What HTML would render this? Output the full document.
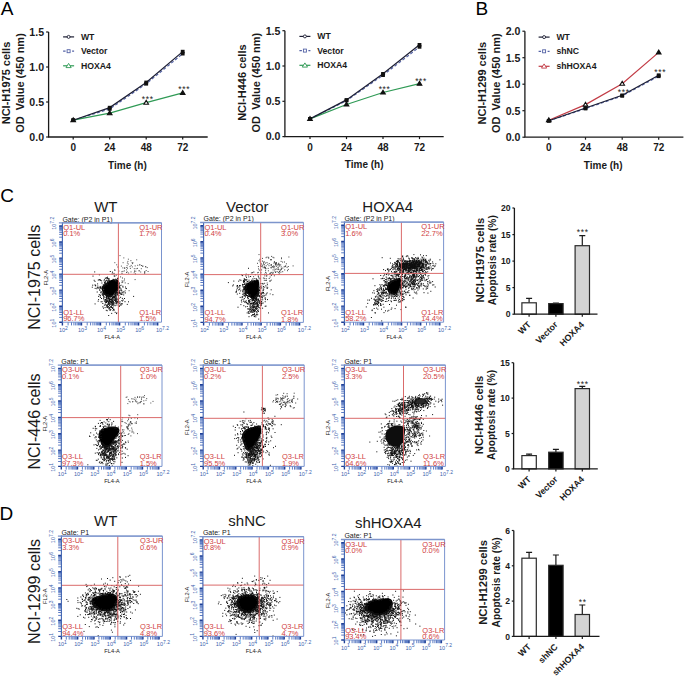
<!DOCTYPE html>
<html><head><meta charset="utf-8"><style>html,body{margin:0;padding:0;background:#fff;width:685px;height:676px;overflow:hidden;font-family:"Liberation Sans",sans-serif}</style></head>
<body>
<svg width="685" height="676" viewBox="0 0 685 676" style="position:absolute;left:0;top:0" font-family='Liberation Sans, sans-serif'>
<rect width="685" height="676" fill="#fff"/>
<defs><filter id="bl" x="-5%" y="-5%" width="110%" height="110%"><feGaussianBlur stdDeviation="0.35"/></filter></defs>
<text x="0.7" y="14.7" font-size="19" fill="#000">A</text>
<text x="475.6" y="15.1" font-size="19" fill="#000">B</text>
<text x="0.2" y="201.6" font-size="19" fill="#000">C</text>
<text x="-0.4" y="519.8" font-size="19" fill="#000">D</text>
<path d="M48.6 32V137H207.7" fill="none" stroke="#1a1a1a" stroke-width="1.3"/>
<path d="M46.1 137H48.6" stroke="#1a1a1a" stroke-width="1.2"/>
<text x="44.1" y="140.8" font-size="10.6" font-weight="bold" text-anchor="end" fill="#1a1a1a">0.0</text>
<path d="M46.1 102H48.6" stroke="#1a1a1a" stroke-width="1.2"/>
<text x="44.1" y="105.8" font-size="10.6" font-weight="bold" text-anchor="end" fill="#1a1a1a">0.5</text>
<path d="M46.1 67H48.6" stroke="#1a1a1a" stroke-width="1.2"/>
<text x="44.1" y="70.8" font-size="10.6" font-weight="bold" text-anchor="end" fill="#1a1a1a">1.0</text>
<path d="M46.1 32H48.6" stroke="#1a1a1a" stroke-width="1.2"/>
<text x="44.1" y="35.8" font-size="10.6" font-weight="bold" text-anchor="end" fill="#1a1a1a">1.5</text>
<path d="M73.2 137V139.5" stroke="#1a1a1a" stroke-width="1.2"/>
<text x="73.2" y="151" font-size="10" font-weight="bold" text-anchor="middle" fill="#1a1a1a">0</text>
<path d="M109.7 137V139.5" stroke="#1a1a1a" stroke-width="1.2"/>
<text x="109.7" y="151" font-size="10" font-weight="bold" text-anchor="middle" fill="#1a1a1a">24</text>
<path d="M146.2 137V139.5" stroke="#1a1a1a" stroke-width="1.2"/>
<text x="146.2" y="151" font-size="10" font-weight="bold" text-anchor="middle" fill="#1a1a1a">48</text>
<path d="M182.7 137V139.5" stroke="#1a1a1a" stroke-width="1.2"/>
<text x="182.7" y="151" font-size="10" font-weight="bold" text-anchor="middle" fill="#1a1a1a">72</text>
<text x="127.4" y="168.5" font-size="10" font-weight="bold" text-anchor="middle" fill="#1a1a1a">Time (h)</text>
<text x="9.8" y="83" font-size="11" font-weight="bold" text-anchor="middle" fill="#1a1a1a" transform="rotate(-90 9.8 83)">NCI-H1975 cells</text>
<text x="24" y="83" font-size="11" font-weight="bold" text-anchor="middle" fill="#1a1a1a" transform="rotate(-90 24 83)" xml:space="preserve">OD  Value (450 nm)</text>
<polyline points="73.2,120.2 109.7,109 146.2,83.8 182.7,53.7" fill="none" stroke="#5563a6" stroke-width="1.2" stroke-dasharray="3,2"/>
<polyline points="73.2,120.2 109.7,113.2 146.2,102.7 182.7,92.9" fill="none" stroke="#2f9a55" stroke-width="1.2"/>
<polyline points="73.2,120.2 109.7,107.6 146.2,82.4 182.7,51.6" fill="none" stroke="#1c1e33" stroke-width="1.2"/>
<rect x="71.3" y="118.4" width="3.8" height="3.6" fill="#111"/>
<rect x="107.8" y="107.2" width="3.8" height="3.6" fill="#111"/>
<rect x="144.3" y="82" width="3.8" height="3.6" fill="#111"/>
<rect x="180.8" y="51.9" width="3.8" height="3.6" fill="#111"/>
<path d="M73.2 117.9l2.3 3.8h-4.6z" fill="#111" stroke="#111" stroke-width="1.1"/>
<path d="M109.7 110.9l2.3 3.8h-4.6z" fill="#111" stroke="#111" stroke-width="1.1"/>
<path d="M146.2 100.4l2.3 3.8h-4.6z" fill="#fff" stroke="#111" stroke-width="1.1"/>
<path d="M182.7 90.6l2.3 3.8h-4.6z" fill="#111" stroke="#111" stroke-width="1.1"/>
<rect x="71.3" y="118.4" width="3.8" height="3.6" fill="#111"/>
<rect x="107.8" y="105.8" width="3.8" height="3.6" fill="#111"/>
<rect x="144.3" y="80.6" width="3.8" height="3.6" fill="#111"/>
<rect x="180.8" y="49.8" width="3.8" height="3.6" fill="#111"/>
<text x="147.7" y="101.7" font-size="8.5" text-anchor="middle" fill="#222" letter-spacing="0.6">***</text>
<text x="184.2" y="91.7" font-size="8.5" text-anchor="middle" fill="#222" letter-spacing="0.6">***</text>
<path d="M63.1 36.9h11" stroke="#1c1e33" stroke-width="1.2"/>
<circle cx="68.6" cy="36.9" r="1.5" fill="#fff" stroke="#1c1e33" stroke-width="0.9"/>
<text x="80.9" y="39.8" font-size="8.7" font-weight="bold" fill="#1a1a1a">WT</text>
<path d="M63.1 51.2h11" stroke="#5563a6" stroke-width="1.2" stroke-dasharray="2.5,2"/>
<rect x="67.1" y="49.7" width="3" height="3" fill="#fff" stroke="#5563a6" stroke-width="0.9"/>
<text x="80.9" y="54.1" font-size="8.7" font-weight="bold" fill="#1a1a1a">Vector</text>
<path d="M63.1 65.8h11" stroke="#2f9a55" stroke-width="1.2"/>
<path d="M68.6 63.4l2.6 4.2h-5.2z" fill="#fff" stroke="#2f9a55" stroke-width="0.9"/>
<text x="80.9" y="68.7" font-size="8.7" font-weight="bold" fill="#1a1a1a">HOXA4</text>
<path d="M284.9 30.7V136.6H443.7" fill="none" stroke="#1a1a1a" stroke-width="1.3"/>
<path d="M282.4 136.6H284.9" stroke="#1a1a1a" stroke-width="1.2"/>
<text x="280.4" y="140.4" font-size="10.6" font-weight="bold" text-anchor="end" fill="#1a1a1a">0.0</text>
<path d="M282.4 101.3H284.9" stroke="#1a1a1a" stroke-width="1.2"/>
<text x="280.4" y="105.1" font-size="10.6" font-weight="bold" text-anchor="end" fill="#1a1a1a">0.5</text>
<path d="M282.4 66H284.9" stroke="#1a1a1a" stroke-width="1.2"/>
<text x="280.4" y="69.8" font-size="10.6" font-weight="bold" text-anchor="end" fill="#1a1a1a">1.0</text>
<path d="M282.4 30.7H284.9" stroke="#1a1a1a" stroke-width="1.2"/>
<text x="280.4" y="34.5" font-size="10.6" font-weight="bold" text-anchor="end" fill="#1a1a1a">1.5</text>
<path d="M310 136.6V139.1" stroke="#1a1a1a" stroke-width="1.2"/>
<text x="310" y="150.6" font-size="10" font-weight="bold" text-anchor="middle" fill="#1a1a1a">0</text>
<path d="M346.5 136.6V139.1" stroke="#1a1a1a" stroke-width="1.2"/>
<text x="346.5" y="150.6" font-size="10" font-weight="bold" text-anchor="middle" fill="#1a1a1a">24</text>
<path d="M383 136.6V139.1" stroke="#1a1a1a" stroke-width="1.2"/>
<text x="383" y="150.6" font-size="10" font-weight="bold" text-anchor="middle" fill="#1a1a1a">48</text>
<path d="M419.5 136.6V139.1" stroke="#1a1a1a" stroke-width="1.2"/>
<text x="419.5" y="150.6" font-size="10" font-weight="bold" text-anchor="middle" fill="#1a1a1a">72</text>
<text x="364.2" y="168.1" font-size="10" font-weight="bold" text-anchor="middle" fill="#1a1a1a">Time (h)</text>
<text x="246.1" y="82.6" font-size="11" font-weight="bold" text-anchor="middle" fill="#1a1a1a" transform="rotate(-90 246.1 82.6)">NCI-H446 cells</text>
<text x="260.3" y="82.6" font-size="11" font-weight="bold" text-anchor="middle" fill="#1a1a1a" transform="rotate(-90 260.3 82.6)" xml:space="preserve">OD  Value (450 nm)</text>
<polyline points="310,118.9 346.5,100.6 383,75.2 419.5,46.9" fill="none" stroke="#5563a6" stroke-width="1.2" stroke-dasharray="3,2"/>
<polyline points="310,118.9 346.5,104.5 383,92.5 419.5,83.7" fill="none" stroke="#2f9a55" stroke-width="1.2"/>
<polyline points="310,118.9 346.5,99.9 383,73.8 419.5,44.8" fill="none" stroke="#1c1e33" stroke-width="1.2"/>
<rect x="308.1" y="117.1" width="3.8" height="3.6" fill="#111"/>
<rect x="344.6" y="98.8" width="3.8" height="3.6" fill="#111"/>
<rect x="381.1" y="73.4" width="3.8" height="3.6" fill="#111"/>
<rect x="417.6" y="45.1" width="3.8" height="3.6" fill="#111"/>
<path d="M310 116.6l2.3 3.8h-4.6z" fill="#111" stroke="#111" stroke-width="1.1"/>
<path d="M346.5 102.2l2.3 3.8h-4.6z" fill="#111" stroke="#111" stroke-width="1.1"/>
<path d="M383 90.2l2.3 3.8h-4.6z" fill="#111" stroke="#111" stroke-width="1.1"/>
<path d="M419.5 81.4l2.3 3.8h-4.6z" fill="#111" stroke="#111" stroke-width="1.1"/>
<rect x="308.1" y="117.1" width="3.8" height="3.6" fill="#111"/>
<rect x="344.6" y="98.1" width="3.8" height="3.6" fill="#111"/>
<rect x="381.1" y="72" width="3.8" height="3.6" fill="#111"/>
<rect x="417.6" y="43" width="3.8" height="3.6" fill="#111"/>
<text x="384.5" y="91.8" font-size="8.5" text-anchor="middle" fill="#222" letter-spacing="0.6">***</text>
<text x="421" y="84.1" font-size="8.5" text-anchor="middle" fill="#222" letter-spacing="0.6">***</text>
<path d="M299.4 36.4h11" stroke="#1c1e33" stroke-width="1.2"/>
<circle cx="304.9" cy="36.4" r="1.5" fill="#fff" stroke="#1c1e33" stroke-width="0.9"/>
<text x="317.2" y="39.3" font-size="8.7" font-weight="bold" fill="#1a1a1a">WT</text>
<path d="M299.4 50.6h11" stroke="#5563a6" stroke-width="1.2" stroke-dasharray="2.5,2"/>
<rect x="303.4" y="49.1" width="3" height="3" fill="#fff" stroke="#5563a6" stroke-width="0.9"/>
<text x="317.2" y="53.5" font-size="8.7" font-weight="bold" fill="#1a1a1a">Vector</text>
<path d="M299.4 65.3h11" stroke="#2f9a55" stroke-width="1.2"/>
<path d="M304.9 62.9l2.6 4.2h-5.2z" fill="#fff" stroke="#2f9a55" stroke-width="0.9"/>
<text x="317.2" y="68.2" font-size="8.7" font-weight="bold" fill="#1a1a1a">HOXA4</text>
<path d="M524.9 31.2V137.2H683.4" fill="none" stroke="#1a1a1a" stroke-width="1.3"/>
<path d="M522.4 137.2H524.9" stroke="#1a1a1a" stroke-width="1.2"/>
<text x="520.4" y="141" font-size="10.6" font-weight="bold" text-anchor="end" fill="#1a1a1a">0.0</text>
<path d="M522.4 110.7H524.9" stroke="#1a1a1a" stroke-width="1.2"/>
<text x="520.4" y="114.5" font-size="10.6" font-weight="bold" text-anchor="end" fill="#1a1a1a">0.5</text>
<path d="M522.4 84.2H524.9" stroke="#1a1a1a" stroke-width="1.2"/>
<text x="520.4" y="88" font-size="10.6" font-weight="bold" text-anchor="end" fill="#1a1a1a">1.0</text>
<path d="M522.4 57.7H524.9" stroke="#1a1a1a" stroke-width="1.2"/>
<text x="520.4" y="61.5" font-size="10.6" font-weight="bold" text-anchor="end" fill="#1a1a1a">1.5</text>
<path d="M522.4 31.2H524.9" stroke="#1a1a1a" stroke-width="1.2"/>
<text x="520.4" y="35" font-size="10.6" font-weight="bold" text-anchor="end" fill="#1a1a1a">2.0</text>
<path d="M548.8 137.2V139.7" stroke="#1a1a1a" stroke-width="1.2"/>
<text x="548.8" y="151.2" font-size="10" font-weight="bold" text-anchor="middle" fill="#1a1a1a">0</text>
<path d="M585.5 137.2V139.7" stroke="#1a1a1a" stroke-width="1.2"/>
<text x="585.5" y="151.2" font-size="10" font-weight="bold" text-anchor="middle" fill="#1a1a1a">24</text>
<path d="M622.2 137.2V139.7" stroke="#1a1a1a" stroke-width="1.2"/>
<text x="622.2" y="151.2" font-size="10" font-weight="bold" text-anchor="middle" fill="#1a1a1a">48</text>
<path d="M658.7 137.2V139.7" stroke="#1a1a1a" stroke-width="1.2"/>
<text x="658.7" y="151.2" font-size="10" font-weight="bold" text-anchor="middle" fill="#1a1a1a">72</text>
<text x="603.2" y="168.7" font-size="10" font-weight="bold" text-anchor="middle" fill="#1a1a1a">Time (h)</text>
<text x="486.1" y="83.2" font-size="11" font-weight="bold" text-anchor="middle" fill="#1a1a1a" transform="rotate(-90 486.1 83.2)">NCI-H1299 cells</text>
<text x="500.3" y="83.2" font-size="11" font-weight="bold" text-anchor="middle" fill="#1a1a1a" transform="rotate(-90 500.3 83.2)" xml:space="preserve">OD  Value (450 nm)</text>
<polyline points="548.8,120.2 585.5,104.6 622.2,83.7 658.7,52.4" fill="none" stroke="#c23b45" stroke-width="1.2"/>
<polyline points="548.8,120.8 585.5,108.6 622.2,95.9 658.7,76.2" fill="none" stroke="#5563a6" stroke-width="1.2" stroke-dasharray="3,2"/>
<polyline points="548.8,120.8 585.5,108 622.2,95.3 658.7,75.2" fill="none" stroke="#1c1e33" stroke-width="1.2"/>
<path d="M548.8 117.9l2.3 3.8h-4.6z" fill="#111" stroke="#111" stroke-width="1.1"/>
<path d="M585.5 102.3l2.3 3.8h-4.6z" fill="#fff" stroke="#111" stroke-width="1.1"/>
<path d="M622.2 81.4l2.3 3.8h-4.6z" fill="#fff" stroke="#111" stroke-width="1.1"/>
<path d="M658.7 50.1l2.3 3.8h-4.6z" fill="#111" stroke="#111" stroke-width="1.1"/>
<rect x="546.9" y="119" width="3.8" height="3.6" fill="#111"/>
<rect x="583.6" y="106.8" width="3.8" height="3.6" fill="#111"/>
<rect x="620.3" y="94.1" width="3.8" height="3.6" fill="#111"/>
<rect x="656.8" y="74.5" width="3.8" height="3.6" fill="#111"/>
<rect x="546.9" y="119" width="3.8" height="3.6" fill="#111"/>
<rect x="583.6" y="106.2" width="3.8" height="3.6" fill="#111"/>
<rect x="620.3" y="93.5" width="3.8" height="3.6" fill="#111"/>
<rect x="656.8" y="73.4" width="3.8" height="3.6" fill="#111"/>
<text x="623.7" y="94.7" font-size="8.5" text-anchor="middle" fill="#222" letter-spacing="0.6">***</text>
<text x="660.2" y="74.7" font-size="8.5" text-anchor="middle" fill="#222" letter-spacing="0.6">***</text>
<path d="M538.6 37.1h11" stroke="#1c1e33" stroke-width="1.2"/>
<circle cx="544.1" cy="37.1" r="1.5" fill="#fff" stroke="#1c1e33" stroke-width="0.9"/>
<text x="556.4" y="40" font-size="8.7" font-weight="bold" fill="#1a1a1a">WT</text>
<path d="M538.6 51.3h11" stroke="#5563a6" stroke-width="1.2" stroke-dasharray="2.5,2"/>
<rect x="542.6" y="49.8" width="3" height="3" fill="#fff" stroke="#5563a6" stroke-width="0.9"/>
<text x="556.4" y="54.2" font-size="8.7" font-weight="bold" fill="#1a1a1a">shNC</text>
<path d="M538.6 66.3h11" stroke="#c23b45" stroke-width="1.2"/>
<path d="M544.1 63.9l2.6 4.2h-5.2z" fill="#fff" stroke="#c23b45" stroke-width="0.9"/>
<text x="556.4" y="69.2" font-size="8.7" font-weight="bold" fill="#1a1a1a">shHOXA4</text>
<text x="40" y="277.3" font-size="16" text-anchor="middle" fill="#1a1a1a" transform="rotate(-90 40 277.3)">NCI-1975 cells</text>
<text x="40" y="421.5" font-size="16" text-anchor="middle" fill="#1a1a1a" transform="rotate(-90 40 421.5)">NCI-446 cells</text>
<text x="40" y="591.5" font-size="16" text-anchor="middle" fill="#1a1a1a" transform="rotate(-90 40 591.5)">NCI-1299 cells</text>
<path d="M62.4 317.4h-3.2M62.4 314.6h-3.2M62.4 312.5h-3.2M62.4 311h-3.2M62.4 309.7h-3.2M62.4 308.7h-3.2M62.4 307.7h-3.2M62.4 306.9h-3.2M62.4 301.3h-3.2M62.4 298.5h-3.2M62.4 296.5h-3.2M62.4 295h-3.2M62.4 293.7h-3.2M62.4 292.6h-3.2M62.4 291.7h-3.2M62.4 290.9h-3.2M62.4 285.3h-3.2M62.4 282.5h-3.2M62.4 280.5h-3.2M62.4 278.9h-3.2M62.4 277.7h-3.2M62.4 276.6h-3.2M62.4 275.7h-3.2M62.4 274.8h-3.2M62.4 269.3h-3.2M62.4 266.5h-3.2M62.4 264.5h-3.2M62.4 262.9h-3.2M62.4 261.6h-3.2M62.4 260.6h-3.2M62.4 259.6h-3.2M62.4 258.8h-3.2M62.4 253.2h-3.2M62.4 250.4h-3.2M62.4 248.4h-3.2M62.4 246.9h-3.2M62.4 245.6h-3.2M62.4 244.5h-3.2M62.4 243.6h-3.2M62.4 242.8h-3.2M62.4 237.2h-3.2M62.4 234.4h-3.2M62.4 232.4h-3.2M62.4 230.8h-3.2M62.4 229.6h-3.2M62.4 228.5h-3.2M62.4 227.6h-3.2M62.4 226.7h-3.2M68.1 322.2v3.2M71.5 322.2v3.2M73.9 322.2v3.2M75.7 322.2v3.2M77.2 322.2v3.2M78.5 322.2v3.2M79.6 322.2v3.2M80.6 322.2v3.2M87.2 322.2v3.2M90.6 322.2v3.2M92.9 322.2v3.2M94.8 322.2v3.2M96.3 322.2v3.2M97.6 322.2v3.2M98.7 322.2v3.2M99.6 322.2v3.2M106.3 322.2v3.2M109.6 322.2v3.2M112 322.2v3.2M113.8 322.2v3.2M115.3 322.2v3.2M116.6 322.2v3.2M117.7 322.2v3.2M118.7 322.2v3.2M125.3 322.2v3.2M128.7 322.2v3.2M131 322.2v3.2M132.9 322.2v3.2M134.4 322.2v3.2M135.7 322.2v3.2M136.8 322.2v3.2M137.8 322.2v3.2M144.4 322.2v3.2M147.7 322.2v3.2M150.1 322.2v3.2M152 322.2v3.2M153.5 322.2v3.2M154.7 322.2v3.2M155.8 322.2v3.2M156.8 322.2v3.2" stroke="#5d7cc4" stroke-width="1"/>
<path d="M62.4 322.2h-3.2M62.4 306.2h-3.2M62.4 290.1h-3.2M62.4 274.1h-3.2M62.4 258.1h-3.2M62.4 242h-3.2M62.4 226h-3.2M62.4 322.2v3.2M81.5 322.2v3.2M100.5 322.2v3.2M119.6 322.2v3.2M138.6 322.2v3.2M157.7 322.2v3.2" stroke="#1f3f95" stroke-width="1.4"/>
<text x="56.2" y="323.2" font-size="5.5" fill="#3c5fae" transform="rotate(-90 56.2 323.2)" text-anchor="middle">10<tspan font-size="5" dy="-2.2">1</tspan></text>
<text x="56.2" y="307.2" font-size="5.5" fill="#3c5fae" transform="rotate(-90 56.2 307.2)" text-anchor="middle">10<tspan font-size="5" dy="-2.2">2</tspan></text>
<text x="56.2" y="291.1" font-size="5.5" fill="#3c5fae" transform="rotate(-90 56.2 291.1)" text-anchor="middle">10<tspan font-size="5" dy="-2.2">3</tspan></text>
<text x="56.2" y="275.1" font-size="5.5" fill="#3c5fae" transform="rotate(-90 56.2 275.1)" text-anchor="middle">10<tspan font-size="5" dy="-2.2">4</tspan></text>
<text x="56.2" y="259.1" font-size="5.5" fill="#3c5fae" transform="rotate(-90 56.2 259.1)" text-anchor="middle">10<tspan font-size="5" dy="-2.2">5</tspan></text>
<text x="56.2" y="243" font-size="5.5" fill="#3c5fae" transform="rotate(-90 56.2 243)" text-anchor="middle">10<tspan font-size="5" dy="-2.2">6</tspan></text>
<text x="56.2" y="223.3" font-size="5.5" fill="#3c5fae" transform="rotate(-90 56.2 223.3)" text-anchor="middle">10<tspan font-size="5" dy="-2.2">7.2</tspan></text>
<text x="63.4" y="331.7" font-size="5.5" fill="#3c5fae" text-anchor="middle">10<tspan font-size="5" dy="-2.2">2</tspan></text>
<text x="82.5" y="331.7" font-size="5.5" fill="#3c5fae" text-anchor="middle">10<tspan font-size="5" dy="-2.2">3</tspan></text>
<text x="101.5" y="331.7" font-size="5.5" fill="#3c5fae" text-anchor="middle">10<tspan font-size="5" dy="-2.2">4</tspan></text>
<text x="120.6" y="331.7" font-size="5.5" fill="#3c5fae" text-anchor="middle">10<tspan font-size="5" dy="-2.2">5</tspan></text>
<text x="139.6" y="331.7" font-size="5.5" fill="#3c5fae" text-anchor="middle">10<tspan font-size="5" dy="-2.2">6</tspan></text>
<text x="162.5" y="331.7" font-size="5.5" fill="#3c5fae" text-anchor="middle">10<tspan font-size="5" dy="-2.2">7.2</tspan></text>
<text x="48.1" y="277.8" font-size="5.7" text-anchor="middle" fill="#222" transform="rotate(-90 48.1 277.8)">FL2-A</text>
<text x="112.2" y="339" font-size="5.7" text-anchor="middle" fill="#222">FL4-A</text>
<text x="62.4" y="221.5" font-size="7" fill="#222">Gate: (P2 in P1)</text>
<text x="105.8" y="212.3" font-size="15" text-anchor="middle" fill="#1a1a1a">WT</text>
<g clip-path="url(#c1)" filter="url(#bl)">
<path d="M103.9 285C105.2 283.9 108 281.5 110 280.6C112 279.6 114.5 279.5 115.9 279.6C117.3 279.6 117.9 279.3 118.3 281C118.7 282.8 119 287.8 118.3 290C117.6 292.1 115.4 292.8 114 294C112.6 295.1 111.3 296.6 110 297C108.6 297.3 107.2 296.8 106 296C104.8 295.1 103.2 293.5 102.5 292C101.9 290.5 101.8 288.2 102 287C102.3 285.9 102.6 286.1 103.9 285Z" fill="#050505"/>
<path d="M118.8 303.7h1M103.4 289.3h1M103.9 279.7h1M100.8 291.8h1M112.5 307.9h1M118.4 295.3h1M116.3 290.9h1M111.9 298.6h1M114.9 293.7h1M103.5 292.1h1M111 296.3h1M111.9 299.1h1M123.2 294.9h1M114.7 296.9h1M108.7 280.5h1M116.7 290.7h1M107.6 298.8h1M119.7 285.7h1M101.9 288.3h1M115.2 294h1M114.2 300h1M107.7 281h1M105.6 294.9h1M99.3 287.2h1M120.1 297.3h1M119.1 293.2h1M92.2 285.2h1M94.6 284.8h1M104.2 285.9h1M109.5 299.4h1M113 280.2h1M118.5 286.8h1M122.7 300h1M103 288.8h1M106.8 295h1M101.7 286.3h1M105 284.9h1M115 293.7h1M114.2 300.5h1M117.9 284.7h1M113.9 280.8h1M110.1 304h1M117.4 299.5h1M114.7 299.6h1M113 296.8h1M107.3 297.1h1M116.8 294.4h1M121.2 303.8h1M101.1 280.8h1M116.7 301.8h1M115.8 301.9h1M106.9 282.8h1M113.7 310.2h1M112 301.4h1M103.8 294.6h1M106.5 298.6h1M115.5 295h1M123.3 292.8h1M106 302.3h1M104.8 304.2h1M117.4 278.2h1M122.2 282h1M113.1 301.8h1M118 299.8h1M108.3 298.2h1M104.5 301.4h1M112.2 297.6h1M121.7 294.1h1M104.8 278.3h1M117.7 286.9h1M91.8 287.2h1M111.5 302.3h1M113.8 294.5h1M107.6 295.1h1M123.4 291.6h1M115.8 299.4h1M122 301h1M113.3 280.2h1M105.7 297.5h1M114.9 295.4h1M116.8 290.1h1M108.5 302.3h1M120.5 303.8h1M115.1 294.1h1M117.2 293h1M113.4 295h1M111 302.5h1M121.8 303.8h1M98.1 299.6h1M110.3 298.9h1M118 299.5h1M115.8 292.5h1M104.7 285.4h1M125 287h1M112.4 301h1M118.5 292.9h1M106.9 281.2h1M110 299.5h1M108.8 295.5h1M115 295.5h1M117.4 292.9h1M105.1 281.9h1M116.4 290.9h1M108.5 296.3h1M105.4 301.5h1M106.4 297.2h1M102.8 284.7h1M118.6 298.3h1M107.6 301.8h1M97.6 287.8h1M114.8 299.2h1M113.5 273.4h1M116.5 298.3h1M104.9 302.7h1M115.1 279.2h1M108.4 281.1h1M121.9 292.3h1M102.8 286.4h1M114 296.2h1M103.3 294.4h1M103 287.6h1M106.4 284.3h1M106.4 280.2h1M111 299.3h1M103.4 293.6h1M122.5 287.1h1M109 300.4h1M97.3 286.1h1M116.4 302.8h1M106 277.9h1M103.5 296.6h1M119 283h1M118.6 291.9h1M112.6 296.6h1M112.2 300.4h1M106.2 280.4h1M106 296.5h1M115.8 302.3h1M128 301.8h1M108.9 305.5h1M112.5 279.4h1M105.1 281h1M96.7 292h1M116.7 292.2h1M113.4 297.4h1M120.3 304.9h1M114.4 296.4h1M110.6 302.5h1M114.6 292.8h1M104.3 282.9h1M108.7 298.9h1M109.2 299.7h1M110.4 301.4h1M113.5 280.7h1M118.4 292.6h1M97.8 288h1M119.6 301.9h1M118.3 301.4h1M94.5 281.4h1M111.7 273.9h1M115.4 298.9h1M103.9 291.8h1M108.3 297h1M101.2 288.8h1M115.7 293.2h1M99.6 279.9h1M117.6 293.1h1M109.8 271.5h1M104.7 283.9h1M105.3 294.2h1M99.9 295.3h1M101.4 283h1M119 287.6h1M99.8 288.4h1M104.5 282.1h1M104.2 282.5h1M120.8 290.3h1M107 277.2h1M99.8 287.2h1M94.9 285.6h1M107.2 281.9h1M111.6 296.1h1M121.3 300.6h1M100 287.2h1M115.1 301.3h1M107.8 278.6h1M109.4 300.1h1M111.4 300.2h1M115.8 303.5h1M113.3 309.2h1M107.1 278h1M124 298.5h1M100.5 292.8h1M117.3 292.4h1M119.4 288.7h1M117.1 301.6h1M103.6 297.6h1M111.1 302.1h1M115.5 297.2h1M99.4 279.8h1M107.1 278.6h1M119.1 292.1h1M103.7 299.8h1M117.8 300.6h1M115.8 296.9h1M112.8 296.3h1M98.7 279.5h1M114.2 280.1h1M107.8 296.4h1M97.8 280.1h1M99.7 295.9h1M116.3 301h1M116.4 295.6h1M115.4 298.4h1M118 281.6h1M103.6 280.8h1M105.6 278h1M98.9 274.8h1M124.5 301.7h1M104 284h1M106.4 295.5h1M114.6 305.7h1M102 293.1h1M108.1 279.9h1M108.5 279.9h1M110.3 309.5h1M118.9 306.2h1M118.2 283.6h1M97.7 301.2h1M118.1 295.9h1M102.5 295.2h1M116.7 294.8h1M118.3 302.5h1M114.9 280.6h1M108.2 297.2h1M110.7 299.9h1M107.6 295.8h1M113.8 276.2h1M106.4 284.1h1M120.7 293.9h1M97.1 283.9h1M113.9 297.8h1M105.7 297h1M121.9 298.4h1M108.7 296.7h1M105.6 299.6h1M102.6 288.8h1M118.9 306h1M107.8 295.8h1M126.8 304.4h1M96.3 288.7h1M125.8 288.6h1M116.3 279.4h1M120.7 289.1h1M115.7 299.1h1M92.5 276.1h1M119.1 290.8h1M104.6 293.7h1M118.3 292.9h1M112.3 295.2h1M107.3 282.5h1M101.6 294.2h1M114.4 295.9h1M105.2 283.7h1M116.4 305h1M116.6 294.2h1M107.6 304.1h1M99.9 280.3h1M106.8 282.8h1M121.3 290.9h1M108.7 278.8h1M115.4 292.9h1M113.7 302.9h1M119 286.2h1M112.5 297.2h1M114.4 296.5h1M118.6 286.9h1M118.4 292.4h1M103.1 285.3h1M102.5 287.5h1M117.1 278.6h1M102.8 294h1M108.5 296h1M101.9 288.3h1M93.7 280.3h1M115.2 301h1M121 294.4h1M98.1 296.4h1M118.1 287.8h1M122.3 286.2h1M99.3 290.4h1M103 296.9h1M106.4 295.5h1M114.4 293.1h1M109.6 304.2h1M115.4 292.9h1M99.9 287h1M120.5 292.8h1M113.3 294.2h1M115 291.9h1M115.3 293.8h1M94.7 288.4h1M102.1 295h1M94.2 271.9h1M102.9 286.4h1M101.6 301.7h1M110 296.6h1M99.1 289.2h1M117.6 284.6h1M103.1 295.3h1M108.4 298.3h1M99.9 297.4h1M112.8 299.8h1M98.8 294.6h1M115.8 292.8h1M96.8 287.6h1M119.9 293.8h1M125.6 288.4h1M109.6 299.3h1M100.3 292.2h1M108.9 301.1h1M107.9 302.7h1M111 307.3h1M102.3 294h1M104.8 299.9h1M111.6 305.5h1M108.5 308.9h1M109.2 304.8h1M106.8 305.5h1M107 307.1h1M112.5 310.6h1M108 295.6h1M112.4 302.9h1M107.9 306.6h1M108.6 303.6h1M111.2 304.3h1M113.1 304.6h1M108.2 295.2h1M108.5 298.1h1M110.9 307.4h1M112.2 297.9h1M110.2 301.4h1M107.8 307.8h1M111.6 303.1h1M106.9 307h1M108.7 301.2h1M108.6 303.7h1M109.4 309.8h1M109.1 300h1M114.4 305.1h1M111.9 303.9h1M109.3 302.9h1M111.3 301.9h1M103 308.2h1M107.8 298.5h1M108.3 297.7h1M106.4 300.9h1M112.5 299.9h1M112.1 295.7h1M111.9 297.6h1M107.4 295.1h1M105.1 300.2h1M106.1 300.2h1M113.4 297.1h1M108.4 300.8h1M107.3 301.2h1M110.3 306.5h1M106.9 300.3h1M108.9 307.4h1M106 302.2h1M112.1 304.2h1M107 296.2h1M103.1 298.7h1M112.4 302.1h1M108.6 298.7h1M111.1 299.9h1M111.2 298.9h1M105.8 310.3h1M113.1 309.5h1M106.7 304.9h1M112.9 305.9h1M108.8 308.6h1M118 302h1M113.8 297.9h1M106.2 305.7h1M112.3 297.6h1M102.3 306.8h1M105.5 305h1M113.2 303.2h1M114.7 303.1h1M110.5 301.3h1M110.9 303.1h1M106.2 301.1h1M108.2 315.5h1M113.7 297.4h1M109.7 310.4h1M109.8 307.7h1M108.2 303.6h1M106.7 310.7h1M106.6 307.3h1M115.4 301.1h1M113 303.1h1M107.4 304.2h1M111 296.4h1M108.3 301.1h1M111.8 307.6h1M106.3 301.7h1M116.8 302.8h1M104.6 307.6h1M112 308.4h1M112 304h1M114.5 300h1M110.3 295.9h1M105.5 302.4h1M110.8 306.4h1M105.1 299.6h1M115.4 297.1h1M111.5 305.2h1M110.1 302.1h1M111.4 302.8h1M110.3 297.4h1M114.7 312.3h1M112.9 301.9h1M105.7 295.3h1M113.1 298.1h1M109.2 301.7h1M113.7 297.3h1M108.1 304.4h1M111.6 300.6h1M105.9 298.3h1M103.9 305.2h1M114.6 298.2h1M104.7 283.2h1M111.2 313.4h1M120.4 305.1h1M102.3 303.5h1M104.5 284.7h1M117.5 293.3h1M133.1 296.4h1M108.2 302.5h1M100.6 301.8h1M124.9 292.9h1M106.4 306.7h1M101 298.5h1M106.3 297.6h1M103.9 301h1M116 313.6h1M107.7 299.2h1M95.2 285.8h1M113.3 279.4h1M115.2 300.9h1M106.7 301.5h1M106 295.6h1M115.6 300.5h1M116.3 312.9h1M94.6 303.9h1M100.9 287.9h1M106.4 298.9h1" stroke="#111" stroke-width="1"/>
<path d="M112 272.3h1M119.8 290.2h1M124.2 268.4h1M103.1 289.6h1M123.8 270.9h1M127.7 283.6h1M134.6 279.6h1M118.9 283.4h1M113.8 275.8h1M115.9 275.1h1M114.2 269.8h1M115.3 280.8h1M122 278h1M124.7 282.9h1M124.7 290.8h1M123.6 280.8h1M119 284.9h1M130.4 260.7h1M126.7 271.9h1M124 279h1M114.4 270.4h1M120.3 294.1h1M114.5 276h1M120.1 276.9h1M128.6 290.7h1M121.6 280.9h1M119.9 287.9h1M121.5 282.6h1M120.7 285.2h1M121.5 273.4h1" stroke="#444" stroke-width="1"/>
<path d="M131.6 262.7h1M127.4 261.4h1M138.6 270.7h1M137 268.4h1M127 268.2h1M119.5 255.6h1M122.4 271.4h1M133.7 272.8h1M126.1 269.9h1M144.4 271.7h1M134 271h1M128.1 273h1M122.6 262.7h1M132 263.6h1M145.7 270.5h1M126 272.5h1M142.5 266.1h1M144.2 272.4h1M127.8 264h1M134.2 271.3h1M144.2 273.6h1M127.9 259.2h1M118.4 271.1h1M140.2 272h1M131.8 266.9h1M135.6 268.7h1M132.4 262.8h1M120.9 266.1h1M130.5 271.9h1M123.3 257.9h1M116.2 264.8h1M145.1 266.5h1M126.2 267.5h1M144 272h1M138.7 270.9h1M129.5 266.6h1M135 273.9h1M114.3 262.7h1M134.7 265.9h1M130.7 265.4h1M124.2 267.7h1M142 266.2h1M135.3 271.2h1M126.6 265.7h1M121.4 271.7h1M145.4 267.1h1M147.6 271.5h1M117.3 267h1M133.8 268.7h1M137.2 265.3h1M140.8 268.7h1M146.8 267.6h1M111.9 272h1M136.2 259.8h1M126.9 263h1M139.2 264.8h1M141 265.5h1M139.4 264.9h1M122.3 267.9h1M129.9 268.4h1" stroke="#555" stroke-width="1"/>
</g>
<defs><clipPath id="c1"><rect x="62.4" y="222.8" width="99.1" height="99.4"/></clipPath></defs>
<path d="M118.4 222.8V322.2M62.4 274.3H161.5" stroke="#d65a5a" stroke-width="0.9"/>
<path d="M62.4 222.8H161.5V322.2H62.4" fill="none" stroke="#6b88c8" stroke-width="0.9"/>
<path d="M62.4 222.3V322.7" fill="none" stroke="#3f62b0" stroke-width="1.1"/>
<path d="M58.9 222.8H161.5" fill="none" stroke="#7d95cc" stroke-width="1.3"/>
<text x="63.2" y="229.8" font-size="7.5" fill="#d0413f">Q1-UL</text>
<text x="63.2" y="236.4" font-size="7.5" fill="#d0413f">0.1%</text>
<text x="139.2" y="229.8" font-size="7.5" fill="#d0413f">Q1-UR</text>
<text x="139.2" y="236.4" font-size="7.5" fill="#d0413f">1.7%</text>
<text x="63.2" y="315" font-size="7.5" fill="#d0413f">Q1-LL</text>
<text x="63.2" y="321.4" font-size="7.5" fill="#d0413f">96.7%</text>
<text x="139.2" y="315" font-size="7.5" fill="#d0413f">Q1-LR</text>
<text x="139.2" y="321.4" font-size="7.5" fill="#d0413f">1.5%</text>
<path d="M203.6 317.5h-3.2M203.6 314.7h-3.2M203.6 312.7h-3.2M203.6 311.1h-3.2M203.6 309.9h-3.2M203.6 308.8h-3.2M203.6 307.8h-3.2M203.6 307h-3.2M203.6 301.4h-3.2M203.6 298.6h-3.2M203.6 296.6h-3.2M203.6 295h-3.2M203.6 293.7h-3.2M203.6 292.7h-3.2M203.6 291.7h-3.2M203.6 290.9h-3.2M203.6 285.3h-3.2M203.6 282.5h-3.2M203.6 280.5h-3.2M203.6 278.9h-3.2M203.6 277.6h-3.2M203.6 276.6h-3.2M203.6 275.6h-3.2M203.6 274.8h-3.2M203.6 269.2h-3.2M203.6 266.4h-3.2M203.6 264.4h-3.2M203.6 262.8h-3.2M203.6 261.5h-3.2M203.6 260.4h-3.2M203.6 259.5h-3.2M203.6 258.7h-3.2M203.6 253.1h-3.2M203.6 250.3h-3.2M203.6 248.2h-3.2M203.6 246.7h-3.2M203.6 245.4h-3.2M203.6 244.3h-3.2M203.6 243.4h-3.2M203.6 242.6h-3.2M203.6 237h-3.2M203.6 234.1h-3.2M203.6 232.1h-3.2M203.6 230.6h-3.2M203.6 229.3h-3.2M203.6 228.2h-3.2M203.6 227.3h-3.2M203.6 226.5h-3.2M209.4 322.4v3.2M212.8 322.4v3.2M215.2 322.4v3.2M217 322.4v3.2M218.5 322.4v3.2M219.8 322.4v3.2M220.9 322.4v3.2M221.9 322.4v3.2M228.6 322.4v3.2M231.9 322.4v3.2M234.3 322.4v3.2M236.2 322.4v3.2M237.7 322.4v3.2M239 322.4v3.2M240.1 322.4v3.2M241.1 322.4v3.2M247.8 322.4v3.2M251.1 322.4v3.2M253.5 322.4v3.2M255.4 322.4v3.2M256.9 322.4v3.2M258.2 322.4v3.2M259.3 322.4v3.2M260.3 322.4v3.2M267 322.4v3.2M270.3 322.4v3.2M272.7 322.4v3.2M274.6 322.4v3.2M276.1 322.4v3.2M277.4 322.4v3.2M278.5 322.4v3.2M279.5 322.4v3.2M286.1 322.4v3.2M289.5 322.4v3.2M291.9 322.4v3.2M293.8 322.4v3.2M295.3 322.4v3.2M296.6 322.4v3.2M297.7 322.4v3.2M298.7 322.4v3.2" stroke="#5d7cc4" stroke-width="1"/>
<path d="M203.6 322.4h-3.2M203.6 306.3h-3.2M203.6 290.2h-3.2M203.6 274.1h-3.2M203.6 257.9h-3.2M203.6 241.8h-3.2M203.6 225.7h-3.2M203.6 322.4v3.2M222.8 322.4v3.2M242 322.4v3.2M261.2 322.4v3.2M280.4 322.4v3.2M299.6 322.4v3.2" stroke="#1f3f95" stroke-width="1.4"/>
<text x="197.4" y="323.4" font-size="5.5" fill="#3c5fae" transform="rotate(-90 197.4 323.4)" text-anchor="middle">10<tspan font-size="5" dy="-2.2">1</tspan></text>
<text x="197.4" y="307.3" font-size="5.5" fill="#3c5fae" transform="rotate(-90 197.4 307.3)" text-anchor="middle">10<tspan font-size="5" dy="-2.2">2</tspan></text>
<text x="197.4" y="291.2" font-size="5.5" fill="#3c5fae" transform="rotate(-90 197.4 291.2)" text-anchor="middle">10<tspan font-size="5" dy="-2.2">3</tspan></text>
<text x="197.4" y="275.1" font-size="5.5" fill="#3c5fae" transform="rotate(-90 197.4 275.1)" text-anchor="middle">10<tspan font-size="5" dy="-2.2">4</tspan></text>
<text x="197.4" y="258.9" font-size="5.5" fill="#3c5fae" transform="rotate(-90 197.4 258.9)" text-anchor="middle">10<tspan font-size="5" dy="-2.2">5</tspan></text>
<text x="197.4" y="242.8" font-size="5.5" fill="#3c5fae" transform="rotate(-90 197.4 242.8)" text-anchor="middle">10<tspan font-size="5" dy="-2.2">6</tspan></text>
<text x="197.4" y="223" font-size="5.5" fill="#3c5fae" transform="rotate(-90 197.4 223)" text-anchor="middle">10<tspan font-size="5" dy="-2.2">7.2</tspan></text>
<text x="204.6" y="331.9" font-size="5.5" fill="#3c5fae" text-anchor="middle">10<tspan font-size="5" dy="-2.2">2</tspan></text>
<text x="223.8" y="331.9" font-size="5.5" fill="#3c5fae" text-anchor="middle">10<tspan font-size="5" dy="-2.2">3</tspan></text>
<text x="243" y="331.9" font-size="5.5" fill="#3c5fae" text-anchor="middle">10<tspan font-size="5" dy="-2.2">4</tspan></text>
<text x="262.2" y="331.9" font-size="5.5" fill="#3c5fae" text-anchor="middle">10<tspan font-size="5" dy="-2.2">5</tspan></text>
<text x="281.4" y="331.9" font-size="5.5" fill="#3c5fae" text-anchor="middle">10<tspan font-size="5" dy="-2.2">6</tspan></text>
<text x="304.4" y="331.9" font-size="5.5" fill="#3c5fae" text-anchor="middle">10<tspan font-size="5" dy="-2.2">7.2</tspan></text>
<text x="189.3" y="279.4" font-size="5.7" text-anchor="middle" fill="#222" transform="rotate(-90 189.3 279.4)">FL2-A</text>
<text x="253.7" y="339.2" font-size="5.7" text-anchor="middle" fill="#222">FL4-A</text>
<text x="203.6" y="221.2" font-size="7" fill="#222">Gate: (P2 in P1)</text>
<text x="247.3" y="212" font-size="15" text-anchor="middle" fill="#1a1a1a">Vector</text>
<g clip-path="url(#c2)" filter="url(#bl)">
<path d="M258.5 280C259.8 281.8 259.4 289.2 259 292C258.6 294.9 257 295.7 256 297C255 298.4 254.5 300.7 253 300C251.5 299.4 248.5 294.9 247 293C245.5 291.2 244.3 290.5 244.1 289C244 287.5 245 285.3 246.1 284C247.3 282.8 249 282.2 251.1 281.5C253.2 280.9 257.2 278.3 258.5 280Z" fill="#050505"/>
<path d="M266.7 292.9h1M244.5 284h1M245.6 293.4h1M248 268.3h1M259.2 292.3h1M246.7 292.7h1M246 291.9h1M241.5 299.3h1M243.3 288.1h1M249.9 295.3h1M227.9 282.6h1M260.6 287.7h1M250.1 276.5h1M252.4 280.2h1M240.4 304.6h1M251.8 281.2h1M243.8 291.9h1M236.8 288.3h1M239.3 288.1h1M243.3 301.4h1M238.2 281.2h1M252.5 299h1M261.3 292.9h1M243.7 289.5h1M246.5 282.9h1M249.8 296.4h1M236.4 286h1M253.4 307.5h1M257.7 300h1M254.8 307.9h1M242.4 294.6h1M257.5 295.9h1M256.1 303.4h1M265.5 306.1h1M261.9 297.9h1M256.4 294.9h1M255.5 303.8h1M257.3 295.9h1M243.5 281.9h1M256 298.2h1M258.5 296.3h1M252.6 281.1h1M260.4 288.6h1M258.1 286.2h1M246.9 291.7h1M257.2 299.1h1M245.9 286.9h1M246.2 286h1M259.7 296.3h1M259.1 300.8h1M232.9 284.9h1M270.7 289.8h1M252.3 300.4h1M251.5 302h1M243.2 280.5h1M244.5 294.1h1M252 297.6h1M244.3 288.9h1M248.1 300.8h1M254.8 308.7h1M261.7 293.3h1M244.4 293.4h1M244.6 294.3h1M237 285.5h1M257.7 293.9h1M261.3 297.1h1M256 297.6h1M258.6 295.7h1M245.2 294.6h1M253.7 302.4h1M256.3 296.7h1M240.9 300.7h1M261.1 301.3h1M254.5 302.2h1M245.9 295.5h1M262.6 303h1M241.1 274.8h1M245.4 279.9h1M247 297h1M244.2 288.6h1M262.8 292.7h1M262.7 290.7h1M250.1 296.9h1M246.5 291.1h1M242.7 294.1h1M259 290.4h1M237.5 307.2h1M255.6 299.8h1M266.9 284.7h1M250.2 296.9h1M246.8 281.3h1M244.2 293.2h1M257.7 300.3h1M261.9 292.3h1M257.9 299.6h1M262.8 296h1M240.4 280.3h1M254.8 301.3h1M244.9 291h1M247.8 274.9h1M251.2 281.9h1M252.4 278.8h1M252.9 302.8h1M243.6 295.8h1M260.6 294.1h1M258.7 295.5h1M248.3 276.9h1M244.5 279.4h1M267 299.6h1M250.4 282.4h1M262.7 288h1M261.1 303.5h1M255.7 305.9h1M257.3 301.9h1M247 293h1M244.8 286.9h1M256.2 312h1M239.2 289.4h1M245.6 280.3h1M241.8 290.1h1M248.9 296.4h1M261 301.5h1M256.5 304.7h1M246.3 279.4h1M254.8 299.6h1M246.2 291.9h1M259.8 295.9h1M257.6 293.1h1M245.3 288.6h1M239.2 293.3h1M248.1 300.9h1M243.5 290.6h1M244.5 279.9h1M239.1 285.5h1M249.8 296.7h1M247 292.2h1M248.7 309.2h1M260.6 304.1h1M247 295.6h1M246.5 292.8h1M263.1 286.5h1M242.8 293.1h1M255.4 296.9h1M255.1 303.7h1M247.2 295.7h1M241.7 296.8h1M244.2 302.2h1M258.4 291h1M245.7 274.2h1M251 280.3h1M261.9 283.8h1M251.9 272.7h1M249.2 301.3h1M248.3 294h1M257.4 292.7h1M237.9 289.9h1M257.9 311.4h1M247.9 296.6h1M263.2 289.2h1M249.5 301.7h1M254.8 298.6h1M254.3 297.1h1M251.5 299.9h1M251.5 299h1M251.6 297.8h1M243.8 298.5h1M239.1 286.1h1M245.7 300.8h1M258 294.6h1M242.6 291h1M246.5 303.1h1M244.4 284.5h1M233.3 281.1h1M263.9 295.8h1M245.1 292.3h1M268 312.9h1M262.1 308.2h1M245.3 275.9h1M256.4 297h1M256.2 298.2h1M260.7 293.8h1M264.7 301.7h1M251.9 300.7h1M256 309.2h1M246 277.3h1M256.3 300.5h1M255 296.7h1M255.8 295.5h1M244.9 297h1M260.4 283.5h1M260.9 303.8h1M247.6 295.3h1M245.3 293.5h1M242.2 296.8h1M246.3 291.6h1M253.3 272.1h1M252.8 303.9h1M248.5 281.5h1M259.6 297h1M243.3 284.6h1M244 281.5h1M262.2 299.8h1M246.2 283.8h1M257.8 311.1h1M265.3 295.1h1M246.3 291.9h1M254.6 306.4h1M258.4 289.5h1M245.8 294.3h1M247.5 298.7h1M245.3 295.7h1M252.9 282h1M245.8 292.3h1M246.6 291.6h1M254.2 300.9h1M254.1 300.9h1M255.7 302.4h1M244.4 283h1M258.9 287.8h1M249.9 296.4h1M264.6 298.1h1M253.3 298.9h1M249.4 296.7h1M245.2 293h1M256.7 302.1h1M239.3 279.9h1M246.9 284.2h1M256 278.9h1M254.7 298.4h1M265.9 293.9h1M254.5 304.1h1M249.2 283.3h1M251.9 297.5h1M260.4 299.5h1M257.3 302.1h1M246.1 295.4h1M257.9 293.3h1M245.2 291.4h1M239.8 285.7h1M264.7 306.3h1M243.7 289.2h1M248.5 280.2h1M255.1 298.6h1M242.8 287.1h1M242.1 275.6h1M258.1 300.2h1M259.8 300.8h1M248 301h1M236.1 290h1M247.9 296.3h1M259.3 290.6h1M260.4 303.3h1M241.2 302h1M243.8 280h1M244.8 301.6h1M261.2 296.3h1M261.8 295.9h1M242.9 287h1M245.3 293.2h1M259.9 298h1M263.4 293.7h1M251.7 305.1h1M258.1 295h1M246.2 290.6h1M243.6 288.7h1M239.7 297.4h1M256.3 299.5h1M245.4 292.1h1M259.8 293.8h1M244.6 289.2h1M236.8 294.1h1M256.1 302.2h1M255.7 298.7h1M261.5 297.5h1M260.7 294.2h1M244.7 292.9h1M247 293.5h1M253.6 304.8h1M263 292.5h1M247.5 304h1M259.6 293.7h1M242.5 284.8h1M251.7 303.8h1M243.2 299.9h1M242.2 291.7h1M244 286.8h1M236 291.3h1M237.7 287.1h1M251.3 282h1M244.1 284.1h1M235.5 292.1h1M257.8 293.2h1M243.3 281.5h1M257.3 302.9h1M232.2 285.9h1M258.7 290h1M243.8 295.5h1M254.4 278.6h1M246.9 281.5h1M243.2 282.4h1M256.8 306.5h1M246.2 286.3h1M258.9 296.6h1M247.9 298.3h1M265.3 285.8h1M258.1 287.5h1M247.5 303.8h1M242 284.4h1M246.4 291.9h1M243 289.3h1M252.2 306.4h1M252.1 305.7h1M245.4 294.8h1M248.9 295h1M254.7 304.1h1M262.6 290h1M242.9 281.1h1M254.5 297.1h1M261.2 302.1h1M241.7 297.4h1M264.8 298h1M248.7 300.2h1M256 280.2h1M235.7 292.1h1M264.9 299.6h1M253.2 300.2h1M257.6 301.3h1M247.3 292h1M257.2 296h1M252.7 302.7h1M243.8 280.1h1M243.8 278.7h1M259.7 308.6h1M260.4 303h1M236.9 286.9h1M261 305.1h1M250.1 303.7h1M258 304.8h1M254 314.6h1M253.2 307.6h1M248.9 300.1h1M256.3 299.7h1M256.2 314.9h1M257.7 306.4h1M249.6 308h1M257 310.7h1M254.2 306.7h1M255.7 295.9h1M248.5 316.7h1M254.2 311.6h1M245.9 302.4h1M251 306.8h1M256.6 304.1h1M253 303.2h1M251.7 309.7h1M254 313.3h1M248.2 312.1h1M254.1 302.7h1M257 303.5h1M251.2 310.6h1M257.4 305h1M257.6 309.8h1M249.9 311.8h1M252.7 303.2h1M252 314.8h1M253.7 306h1M255.3 299.1h1M254.8 315.3h1M248.5 300.9h1M249.6 306.2h1M249.9 307.3h1M249.1 309.1h1M254.5 310.1h1M250.5 312.4h1M247.2 303.6h1M252.2 315h1M251.2 311.1h1M258.2 319.1h1M258.5 302.8h1M253.4 310.4h1M254.8 310.5h1M252.1 307.7h1M247.8 311.7h1M253.6 304.1h1M258.7 307.5h1M250.3 311h1M254.1 311.3h1M252.2 312h1M253 314.6h1M253.7 302.7h1M249 310.9h1M255.8 298.9h1M254.6 307.1h1M253.5 302.7h1M248.7 304h1M249.8 305h1M252.9 307.7h1M259 301.9h1M251 308.1h1M254.7 301.4h1M247.6 309h1M253.8 310.9h1M254.8 298.4h1M256.2 306.8h1M259.7 305.2h1M245.1 306.8h1M253.2 309.4h1M253.3 304.4h1M246.8 306.5h1M251.4 303.6h1M252.7 305.7h1M245.6 302.6h1M249.7 306h1M258.1 307.2h1M256.7 304.3h1M254.4 301.1h1M252.4 312.3h1M252.4 308.8h1M249.9 303.3h1M253.5 306.4h1M253 303.6h1M251.2 311.9h1M257.4 305.1h1M250.3 308.2h1M255.7 309.1h1M256.2 306.4h1M249.3 296.4h1M255.4 309h1M250.3 309.5h1M248.6 313.5h1M256.1 314.3h1M251 315.8h1M255.3 316.8h1M246.7 312.9h1M257 305.8h1M255.8 308.2h1M257.5 306.1h1M252.7 300.6h1M259.6 302.6h1M249 302.2h1M252.8 307.9h1M254 316.6h1M255.9 299h1M253.2 306.4h1M255.1 308.2h1M257.1 308.3h1M259.3 301.9h1M256.6 312.9h1M250.1 299.7h1M250.3 309.7h1M258.2 298.9h1M251.6 300.1h1M255.3 308.4h1M252.7 311.9h1M253.6 316.1h1M251.6 304h1M252.6 307.3h1M256.9 305.2h1M250.8 303.6h1M249.9 296h1M253 310.5h1M253.1 303h1M255.7 311.7h1M253.4 311.2h1M252.2 309.9h1M254.4 300.4h1M250.8 303.3h1M253.5 307.4h1M251.9 309.8h1M247.5 308.8h1M250 303.9h1M257.3 305.5h1M256.2 307.3h1M239.9 290.9h1M253.8 309.7h1M259.2 303.5h1M244.5 286.6h1M255.9 300.2h1M243.3 305.7h1M247 297.4h1M248.5 302.5h1M260.3 305.6h1M244.7 296.2h1M272.4 294.7h1M256.8 296h1M248.2 313.1h1M266.5 287.2h1M257.2 314.7h1M256.8 295.5h1M261.3 303.6h1M242 285.9h1M266.7 288.5h1M269.5 281.3h1M250.1 281.5h1M245.6 292.4h1M254.8 274.7h1M256.7 294.6h1" stroke="#111" stroke-width="1"/>
<path d="M258.5 254.6h1M260.5 266.5h1M258.5 260.6h1M287.8 266.5h1M270.9 267.8h1M277.8 264.8h1M273.4 257.8h1M275.2 269.3h1M258 268.9h1M288.4 257h1M270.8 272.4h1M278.2 264h1M267.3 264.3h1M278.2 263.3h1M260.1 265.7h1M265.9 273.1h1M263.8 266.7h1M270.5 259.8h1M268.1 257.3h1M275.6 262.6h1M262 258.4h1M284.2 269.9h1M264 264.8h1M277.6 269.5h1M272.5 257.3h1M286.6 267.3h1M284 262h1M279.1 273h1M282.1 262.1h1M270.3 273h1M265.5 268.7h1M270.9 259.7h1M280.4 272.1h1M277.8 268.1h1M281 258.7h1M272.1 273.9h1M276.6 271.6h1M270.4 267.7h1M262.6 267.7h1M274.8 265.1h1M272.3 266.8h1M274.2 270h1M281 257.9h1M274.6 271.6h1M262.7 264.7h1M292.6 265.9h1M280.9 268.4h1M260.4 264.1h1M257 263.3h1M280.1 270.1h1M275 264.4h1M277.9 272.4h1M279 271.5h1M276.3 268.9h1M265 272.3h1M263.6 261.6h1M266.5 262.6h1M283.7 266.8h1M270.3 265h1M272.5 272.3h1M285.2 265.9h1M287 270.7h1M275.1 272.5h1M273.6 268h1M273.9 261.6h1M262 261.1h1M265.1 263.1h1M267.9 270.8h1M272.6 269.9h1M275.4 263h1M270.1 259.7h1M257.9 266.6h1M272.1 266.7h1M280.6 261.4h1M271.1 256.4h1M265 268.2h1M259.4 259.3h1M269.7 273.4h1M278.7 266.2h1M277.5 267.3h1M268.8 263.6h1M276 266.2h1M278.7 264.6h1M279.2 265.2h1M282.2 271.7h1M266.3 275.8h1M275.3 263.7h1M261.8 265.7h1M273.4 263.1h1M263.1 263.3h1M263.3 262.5h1M264.8 267.4h1M250.9 272.9h1M268.5 265.7h1M261.1 269.9h1M271 264.7h1M264.5 268.1h1M276.2 264h1M285.9 263.8h1M282.3 268.1h1M260.7 263.9h1M276.8 265h1M273 266h1M275.8 263.8h1M287.8 269.4h1M284.7 266.6h1M274 262.3h1M272.6 273h1M274.9 263.5h1M267.7 268.4h1M270.9 275.1h1M274.2 266.7h1M278.5 274.2h1M259.5 261.9h1M266.5 257.1h1M270.9 265.8h1M279.5 269.9h1M277.8 269.6h1M268.7 278.5h1M284.8 266.3h1M264.8 267.8h1M280.9 269.4h1M279 271.4h1M275.9 262.7h1M268.2 258.2h1M280.2 264.9h1M273.9 275.8h1M265.7 265.8h1M265.6 257.7h1M280.7 266.9h1M263.1 284h1M262.2 283.4h1M270.9 275.3h1M266 280.3h1M269.7 293.9h1M264.1 283.3h1M265.7 278.6h1M256.1 279.4h1M258.2 288h1M266.1 276h1M261.3 286h1M255.1 280.5h1M264.3 274.1h1M269.6 277h1M269.6 280.6h1M259.7 278.7h1M269.3 273.9h1M258.6 278.8h1M266.7 283h1M257.8 272.4h1M262.9 278h1M265.1 270.3h1M260.5 272.8h1M272.8 267.2h1M258 276.3h1M253.1 276.7h1M258.9 270.1h1M260.5 287h1M264.2 287.3h1M270.8 280.1h1M261.6 266.4h1M251.4 280.6h1M263.8 280.3h1M258.3 277.6h1M263.9 267.5h1M259.9 286.5h1M257.2 272.8h1M257.7 276.1h1M263.9 278.3h1M264.3 275.9h1M267.2 287.6h1M258.2 281h1M265.2 280.4h1" stroke="#444" stroke-width="1"/>
</g>
<defs><clipPath id="c2"><rect x="203.6" y="222.5" width="99.8" height="99.9"/></clipPath></defs>
<path d="M260.7 222.5V322.4M203.6 274.6H303.4" stroke="#d65a5a" stroke-width="0.9"/>
<path d="M203.6 222.5H303.4V322.4H203.6" fill="none" stroke="#6b88c8" stroke-width="0.9"/>
<path d="M203.6 222V322.9" fill="none" stroke="#3f62b0" stroke-width="1.1"/>
<path d="M200.1 222.5H303.4" fill="none" stroke="#7d95cc" stroke-width="1.3"/>
<text x="204.4" y="229.5" font-size="7.5" fill="#d0413f">Q1-UL</text>
<text x="204.4" y="236.1" font-size="7.5" fill="#d0413f">0.4%</text>
<text x="281.1" y="229.5" font-size="7.5" fill="#d0413f">Q1-UR</text>
<text x="281.1" y="236.1" font-size="7.5" fill="#d0413f">3.0%</text>
<text x="204.4" y="315.2" font-size="7.5" fill="#d0413f">Q1-LL</text>
<text x="204.4" y="321.6" font-size="7.5" fill="#d0413f">94.7%</text>
<text x="281.1" y="315.2" font-size="7.5" fill="#d0413f">Q1-LR</text>
<text x="281.1" y="321.6" font-size="7.5" fill="#d0413f">1.8%</text>
<path d="M344.4 317.3h-3.2M344.4 314.5h-3.2M344.4 312.5h-3.2M344.4 310.9h-3.2M344.4 309.6h-3.2M344.4 308.6h-3.2M344.4 307.6h-3.2M344.4 306.8h-3.2M344.4 301.2h-3.2M344.4 298.4h-3.2M344.4 296.3h-3.2M344.4 294.8h-3.2M344.4 293.5h-3.2M344.4 292.4h-3.2M344.4 291.5h-3.2M344.4 290.6h-3.2M344.4 285h-3.2M344.4 282.2h-3.2M344.4 280.2h-3.2M344.4 278.6h-3.2M344.4 277.3h-3.2M344.4 276.3h-3.2M344.4 275.3h-3.2M344.4 274.5h-3.2M344.4 268.9h-3.2M344.4 266.1h-3.2M344.4 264h-3.2M344.4 262.5h-3.2M344.4 261.2h-3.2M344.4 260.1h-3.2M344.4 259.2h-3.2M344.4 258.4h-3.2M344.4 252.8h-3.2M344.4 249.9h-3.2M344.4 247.9h-3.2M344.4 246.3h-3.2M344.4 245.1h-3.2M344.4 244h-3.2M344.4 243h-3.2M344.4 242.2h-3.2M344.4 236.6h-3.2M344.4 233.8h-3.2M344.4 231.8h-3.2M344.4 230.2h-3.2M344.4 228.9h-3.2M344.4 227.8h-3.2M344.4 226.9h-3.2M344.4 226.1h-3.2M350.1 322.2v3.2M353.5 322.2v3.2M355.9 322.2v3.2M357.7 322.2v3.2M359.2 322.2v3.2M360.5 322.2v3.2M361.6 322.2v3.2M362.6 322.2v3.2M369.2 322.2v3.2M372.6 322.2v3.2M375 322.2v3.2M376.8 322.2v3.2M378.3 322.2v3.2M379.6 322.2v3.2M380.7 322.2v3.2M381.7 322.2v3.2M388.3 322.2v3.2M391.7 322.2v3.2M394 322.2v3.2M395.9 322.2v3.2M397.4 322.2v3.2M398.7 322.2v3.2M399.8 322.2v3.2M400.8 322.2v3.2M407.4 322.2v3.2M410.7 322.2v3.2M413.1 322.2v3.2M415 322.2v3.2M416.5 322.2v3.2M417.8 322.2v3.2M418.9 322.2v3.2M419.8 322.2v3.2M426.5 322.2v3.2M429.8 322.2v3.2M432.2 322.2v3.2M434 322.2v3.2M435.6 322.2v3.2M436.8 322.2v3.2M437.9 322.2v3.2M438.9 322.2v3.2" stroke="#5d7cc4" stroke-width="1"/>
<path d="M344.4 322.2h-3.2M344.4 306.1h-3.2M344.4 289.9h-3.2M344.4 273.8h-3.2M344.4 257.6h-3.2M344.4 241.5h-3.2M344.4 225.3h-3.2M344.4 322.2v3.2M363.5 322.2v3.2M382.6 322.2v3.2M401.6 322.2v3.2M420.7 322.2v3.2M439.8 322.2v3.2" stroke="#1f3f95" stroke-width="1.4"/>
<text x="338.2" y="323.2" font-size="5.5" fill="#3c5fae" transform="rotate(-90 338.2 323.2)" text-anchor="middle">10<tspan font-size="5" dy="-2.2">1</tspan></text>
<text x="338.2" y="307.1" font-size="5.5" fill="#3c5fae" transform="rotate(-90 338.2 307.1)" text-anchor="middle">10<tspan font-size="5" dy="-2.2">2</tspan></text>
<text x="338.2" y="290.9" font-size="5.5" fill="#3c5fae" transform="rotate(-90 338.2 290.9)" text-anchor="middle">10<tspan font-size="5" dy="-2.2">3</tspan></text>
<text x="338.2" y="274.8" font-size="5.5" fill="#3c5fae" transform="rotate(-90 338.2 274.8)" text-anchor="middle">10<tspan font-size="5" dy="-2.2">4</tspan></text>
<text x="338.2" y="258.6" font-size="5.5" fill="#3c5fae" transform="rotate(-90 338.2 258.6)" text-anchor="middle">10<tspan font-size="5" dy="-2.2">5</tspan></text>
<text x="338.2" y="242.5" font-size="5.5" fill="#3c5fae" transform="rotate(-90 338.2 242.5)" text-anchor="middle">10<tspan font-size="5" dy="-2.2">6</tspan></text>
<text x="338.2" y="222.6" font-size="5.5" fill="#3c5fae" transform="rotate(-90 338.2 222.6)" text-anchor="middle">10<tspan font-size="5" dy="-2.2">7.2</tspan></text>
<text x="345.4" y="331.7" font-size="5.5" fill="#3c5fae" text-anchor="middle">10<tspan font-size="5" dy="-2.2">2</tspan></text>
<text x="364.5" y="331.7" font-size="5.5" fill="#3c5fae" text-anchor="middle">10<tspan font-size="5" dy="-2.2">3</tspan></text>
<text x="383.6" y="331.7" font-size="5.5" fill="#3c5fae" text-anchor="middle">10<tspan font-size="5" dy="-2.2">4</tspan></text>
<text x="402.6" y="331.7" font-size="5.5" fill="#3c5fae" text-anchor="middle">10<tspan font-size="5" dy="-2.2">5</tspan></text>
<text x="421.7" y="331.7" font-size="5.5" fill="#3c5fae" text-anchor="middle">10<tspan font-size="5" dy="-2.2">6</tspan></text>
<text x="444.6" y="331.7" font-size="5.5" fill="#3c5fae" text-anchor="middle">10<tspan font-size="5" dy="-2.2">7.2</tspan></text>
<text x="330.1" y="283.6" font-size="5.7" text-anchor="middle" fill="#222" transform="rotate(-90 330.1 283.6)">FL2-A</text>
<text x="394.2" y="339" font-size="5.7" text-anchor="middle" fill="#222">FL4-A</text>
<text x="344.4" y="220.8" font-size="7" fill="#222">Gate: (P2 in P1)</text>
<text x="387.8" y="211.6" font-size="15" text-anchor="middle" fill="#1a1a1a">HOXA4</text>
<g clip-path="url(#c3)" filter="url(#bl)">
<path d="M387.1 285.4C387.6 283.8 389.3 282.2 390.7 281.2C392.2 280.1 394.3 279.7 395.9 279.2C397.4 278.6 399.1 277.8 400 278.1C400.8 278.3 401 279.3 401 280.7C401 282 400.5 284.5 400 286.4C399.4 288.2 398.8 290.3 398 291.7C397.1 293.1 396.1 294.4 394.9 294.8C393.7 295.1 391.9 294.5 390.7 293.8C389.5 293.1 388.2 292.1 387.6 290.7C386.9 289.3 386.5 286.9 387.1 285.4Z" fill="#050505"/>
<path d="M394.6 295.7h1M388.5 291.8h1M405.3 292.2h1M400.7 289.3h1M386.1 274.3h1M384.3 282.1h1M394.4 278.4h1M391.6 272.9h1M391 271.4h1M385.6 291.5h1M380.9 287.9h1M396.7 291.7h1M400.2 287.8h1M390.5 281.9h1M388.1 284.8h1M389.3 292.7h1M382.9 275.9h1M388.3 271.2h1M405.3 275.1h1M403.9 277.4h1M400.4 284.5h1M405 275h1M403.1 296.7h1M391.2 297.2h1M392.9 280.9h1M406.3 278.7h1M372.5 278.8h1M396 294.3h1M405.5 294.8h1M388.1 300.6h1M387 286.7h1M389 278.3h1M386.3 281.1h1M400.6 286.6h1M385.4 288.6h1M401.2 288.6h1M387.2 289.3h1M402.2 291.2h1M389.4 280.2h1M391.6 280.7h1M391.4 275.7h1M387.1 269.4h1M394 294.5h1M389.6 282.4h1M388.5 291.8h1M385.2 279.5h1M396.4 294.6h1M389.5 293.9h1M398 276.6h1M395.9 292.8h1M397 279.3h1M397.4 292.4h1M408.3 292.7h1M406.8 278.2h1M380.6 289h1M393.7 274.3h1M390.3 278.9h1M389.8 282.8h1M401.5 284h1M405.3 284.6h1M400.3 284.2h1M403.8 291.5h1M396.4 293h1M390.2 278.9h1M381.9 291.1h1M389.9 281.7h1M393.8 300.4h1M383.7 285.2h1M383.3 280.7h1M399 299.4h1M403.5 284.8h1M385.8 274.6h1M398.5 290.4h1M393.2 295h1M388 288.6h1M405.5 289.2h1M400 293.4h1M388.9 293.1h1M389.2 282.2h1M395.9 293.4h1M399.4 295h1M392.8 280.3h1M388.3 291.7h1M396.6 279.2h1M384.7 284.1h1M386 289.3h1M385.1 281.7h1M399.6 292.2h1M383.1 289.5h1M399.3 286.5h1M402.4 283.1h1M393.5 294.4h1M401.8 298.5h1M387.5 273h1M396.3 278.4h1M393.2 278.3h1M400.3 294.8h1M405.3 293h1M402.3 299h1M388.8 274h1M401.5 287.2h1M394.8 279.5h1M393.9 271.5h1M398.9 291.1h1M383.7 278.6h1M394 296.4h1M394.1 280.5h1M400.1 293.2h1M400.1 288.1h1M390.4 275.4h1M390.7 278.8h1M385.5 285.1h1M402.1 296.3h1M400.2 285.3h1M385.1 287.8h1M395.8 292.7h1M396.5 296.5h1M388.7 269.8h1M391.4 296.2h1M384 290.4h1M390 283.1h1M388.2 286h1M396.6 293.7h1M389.5 295.9h1M405.4 307.3h1M386 285.5h1M382.9 285.8h1M384.6 285.1h1M392.4 269.7h1M394.9 298.1h1M387.2 269.7h1M397.6 298.1h1M402.1 278.9h1M393.6 300.4h1M391.6 292.8h1M403.4 297.5h1M386.2 279.6h1M399.4 289.3h1M387.7 287.9h1M396 296.4h1M399.7 287.3h1M392.6 296.5h1M403.5 299.6h1M399.4 286.7h1M395.4 276.5h1M391.5 295.9h1M387.9 275h1M393 298h1M402.6 287.8h1M392.2 276.7h1M388.9 277.9h1M399.4 301.7h1M389.3 294.8h1M387.8 280.1h1M390 279.9h1M402.6 294.6h1M394.2 278.9h1M393.6 280.7h1M393.4 293.5h1M384.1 280.7h1M387.1 295h1M397.6 291.9h1M395.7 277.2h1M385.5 289.7h1M398 278.4h1M386.4 283h1M398.1 275.3h1M399.6 287.1h1M386.6 281.7h1M383.1 269.6h1M392.1 281.3h1M386.3 278h1M404.2 290.9h1M390.4 279.3h1M387.5 283.8h1M396.5 295.8h1M400.8 291.4h1M390.1 280h1M380.2 275.5h1M396.2 278.9h1M399.3 291h1M380.7 278.7h1M388.7 297.4h1M402.5 285.5h1M393.6 280.9h1M398.8 274.3h1M394.3 279.6h1M397.7 295.1h1M391.7 278.5h1M386.4 289h1M391.8 293.4h1M394.3 280.5h1M399.4 302.1h1M392.9 280.5h1M389 291.3h1M397.4 295.1h1M388.2 287.3h1M409.2 295.4h1M390.1 281.5h1M397.3 279.7h1M387.5 268.8h1M402.2 293.3h1M400.7 288.3h1M398.4 274.6h1M391.3 294.8h1M390.9 298.6h1M398.4 293.1h1M389.5 294.3h1M393.4 276.1h1M395.3 280.1h1M392.5 277.7h1M392.6 280.2h1M384.2 286h1M394.9 300.3h1M386.4 273.8h1M401.7 283.3h1M399.4 292h1M401.5 294.5h1M398.9 296.8h1M396 305.2h1M395.4 296.1h1M384.9 289.6h1M385.7 277h1M409.3 295.2h1M397.9 302h1M399.7 293h1M395.9 300.2h1M387.6 278.6h1M394.9 274h1M389.4 293h1M387.6 283.1h1M390.1 292.1h1M400.8 293.3h1M393.4 280h1M389.2 278.1h1M395.2 293.7h1M399.4 288.9h1M402.7 285.7h1M406.3 277.6h1M383.5 273.4h1M388 283.5h1M406.2 286.8h1M400.5 287.1h1M407.4 291.6h1M390.4 300.9h1M385.6 283h1M403.5 293.3h1M393 293.8h1M388.5 294.3h1M418.5 266.6h1M410 266h1M421 269.5h1M405.8 256.6h1M429.9 263.6h1M409.4 266.7h1M409.3 268.8h1M402.4 264.9h1M402.4 270.7h1M410.8 268.9h1M424.4 260.7h1M411 267.6h1M413.3 264.7h1M419.9 267.9h1M407.9 264.9h1M418.3 265.6h1M414 261.3h1M427.5 263.8h1M415.1 264.9h1M413.4 265.6h1M405.9 266.7h1M422.9 266.1h1M418.9 266.5h1M413.1 271.2h1M407.1 266.7h1M421.4 265.8h1M404 261.9h1M425.9 261.4h1M412.9 267h1M413.6 259.1h1M397 265.4h1M406.4 264.5h1M413.6 265.7h1M401.7 259.9h1M420.7 262.7h1M403 258.8h1M417.3 260.7h1M404.1 267.6h1M415.4 266.9h1M402.2 255.9h1M404.6 264.5h1M407.3 268.4h1M415.9 261.5h1M417.6 264.5h1M408.8 269.1h1M398.9 269.2h1M422 257.8h1M411.2 264.7h1M403.3 263.6h1M406 265.6h1M408.2 258.1h1M422.9 267.8h1M405.8 268.4h1M429.8 259.2h1M409.4 263.5h1M417.5 263.9h1M401.1 269.9h1M410.1 267.7h1M432.1 261.9h1M409.4 268.4h1M412 266.9h1M412.8 274.6h1M418.2 266.1h1M413.9 266.4h1M399.1 264.8h1M419.1 260.8h1M413.2 264.8h1M408.5 273.8h1M418.9 266h1M406.2 265.7h1M410.3 264.9h1M414.7 273.5h1M424.1 270.5h1M424.4 274.2h1M407.3 261h1M414.6 266h1M413.2 263h1M418.7 270.8h1M414.7 264.3h1M423 263.7h1M409.9 266.3h1M393.6 272.3h1M412 266.9h1M415.5 266.4h1M401.6 271.6h1M417.7 266h1M439.4 259.8h1M419.1 264.6h1M400.2 272.2h1M399.8 266.2h1M412.2 265.8h1M404.9 270.1h1M415 260.8h1M402.6 266.5h1M403.1 267h1M415.7 263.1h1M396.6 261.4h1M415.9 263.3h1M428.6 263h1M416.1 267.3h1M413.7 266.2h1M421.4 264.3h1M415.7 263.8h1M429.8 265.1h1M420 254.8h1M408.8 261.5h1M413.2 263.6h1M404 264.6h1M419.8 268.5h1M408.4 268.9h1M407.7 267.5h1M405.6 269h1M432.5 263.4h1M423.2 259.8h1M407.5 274.4h1M412.3 266.9h1M399.2 265.7h1M406.3 269.5h1M408.4 274h1M403.7 266.6h1M396 264.5h1M423.2 264.4h1M401.9 267.3h1M420.9 266.3h1M421.3 260h1M428.3 266.9h1M395.1 272.2h1M408.9 267.1h1M396.2 263.7h1M397.5 268.6h1M410.9 262.1h1M409.7 269.1h1M406.3 267.3h1M402.9 259.9h1M408.8 264.3h1M414.4 268.3h1M409.4 264.1h1M419.3 266.3h1M412.4 266h1M394.4 264h1M399.4 264.5h1M420.5 259.1h1M420.6 262.9h1M411.1 263.6h1M418.8 262.6h1M395.3 266.9h1M411.6 267.3h1M417.9 260.8h1M414.6 265.5h1M412.2 265.5h1M415.5 263.2h1M411.6 268.5h1M403.9 265.2h1M404.3 261.9h1M409.3 265.9h1M425.7 263.9h1M420.7 266.7h1M413.4 254.6h1M413.9 265.3h1M404.1 265.9h1M425.3 260.7h1M408.5 268.4h1M397.7 262.3h1M415.3 268.3h1M423.1 267.3h1M432.3 265.7h1M402 264.9h1M418.1 266.2h1M396.5 267.1h1M406.2 264.7h1M425.2 264.1h1M407.3 265h1M407.4 272.3h1M419.8 268h1M407.1 263.2h1M415 257.7h1M421.5 260.5h1M413.7 266.2h1M406.2 266.6h1M418.7 271.3h1M416.2 271.2h1M416.8 264.3h1M420.1 263.1h1M414.1 267.2h1M422.5 265.7h1M400.5 270h1M414.3 264.1h1M406 267.4h1M415.7 267.3h1M411.8 270.4h1M410.7 266.6h1M414.5 268.7h1M407 264.4h1M411 263h1M407.3 261.3h1M419.2 269.9h1M404.6 268.1h1M403.2 262.8h1M410.2 265.7h1M416.7 258.5h1M401.8 265.9h1M410.8 272.4h1M410.5 263h1M423 255.7h1M397.1 275h1M407.6 265.6h1M411.3 262.2h1M411.6 260.7h1M420.9 267.4h1M418.5 261.8h1M396.5 264.1h1M403.6 266.8h1M399.2 262.6h1M413.9 266.5h1M413.6 260.8h1M407.1 272.1h1M420.7 262h1M428.8 264h1M412.8 262.3h1M425.5 265h1M412.1 262h1M402 266.2h1M412.9 270.4h1M405.2 264.2h1M421.1 267.5h1M407.1 270.3h1M416.8 268h1M415.7 268.3h1M409.3 264.5h1M422 266.1h1M415.8 268.9h1M414.8 266.4h1M394.3 264.1h1M419.7 261.9h1M410.4 266h1M411.6 268.1h1M416.8 264.4h1M421.9 263.5h1M406.8 266.4h1M418.1 264.4h1M403.8 263.8h1M414.7 267.4h1M427.7 264h1M411 257.9h1M423.6 267.8h1M412.9 262.7h1M390.8 268.5h1M406.2 270.5h1M419.2 269.2h1M411.6 269.2h1M401 270.5h1M412.5 261.1h1M409.4 262h1M415 262.6h1M402.1 264.3h1M410.9 265.9h1M418.7 269.2h1M416.3 270.5h1M392 265.7h1M420.7 260.4h1M411.1 265.9h1M399.8 263.7h1M417.8 263.9h1M425.7 272.6h1M412.2 261.3h1M412.5 263.2h1M400.8 264.3h1M408.9 264.1h1M420.6 268.4h1M416.3 263.8h1M416.4 265.1h1M414.7 261.8h1M386.9 269.2h1M407.8 263.6h1M412.7 264.9h1M410.3 270.4h1M413.9 265.9h1M405.4 265.1h1M416.7 264.7h1M415.5 261.9h1M416 261.6h1M409.1 262.7h1M414.3 268.8h1M415.3 262.1h1M413.9 268.6h1M418.9 266.6h1M403.3 263.6h1M407.1 263.8h1M414.8 265.2h1M409.9 267.2h1M406.8 264.3h1M413.7 260.5h1M405.7 260.7h1M404 265h1M411.8 266.3h1M415.6 261.2h1M428.5 269.1h1M402.6 263.2h1M408.8 266h1M418 264.9h1M391.3 275.7h1M420 267.6h1M406.5 265.7h1M420.6 263.2h1M422.4 265h1M426.1 264.8h1M425.3 259.2h1M424.9 266.2h1M409.6 268.9h1M410.6 268h1M420.8 268.3h1M431.3 269h1M433.8 266.7h1M414.1 266.4h1M412.5 261h1M414 261.1h1M410.5 264.2h1M408.2 261.7h1M413.8 265h1M424.4 266.8h1M420.7 263.2h1M410.2 261h1M405.5 267.8h1M411.2 264.7h1M408.1 270.5h1M412.4 269h1M412.5 268.3h1M404.7 260.9h1M422.1 263.7h1M415.1 268h1M418.7 265.8h1M402.9 263.2h1M413.1 267.3h1M417.2 266.2h1M406.4 265.4h1M420.9 261.9h1M408 268.4h1M426.1 266h1M412.9 261.9h1M411.8 262.5h1M414 267.5h1M416.6 269.4h1M404.3 261.2h1M424.3 268.2h1M404.7 265.9h1M403.9 265.4h1M415.5 268.3h1M404.7 261.2h1M417.6 263.8h1M424.6 260.8h1M407.4 256.2h1M422.3 269.2h1M416.3 264h1M395.9 261.2h1M408.4 271.7h1M420.3 262.8h1M416.4 266.9h1M417.1 261.9h1M409.2 268.6h1M418.7 263.8h1M433.3 265.3h1M409.5 268.3h1M419.6 264.5h1M428 268.2h1M413.1 267.5h1M418.5 264h1M419 263.1h1M410.9 267.5h1M402.4 264.4h1M404.8 267.9h1M408.1 271.5h1M425.8 262.3h1M414.2 263.9h1M412.8 267.4h1M425.3 272h1M428.3 260.3h1M408.9 264.7h1M410.3 265.8h1M418.3 263.4h1M408 273.3h1M418.7 272.2h1M408.2 270h1M427 269.1h1M406.6 267.2h1M406.5 261.7h1M412.8 266.9h1M411.2 264.9h1M418.2 262.7h1M416.5 267.6h1M418.4 266.9h1M404.5 264.5h1M409.3 267.7h1M398.3 266.2h1M399.5 267.9h1M408.6 265.5h1M420.7 270.6h1M404.6 265.9h1M396.6 265.2h1M407.2 267.6h1M412 265.5h1M403.6 264.4h1M403.6 265.6h1M399.7 266.6h1M422.1 273.6h1M425.6 269.1h1M419.7 270.2h1M412.6 266.5h1M397.3 264.1h1M422.6 259h1M415.6 264.9h1M409.9 266.4h1M413.1 261.4h1M412.3 259.1h1M425.5 264.6h1M420.4 261.8h1M428.4 268h1M415.9 265.8h1M416.2 262.6h1M411.8 264.5h1M416.1 270.2h1M422.6 265.7h1M418.3 264h1M408.9 259.9h1M402.4 261.6h1M412.4 264.6h1M416.6 268.9h1M418.6 264.5h1M409.1 264.4h1M418.1 261.9h1M400.4 265h1M421.8 268.9h1M418 258.6h1M411.6 267.6h1M422.1 271h1M405.1 266.7h1M399.9 265h1M409.7 268.1h1M414.3 259.2h1M411.9 266.5h1M425.1 262.3h1M405.7 263.5h1M421.5 263.9h1M413.7 266.6h1M406.1 269.1h1M399.4 271.9h1M407.4 262.3h1M406.7 261.5h1M405.6 262.8h1M403.1 265h1M415.5 263.1h1M414.4 262.3h1M414.8 264h1M403.8 265.9h1M411.5 263h1M412.5 267h1M402.6 263.9h1M418.1 264.9h1M419.4 273h1M402.4 266.8h1M409.8 270.1h1M417.7 260.3h1M421.9 264.8h1M410.3 265.3h1M414.7 262.2h1M409.7 269.8h1M404.3 263.5h1M419.3 261.7h1M411.1 266.2h1M405.3 264.4h1M405.3 264.7h1M415.2 265.1h1M414.9 266.3h1M419.5 261.3h1M413.8 270.4h1M410.8 264.3h1M412.9 262.7h1M417.5 264.9h1M411.4 267.7h1M422.9 260h1M408.6 264.4h1M401 267.9h1M430.6 267.1h1M423.5 258.1h1M409.1 260.8h1M419.4 264.5h1M411.4 266.8h1M419.2 270.4h1M424.4 267.8h1M399.1 269.9h1M413.6 260h1M414.2 264.3h1M412.1 268.4h1M401.5 267.8h1M422.9 260.9h1M424.6 262.4h1M406.6 268.6h1M412.7 258.9h1M407.4 267.7h1M408.3 263.7h1M412.9 265.1h1M407.1 262.2h1M416.6 269.1h1M391.6 267.4h1M421.2 261.8h1M424.9 259.6h1M420.9 270.3h1M425.8 255.6h1M413.4 261.8h1M416.2 269.8h1M416.3 270.5h1M398.8 262.9h1M408.4 267.6h1M423.1 261.9h1M405 268.5h1M401.7 267.5h1M406 265.1h1M430.3 263.5h1M413.2 262.4h1M417.5 270.1h1M418.2 260.5h1M415.9 270.3h1M404.8 265h1M405 263.5h1M404.5 260.9h1M416.9 264.8h1M394.5 262.4h1M406.7 261.7h1M414.1 264.4h1M416 260.5h1M406.6 263.9h1M409.7 264.1h1M406.4 265h1M426.7 262h1M398.9 266.7h1M405.2 268.2h1M421.6 270.5h1M414.1 259.4h1M426.4 267.7h1M423.7 265h1M409.9 265.4h1M397.3 269.1h1M407.6 263.3h1M416 262.1h1M419.7 262.8h1M432.7 268.6h1M418.7 266h1M413.4 263.5h1M396.8 264h1M406.3 263.7h1M413.6 258.8h1M402.4 263.3h1M409.1 268.4h1M435.3 263.8h1M418.4 264.9h1M415.2 271h1M414.4 267h1M413.4 263.1h1M422 264.2h1M425.4 260.9h1M416.8 270.7h1M407.7 266.6h1M425.4 266.1h1M406.2 264.3h1M415.6 263.1h1M409.5 265.8h1M402.5 271.2h1M408 265.3h1M413.9 270h1M409.8 272.2h1M428.6 267h1M401.6 261.2h1M410.9 266.2h1M418.4 269.1h1M416.9 265.2h1M416.3 258.2h1M422.8 259.7h1M396.7 263.5h1M409.4 261.2h1M411.2 265.5h1M418.3 266.3h1M408.7 265.7h1M423.7 263.9h1M411.8 258h1M415.5 272h1M419.3 264.2h1M423.5 269h1M424.5 260.8h1M403.2 268h1M417.5 266.6h1M400.7 268.4h1M429.3 268.6h1M434.8 265.9h1M414.1 271.3h1M421.5 257.1h1M400 266.6h1M408.7 271.5h1M426.4 269h1M410.3 264.6h1M419.7 263.8h1M418.8 266h1M419.6 265.3h1M406.6 255.6h1M401.6 260.7h1M418.7 260.1h1M408 267h1M418.8 268.4h1M416.8 270.3h1M408.1 269.4h1M401.5 264.2h1M416.5 267.2h1M410.7 263.1h1M402.5 257.8h1M396.3 271.4h1M397.6 260.4h1M398.9 264.8h1M410.6 263.2h1M401.8 265.1h1M400.8 266.8h1M425.5 261.4h1M414.6 263.3h1M409.4 260.7h1M413.4 265h1M423.6 272.9h1M403.7 269.3h1M405.7 263.6h1M402.8 267.2h1M423.2 264.3h1M414.6 262.3h1M410.1 260.8h1M412.1 258.2h1M432.2 268.6h1M407.8 263.7h1M409.1 265.6h1M414.8 271.5h1M408.8 258.7h1M415 266.4h1M405.7 268.2h1M411.1 262.4h1M412 260.7h1M409.3 271.1h1M423 266.8h1M413.8 266h1M402.7 266.1h1M406.6 263.3h1M426.2 262.1h1M413.3 265.4h1M421.3 263.9h1M417 266.3h1M411.2 263.2h1M404 269.1h1M405.5 269.4h1M427 262.7h1M404.7 262h1M408.4 269.8h1M406.2 261.8h1M398.8 266h1M416.6 270.1h1M415.1 264.9h1M412.5 275h1M426.4 267.7h1M410.1 264.6h1M412.1 264.9h1M417 262.6h1M428.8 261.2h1M418.4 267.5h1M421 269.5h1M415.6 265.8h1M425.3 269.1h1M413 268.1h1M402.8 267h1M395.4 270.1h1M407.7 268.6h1M416.9 263.1h1M420.2 270.6h1M405.7 272h1M416.4 262.1h1M410.9 266.6h1M419.2 262.3h1M410 267h1M415.4 271.9h1M420.2 268h1M405.6 262.5h1M404.4 265.4h1M418.5 270.8h1M421.5 262.2h1M412.7 272.6h1M414.4 267.1h1M401.7 261.1h1M409.2 264.6h1M417.7 264.7h1M398.9 274.1h1M416.6 259.5h1M427.5 267.6h1M411.8 265.5h1M417.6 257.4h1M421.7 265.9h1M419 263.1h1M408.1 270.9h1M385 270.6h1M423.2 259.5h1M411.4 263.1h1M408.6 261.2h1M402 266.1h1M410.9 267.3h1M419.7 263.2h1M431 270.1h1M400.2 265.3h1M410.3 266.9h1M404.9 271h1M410.1 272.6h1M406.8 272.2h1M416.8 268.3h1M416.1 266.4h1M404.9 265h1M407.1 264.8h1M410.1 268h1M415.6 264.2h1M398.5 269.1h1M407 264.2h1M416.9 265h1M413.9 265.6h1M397.4 268.3h1M411.5 267.9h1M413.9 263.8h1M425.2 265.2h1M421.6 267h1M419.9 268.5h1M418.4 261.9h1M411.1 269.9h1M412 264.1h1M413.4 268.4h1M406.1 265.3h1M409.3 263.1h1M419.3 263.1h1M413.5 266.5h1M417 266.7h1M419.3 262.5h1M392.8 269h1M426.9 263.4h1M413.3 268.1h1M406.3 265.3h1M409.5 267.2h1M413.6 270.7h1M405.6 263.2h1M401.4 266.4h1M412.1 264.5h1M418.1 261.8h1M401.2 272.8h1M413.2 262h1M421.8 265.3h1M405.3 266.7h1M421.9 267.3h1M412.4 270.9h1M405.9 264.9h1M417.1 261.7h1M418.7 266.3h1M421.3 266h1M429.7 260.1h1M410 263.7h1M413.2 267.4h1M404.5 268.9h1M422.5 265.3h1M401.8 267.8h1M416.8 262h1M407.5 263.7h1M401.4 267h1M422.4 266.1h1M407.5 265.3h1M413 271.5h1M409.6 267.1h1M410.6 269.2h1M406.5 267.3h1M410.3 267.4h1M401.4 265.5h1M422.4 267.2h1M404.6 274.3h1M417 264.3h1M410.3 262.3h1M426 269.1h1M425.3 261.4h1M397.6 258.7h1M401 263.9h1M403.3 260h1M417.3 262.7h1M415.6 269.1h1M406.2 263.7h1M423.3 259.7h1M408.8 261.4h1M411 263.1h1M414.4 263.4h1M422.6 262h1M411.9 267.3h1M405.2 263.2h1M411.6 263.7h1M419.2 262.4h1M400 267.7h1M405.7 263.2h1M410.3 268.9h1M419.2 265.4h1M414.8 263.5h1M408.2 272.1h1M395.7 271.7h1M393.2 264.8h1M396.4 274.4h1M409.6 268.2h1M397.4 273.4h1M397.2 274.4h1M395.2 272h1M395.9 275h1M400.5 265.5h1M400.4 258.6h1M400.2 270.7h1M411.5 263.8h1M405.8 273.2h1M403.5 266.8h1M400.7 264.8h1M401.3 263.5h1M397.4 268.5h1M395.5 263.1h1M399.6 269.3h1M403.2 269.8h1M408.1 268h1M406.5 264.1h1M403.2 271.1h1M409.2 265.7h1M409.1 267.7h1M397.9 261.6h1M404.5 266h1M404.2 268.9h1M403.9 268.4h1M396.6 266.4h1M400 269.9h1M396.2 271.9h1M390 263h1M403.4 269.5h1M410.1 272.4h1M395.1 263.8h1M400.1 267.9h1M403.6 266.1h1M396.5 265.2h1M399.8 264.8h1M399.3 271.1h1M399.1 263.8h1M402.6 271.3h1M395.6 266.5h1M392 263.9h1M394.3 262.6h1M396.7 275.8h1M405.6 266.4h1M402 268.4h1M400.4 260.1h1M399 263.4h1M397.6 267.6h1M381.7 257.7h1M401.8 273.4h1M404.2 263.5h1M397.8 270.5h1M398.7 259h1M403.6 265.3h1M399.7 260.8h1M394.1 272.9h1M397.5 269.9h1M407.9 268.2h1M400 267h1M404 269.5h1M402 274.4h1M402.4 273.1h1M395.6 267h1M403.2 264.7h1M392.6 267.7h1M397.3 269.6h1M407.9 266.2h1M394.4 266.8h1M396.9 265.9h1M405.5 270.4h1M401.8 267.1h1M404.7 267.7h1M408.4 268.1h1M399.5 270.9h1M410.5 260.9h1M402.2 263.2h1M391.6 266.3h1M404.1 261.3h1M397.7 275.4h1M406.2 266.6h1M403.2 268.3h1M396.9 264.7h1M406.1 265.3h1M399.1 266h1M392.2 267.2h1M409.2 263.8h1M399.4 272.9h1M402.1 267.9h1M402.8 269.2h1M399.4 264.6h1M397.5 260.9h1M400.5 267.1h1M396.6 261.5h1M397.1 260.5h1M402.8 263.1h1M404.1 264.4h1M403.1 270.2h1M404 266.7h1M390 269.6h1M396.5 261.6h1M394.1 269h1M402.9 269.4h1M403.3 272.3h1M398.1 267.9h1M398.4 266.8h1M399.1 268.8h1M397.2 268.5h1M404.3 266.8h1M402.5 264.3h1M395.5 274.9h1M399 272.9h1M389.8 258.3h1M399.5 266.9h1M388.2 270.8h1M402.9 265.1h1M402.7 270.4h1M400.1 265.6h1M403 266.2h1M397.1 262.4h1M400.2 273h1M397.2 265.9h1M393.1 267h1M403.9 267.3h1M402.7 272.4h1M395.2 265.5h1M402.8 266.7h1M394.4 267.9h1M401.7 272.3h1M395.4 269.3h1M402.1 256.5h1M403.4 267.6h1M391.5 275.2h1M401.8 269h1M411.5 272.2h1M394.7 268h1M427.3 286.8h1M425.9 279.8h1M422.6 276.4h1M412 283.4h1M412.3 283.1h1M412.2 281.4h1M430.2 283.1h1M422.3 271.9h1M408.7 285h1M400.4 277.6h1M410.7 286.4h1M399.3 276.9h1M413.5 280.5h1M400.3 286.6h1M418.9 287h1M418.1 283.4h1M411.2 278.3h1M403.7 282.2h1M403.7 286.1h1M417.5 276.5h1M414.7 270.9h1M405.1 276h1M402 276.4h1M411.5 276.1h1M406.5 273.1h1M409.9 286.6h1M404 277h1M418.6 287.6h1M421.1 284.7h1M402.2 282.7h1M428.2 267.8h1M416.1 292.1h1M404.6 281.3h1M429 282.9h1M414.7 284.6h1M411.9 283.9h1M412.3 284.6h1M406.5 279.1h1M414.6 267.4h1M420.8 277.9h1M408.6 272h1M412.6 274.7h1M418.6 288.8h1M409.7 275.9h1M412.4 278.4h1M417.4 268.6h1M417.7 279.7h1M408.8 271.2h1M420.7 286h1M415.9 283.7h1M420.2 280.9h1M420 274.2h1M420 266.2h1M422.8 288.9h1M423 275.3h1M411.4 283.1h1M406.7 282.1h1M413.1 288.4h1M409.8 277h1M418.2 285.9h1M411 272.3h1M403.1 271.1h1M414.3 274.2h1M413.5 272h1M411.2 283h1M404.8 286.3h1M413.9 275.5h1M410.8 279.6h1M406.8 276.7h1M415.6 269.3h1M433.3 284.8h1M423.5 292.7h1M419.4 279.8h1M412.7 283.1h1M425.1 275.2h1M427.9 278.1h1M405.1 287.5h1M409.4 284h1M402.8 284h1M409.7 286.6h1M401 276.1h1M405.7 281.2h1M405.5 278.1h1M413.4 277.6h1M414.8 281.5h1M400.7 285.7h1M404.7 275.6h1M427.4 276.1h1M412.3 283.9h1M408.3 279.2h1M411.2 278.9h1M404 285.7h1M413.7 283.3h1M413.8 276.5h1M422.7 275.8h1M421.3 275.8h1M407.7 280.5h1M432.2 285h1M414.5 282.4h1M422.8 277.3h1M398.3 274.1h1M413.1 275.9h1M411.4 288h1M411.4 276.6h1M413.9 286.7h1M427.2 283.8h1M411.4 277.5h1M404.5 276.6h1M421 283.3h1M416.1 274.3h1M413 276.2h1M425.6 280.1h1M412.7 279.9h1M413.5 280.4h1M409.2 281.4h1M414.1 284.9h1M417.8 283.7h1M409.6 280.1h1M395.8 275.2h1M410.3 266.7h1M422.9 285.3h1M414.9 293h1M401.1 280.4h1M414.5 277.3h1M425.5 286.1h1M417.4 274.8h1M415.6 280.3h1M417.7 272.1h1M405.5 286.1h1M414.2 279.5h1M413.2 264.9h1M425.1 271.8h1M403.8 282.9h1M424.5 286.6h1M409.5 275.4h1M418.6 281.2h1M399.3 287.3h1M416.2 284h1M414.4 284.7h1M416 275.1h1M408.7 287.7h1M408.8 270.4h1M406.7 282.6h1M423.5 277.7h1M410.8 280.2h1M420.7 274.3h1M409.7 281.9h1M401.6 281.7h1M413.1 284.5h1M404.6 279.7h1M416.7 280.2h1M405.1 286.3h1M412.8 280.8h1M414.1 283.8h1M414.4 276.2h1M420.3 279.6h1M414.5 281.1h1M404.3 280.5h1M416.1 272.1h1M411.3 279.7h1M419.2 278.3h1M414.3 283.5h1M404 275.9h1M411.4 284h1M424.5 280.7h1M412.9 277.5h1M414.6 289.3h1M412.8 277.3h1M426.4 279.5h1M412.3 275.4h1M422.2 278.9h1M399.1 268.3h1M416.3 277.2h1M417.6 282.9h1M425.9 288h1M405.1 278.5h1M407.5 284.9h1M402.1 283.6h1M400.1 285.7h1M422.9 271h1M413.8 276.8h1M400.4 285.2h1M407.4 285.8h1M417.4 290.1h1M410.1 284.7h1M415.2 278h1M422.2 280.4h1M410.2 281.1h1M403.2 286.1h1M427.2 271.8h1M414.7 278.1h1M408.1 284.6h1M427.4 281.8h1M411.4 289.6h1M411 276.3h1M409.1 285.2h1M414.2 280.9h1M408.8 282h1M413.4 289.8h1M413.5 274.5h1M427.2 281.6h1M413.5 282.7h1M414.1 268.2h1M413.5 287.1h1M421.2 275.8h1M411.1 282.8h1M430.3 282.2h1M415.7 276.9h1M410.7 277.3h1M413.7 274.8h1M410.6 273.7h1M422.8 283.7h1M412.5 278.8h1M420 281.2h1M410 265.3h1M412.3 275.9h1M404.5 280.9h1M413 277.1h1M404.5 281.8h1M402.7 276.7h1M412.7 286.3h1M410.2 280.8h1M418.4 266.6h1M406.2 278.1h1M407.9 284.6h1M409.5 283.3h1M421 278.5h1M416.5 288h1M421.2 280.3h1M400.2 276.4h1M413 281.9h1M415 280h1M405.6 283.4h1M421.3 279.7h1M414.2 284.7h1M410.7 282.3h1M421.5 276.3h1M413.2 275.7h1M405.1 269.6h1M416.3 293.8h1M411.1 288.7h1M422.1 278h1M421.1 277.8h1M411.7 279.1h1M419.6 285.7h1M412.4 281.8h1M416.6 275.7h1M420.1 277.2h1M417.2 285.4h1M421.8 269.6h1M408.3 278.5h1M407.7 279.4h1M413.2 280.7h1M432.1 281.6h1M414.5 276.1h1M412.1 279.1h1M419 273.5h1M412.3 274.4h1M400.5 284.2h1M412.5 282.2h1M427.1 288.3h1M413.3 282.1h1M410 279h1M401.6 284.4h1M414.7 285.9h1M428.4 275.6h1M415.3 279.1h1M423.9 279h1M427.4 293.1h1M430.3 291.3h1M417 280.6h1M403.1 281.4h1M401.3 275h1M423.8 285.7h1M405.3 292.5h1M405.3 274.2h1M425.7 289.2h1M412.5 283.8h1M401.7 284.8h1M409.9 285.7h1M409.1 277.6h1M419.8 284h1M411.1 272.1h1M416.6 288h1M420.2 272.8h1M414.8 281.6h1M426.3 279.4h1M411.9 289.1h1M404 276.4h1M406.4 286.5h1M408.1 283.8h1M408 288.2h1M418 276.6h1M419.2 282.1h1M414.1 275h1M429.1 280.9h1M411.1 281h1M413.7 273.6h1M422.5 271.6h1M421.2 270h1M403.1 286.8h1M402.3 280.4h1M416.1 287.7h1M427.9 285h1M418.3 286.6h1M422 271.5h1M419 275.6h1M434.7 287h1M408.4 290.5h1M406.6 283.3h1M404.2 278.4h1M415.8 273h1M418.7 286.1h1M426.8 286.2h1M417.2 284.8h1M407.7 277.5h1M424.9 274.1h1M409.7 285.2h1M413.1 273.6h1M409.1 276.4h1M404.2 277h1M419.8 277.1h1M415.6 276.5h1M378.2 301.1h1M381.1 293.6h1M377.8 303.7h1M377.3 288.8h1M382.7 297.8h1M378.6 293.2h1M385.8 299.3h1M381.1 294.8h1M382.7 304.3h1M376.1 303.6h1M369 300.1h1M382.3 295h1M373.3 305.3h1M382.7 298.5h1M377.5 296.4h1M378.3 298.7h1M379.7 295.2h1M382.8 300.6h1M379.9 303.5h1M370.9 317.5h1M374.9 296.8h1M381.5 300.8h1M380.3 285.8h1M377.5 290.3h1M383.7 290.5h1M367.3 300.1h1M380.5 288.5h1M381.5 284.5h1M377.8 303h1M379.3 290.2h1M375.5 304.8h1M382.5 295.9h1M382.9 293.2h1M379.3 295.4h1M377 304.5h1M374.5 312.8h1M383.1 292h1M386.4 301.4h1M380.8 287.9h1M379.8 296h1M376.3 289.6h1M374.8 300.4h1M378.3 302.5h1M373.2 304.5h1M375.3 301.7h1M380.3 304.2h1M382 292.6h1M380.1 286.8h1M379.4 299.2h1M380.6 292.2h1M380.7 296.8h1M381 289.4h1M383.1 293.4h1M373.5 299.3h1M384.9 301.5h1M377.8 292.5h1M377.5 301.5h1M385.9 292.5h1M378 305.8h1M381.4 290h1M378.1 302.6h1M377.6 297.5h1M375.8 301.9h1M386.3 298.5h1M377.2 290.9h1M386.3 295.5h1M371.7 310h1M376.9 294.2h1M379.2 288h1M373.7 308.5h1M377.8 300.1h1M385.7 293.8h1M378.7 300h1M387.3 293.5h1M377.3 309.2h1M386.3 284.1h1M381 309.2h1M372.2 292.8h1M382.8 290.7h1M371.6 310.6h1M378.6 299.3h1M385.3 293.7h1M374.9 312.9h1M384.1 293.1h1M377.5 289.2h1M382.7 286h1M388.2 278.3h1M383.5 286.8h1M374.2 304.1h1M379.8 300.2h1M373.8 299.1h1M377.5 299h1M383.5 292.4h1M374.6 300.1h1M371 298.3h1M385.4 288.6h1M383.5 290.9h1M374.7 300.2h1M381.7 293.7h1M380.4 305.5h1M379.3 298.3h1M375.4 303.8h1M375.7 299.9h1M376.8 301.9h1M381.8 300.7h1M379.6 299.8h1M388.5 284.1h1M374.7 304.4h1M379.9 296.3h1M367.2 303.4h1M383.9 295.9h1M379.3 295.2h1M375.8 296.1h1M379.4 284.7h1M385.5 284.6h1M385.3 296.4h1M375.2 297.1h1M380.8 301.5h1M374.6 302.2h1M382.6 292.5h1M380.8 292.3h1M377.1 291.5h1M374.7 303.6h1M381.5 297.7h1M376.4 300.2h1M383.4 285.5h1M373.9 293.1h1M379.5 296.7h1M388.2 295.8h1M365.8 306.9h1M376.9 303.1h1M373.4 290.7h1M374 302.9h1M376.9 301.3h1M388.1 282.5h1M376.6 299.2h1M382.9 288.6h1M379 289.9h1M386.3 296h1M388.3 298.5h1M381.3 299.5h1M382.6 293.8h1M377.8 294.9h1M380.4 296.6h1M385.1 292.6h1M380.4 305.3h1M376.6 291.5h1M390.9 280.8h1M376.1 308.1h1M378 293.3h1M384 274.9h1M385.1 281.6h1M401.4 300.4h1M387.2 311.1h1M413 276h1M383.5 312.6h1M395.7 293h1M389.8 292.9h1M403.4 299.4h1M389 304.5h1M389.1 292.8h1M394.8 295.6h1M381.2 320.9h1M400.5 309.6h1M382.3 278.2h1M385 310.8h1M382.1 278.6h1M412.6 298h1M380.1 304.9h1M385.9 289.5h1M391.8 293.8h1M412.6 286.1h1M385.5 282.6h1M394.6 308.6h1M413.9 292.1h1M391 301.7h1M374.4 285.7h1M384.5 285h1M388.5 296.9h1M406.1 286.2h1M396.2 294.5h1M400.6 294.9h1M406.9 292.6h1M394.8 298.5h1M395.6 294.3h1M399.9 301h1M398 300.2h1M405.2 307.1h1M391.3 308h1M390.7 309.3h1M401.9 294.7h1M399.4 287.9h1M402.2 300.7h1M391.4 294.9h1M383.8 292.3h1M383.4 307.2h1M401.8 287.6h1M388.3 310.3h1M387.2 288.2h1" stroke="#111" stroke-width="1"/>
</g>
<defs><clipPath id="c3"><rect x="344.4" y="222.1" width="99.2" height="100.1"/></clipPath></defs>
<path d="M401.4 222.1V322.2M344.4 273.4H443.6" stroke="#d65a5a" stroke-width="0.9"/>
<path d="M344.4 222.1H443.6V322.2H344.4" fill="none" stroke="#6b88c8" stroke-width="0.9"/>
<path d="M344.4 221.6V322.7" fill="none" stroke="#3f62b0" stroke-width="1.1"/>
<path d="M340.9 222.1H443.6" fill="none" stroke="#7d95cc" stroke-width="1.3"/>
<text x="345.2" y="229.1" font-size="7.5" fill="#d0413f">Q1-UL</text>
<text x="345.2" y="235.7" font-size="7.5" fill="#d0413f">1.6%</text>
<text x="421.3" y="229.1" font-size="7.5" fill="#d0413f">Q1-UR</text>
<text x="421.3" y="235.7" font-size="7.5" fill="#d0413f">22.7%</text>
<text x="345.2" y="315" font-size="7.5" fill="#d0413f">Q1-LL</text>
<text x="345.2" y="321.4" font-size="7.5" fill="#d0413f">58.2%</text>
<text x="421.3" y="315" font-size="7.5" fill="#d0413f">Q1-LR</text>
<text x="421.3" y="321.4" font-size="7.5" fill="#d0413f">14.4%</text>
<path d="M61.3 461.5h-3.2M61.3 458.6h-3.2M61.3 456.6h-3.2M61.3 455h-3.2M61.3 453.7h-3.2M61.3 452.6h-3.2M61.3 451.6h-3.2M61.3 450.8h-3.2M61.3 445.1h-3.2M61.3 442.3h-3.2M61.3 440.2h-3.2M61.3 438.6h-3.2M61.3 437.3h-3.2M61.3 436.3h-3.2M61.3 435.3h-3.2M61.3 434.5h-3.2M61.3 428.8h-3.2M61.3 425.9h-3.2M61.3 423.9h-3.2M61.3 422.3h-3.2M61.3 421h-3.2M61.3 419.9h-3.2M61.3 419h-3.2M61.3 418.1h-3.2M61.3 412.5h-3.2M61.3 409.6h-3.2M61.3 407.5h-3.2M61.3 406h-3.2M61.3 404.7h-3.2M61.3 403.6h-3.2M61.3 402.6h-3.2M61.3 401.8h-3.2M61.3 396.1h-3.2M61.3 393.2h-3.2M61.3 391.2h-3.2M61.3 389.6h-3.2M61.3 388.3h-3.2M61.3 387.2h-3.2M61.3 386.3h-3.2M61.3 385.5h-3.2M61.3 379.8h-3.2M61.3 376.9h-3.2M61.3 374.9h-3.2M61.3 373.3h-3.2M61.3 372h-3.2M61.3 370.9h-3.2M61.3 370h-3.2M61.3 369.1h-3.2M66.2 466.4v3.2M69 466.4v3.2M71.1 466.4v3.2M72.7 466.4v3.2M73.9 466.4v3.2M75 466.4v3.2M76 466.4v3.2M76.8 466.4v3.2M82.4 466.4v3.2M85.3 466.4v3.2M87.3 466.4v3.2M88.9 466.4v3.2M90.2 466.4v3.2M91.3 466.4v3.2M92.2 466.4v3.2M93 466.4v3.2M98.7 466.4v3.2M101.5 466.4v3.2M103.6 466.4v3.2M105.1 466.4v3.2M106.4 466.4v3.2M107.5 466.4v3.2M108.5 466.4v3.2M109.3 466.4v3.2M114.9 466.4v3.2M117.8 466.4v3.2M119.8 466.4v3.2M121.4 466.4v3.2M122.7 466.4v3.2M123.8 466.4v3.2M124.7 466.4v3.2M125.5 466.4v3.2M131.2 466.4v3.2M134 466.4v3.2M136 466.4v3.2M137.6 466.4v3.2M138.9 466.4v3.2M140 466.4v3.2M140.9 466.4v3.2M141.8 466.4v3.2M147.4 466.4v3.2M150.3 466.4v3.2M152.3 466.4v3.2M153.9 466.4v3.2M155.1 466.4v3.2M156.2 466.4v3.2M157.2 466.4v3.2M158 466.4v3.2" stroke="#5d7cc4" stroke-width="1"/>
<path d="M61.3 466.4h-3.2M61.3 450.1h-3.2M61.3 433.7h-3.2M61.3 417.4h-3.2M61.3 401h-3.2M61.3 384.7h-3.2M61.3 368.4h-3.2M61.3 466.4v3.2M77.5 466.4v3.2M93.8 466.4v3.2M110 466.4v3.2M126.3 466.4v3.2M142.5 466.4v3.2M158.8 466.4v3.2" stroke="#1f3f95" stroke-width="1.4"/>
<text x="55.1" y="467.4" font-size="5.5" fill="#3c5fae" transform="rotate(-90 55.1 467.4)" text-anchor="middle">10<tspan font-size="5" dy="-2.2">1</tspan></text>
<text x="55.1" y="451.1" font-size="5.5" fill="#3c5fae" transform="rotate(-90 55.1 451.1)" text-anchor="middle">10<tspan font-size="5" dy="-2.2">2</tspan></text>
<text x="55.1" y="434.7" font-size="5.5" fill="#3c5fae" transform="rotate(-90 55.1 434.7)" text-anchor="middle">10<tspan font-size="5" dy="-2.2">3</tspan></text>
<text x="55.1" y="418.4" font-size="5.5" fill="#3c5fae" transform="rotate(-90 55.1 418.4)" text-anchor="middle">10<tspan font-size="5" dy="-2.2">4</tspan></text>
<text x="55.1" y="402" font-size="5.5" fill="#3c5fae" transform="rotate(-90 55.1 402)" text-anchor="middle">10<tspan font-size="5" dy="-2.2">5</tspan></text>
<text x="55.1" y="385.7" font-size="5.5" fill="#3c5fae" transform="rotate(-90 55.1 385.7)" text-anchor="middle">10<tspan font-size="5" dy="-2.2">6</tspan></text>
<text x="55.1" y="365.6" font-size="5.5" fill="#3c5fae" transform="rotate(-90 55.1 365.6)" text-anchor="middle">10<tspan font-size="5" dy="-2.2">7.2</tspan></text>
<text x="62.3" y="475.9" font-size="5.5" fill="#3c5fae" text-anchor="middle">10<tspan font-size="5" dy="-2.2">1</tspan></text>
<text x="78.5" y="475.9" font-size="5.5" fill="#3c5fae" text-anchor="middle">10<tspan font-size="5" dy="-2.2">2</tspan></text>
<text x="94.8" y="475.9" font-size="5.5" fill="#3c5fae" text-anchor="middle">10<tspan font-size="5" dy="-2.2">3</tspan></text>
<text x="111" y="475.9" font-size="5.5" fill="#3c5fae" text-anchor="middle">10<tspan font-size="5" dy="-2.2">4</tspan></text>
<text x="127.3" y="475.9" font-size="5.5" fill="#3c5fae" text-anchor="middle">10<tspan font-size="5" dy="-2.2">5</tspan></text>
<text x="143.5" y="475.9" font-size="5.5" fill="#3c5fae" text-anchor="middle">10<tspan font-size="5" dy="-2.2">6</tspan></text>
<text x="163" y="475.9" font-size="5.5" fill="#3c5fae" text-anchor="middle">10<tspan font-size="5" dy="-2.2">7.2</tspan></text>
<text x="47" y="423.8" font-size="5.7" text-anchor="middle" fill="#222" transform="rotate(-90 47 423.8)">FL2-A</text>
<text x="111.9" y="483.2" font-size="5.7" text-anchor="middle" fill="#222">FL4-A</text>
<text x="61.3" y="363.8" font-size="7" fill="#222">Gate: P1</text>
<g clip-path="url(#c4)" filter="url(#bl)">
<path d="M100.4 430.4C101.6 429.2 103.8 428.4 105.7 427.7C107.6 427 109.9 426.5 111.9 426.4C113.8 426.3 116 426.6 117.3 427.3C118.6 428 119.5 429.2 119.5 430.4C119.5 431.7 118.3 433.3 117.3 434.9C116.3 436.5 114.8 438.5 113.7 440.3C112.5 442.1 111.4 444.4 110.2 445.6C109.1 446.8 108 447.5 106.6 447.5C105.3 447.5 103.4 447 102.2 445.6C101 444.3 100.2 441.2 99.6 439.5C99 437.7 98.4 436.4 98.6 434.9C98.7 433.4 99.2 431.6 100.4 430.4Z" fill="#050505"/>
<path d="M114.7 445h1M118.9 436.5h1M112 458.1h1M105.3 448.4h1M107.2 423.9h1M100.9 429.6h1M120.6 437.8h1M115.8 436.8h1M118 432.9h1M111.6 446.3h1M117.4 445.9h1M107.1 448.4h1M112.9 441.1h1M101.9 447.2h1M105 447.1h1M113 443.3h1M109.1 446.6h1M111.8 448.4h1M118.4 446.4h1M121.6 432.7h1M107.1 419.5h1M114 442.3h1M119.7 440.8h1M95.4 444.5h1M99.8 426.5h1M96.3 448.4h1M112.5 442.3h1M115.5 441.2h1M112.4 442.5h1M116 444.6h1M114.4 448.3h1M116.1 441.6h1M109 447.6h1M115.3 443.9h1M108.8 455.8h1M113.5 442.6h1M108.8 444.9h1M110.2 455.6h1M116.2 438h1M115.3 441.6h1M116.4 435.9h1M111.9 456h1M120.7 433.7h1M103.7 447.4h1M103 427.8h1M106.9 456.3h1M125.1 442.1h1M118.1 440.8h1M112.3 442.7h1M103 429.9h1M108.3 421.7h1M117.4 434.4h1M100.8 438.3h1M112.6 446.7h1M121.1 445.2h1M109.4 448.7h1M115.5 449.2h1M96.8 441.3h1M104.6 452h1M98.3 442.2h1M115.2 455.7h1M110.3 444.1h1M94.9 430.1h1M105.5 447.4h1M98.3 436.8h1M109 454.7h1M101.7 447.3h1M117.8 442h1M104.6 428.6h1M103 453.2h1M94.5 437.8h1M104.1 452.5h1M111.8 442.9h1M96.1 445.3h1M112.7 451.3h1M120.3 439.4h1M112.4 427.6h1M94.8 426.3h1M109.7 419.7h1M115.7 449.7h1M103.7 426.3h1M99.5 426.3h1M103.7 454.5h1M101.3 442.6h1M116.8 435.3h1M104.4 447.6h1M122.6 444.4h1M111.9 449.6h1M105.5 428.4h1M98 449.9h1M124.7 454.1h1M123.3 443.7h1M112.9 444.4h1M111.2 458h1M117.5 434.5h1M111.5 445.2h1M103.8 455.7h1M114.6 453.5h1M113.6 439.9h1M127.6 455.7h1M105.3 454.1h1M105.5 426.4h1M99.6 420.4h1M99.3 431.7h1M112.2 442.8h1M100.9 444.1h1M121.8 447.2h1M125.1 448h1M110.8 444.1h1M109.6 449.7h1M98.3 437.5h1M113.5 454.6h1M118.9 443.1h1M122.2 436h1M99.4 446.4h1M115.7 448.9h1M100.2 423.3h1M103.7 453.1h1M115.6 428.1h1M119.3 433.5h1M103.1 427.5h1M114.7 441.2h1M117.7 448.9h1M100.4 436.6h1M111.5 424h1M120.8 442.1h1M99.9 448.8h1M108.5 425.3h1M106.7 446.2h1M93.5 444.9h1M109 424.3h1M105.6 449.7h1M122.2 446.4h1M99.9 425.6h1M104.7 447.8h1M108.3 448.7h1M113.7 442.6h1M105.3 455h1M116.1 451.9h1M125 457.4h1M112.3 458.4h1M101.9 422.9h1M104.7 445.3h1M112.6 440.7h1M109.1 454.6h1M121.8 458h1M106.2 448.2h1M101 422.5h1M119.9 450.6h1M113.1 452.3h1M119.6 445.9h1M110.5 445h1M114.3 443.1h1M99.8 455.7h1M112.6 440.8h1M112.2 459.7h1M118.1 439.6h1M117 435.8h1M102.4 424.3h1M112.1 444h1M113.5 448.1h1M101.6 446.7h1M112.3 442h1M109.6 445.5h1M101.9 446.2h1M97.9 453.4h1M113 454.7h1M106.8 420.8h1M105 449.8h1M106.3 448.2h1M116.5 440.9h1M112.4 450.7h1M101.5 430.7h1M97.8 440.9h1M110.8 446.2h1M103.1 447.1h1M92.7 428.3h1M104.5 446.3h1M106.5 428.7h1M120.1 448.4h1M119.3 438.7h1M95.7 437.1h1M110.5 448.7h1M106.6 450.4h1M121.9 440.4h1M107 446.8h1M116.7 442.7h1M114.9 445.5h1M114.7 445.7h1M117.9 427.1h1M121.5 435.7h1M114.1 441.7h1M116.5 448.5h1M104.1 428.4h1M117.4 450.8h1M107.2 449.1h1M115.5 449.6h1M123.4 453.3h1M114.8 452.9h1M106.6 445.7h1M99.2 437.3h1M100.3 433.7h1M118.2 440h1M106.1 419.6h1M110.5 448.9h1M107 446.1h1M102.8 450.3h1M121.8 445h1M118.2 443.3h1M109.1 459.9h1M98.7 440.4h1M115.6 441.8h1M114.6 440.6h1M102.8 446.9h1M114.9 441.9h1M93.3 435h1M99 441.1h1M113.9 442.6h1M113.7 447.5h1M107.8 426.3h1M102 422.9h1M97.1 445.7h1M120.4 454.4h1M122.1 429.9h1M99.1 440.9h1M97.9 423.4h1M107.4 445.9h1M121.7 447.9h1M101.9 428.7h1M95.3 436.7h1M97.6 442.8h1M118 453.9h1M118.7 444.2h1M112.5 446.7h1M107.6 451.4h1M99.8 431.8h1M119.8 441.7h1M113.1 421.4h1M118.3 437.7h1M104.1 445.4h1M109 426.1h1M117.3 435.3h1M124.9 447.7h1M120.2 447.8h1M113.7 428h1M98.9 440.4h1M112.9 441.3h1M116.1 443.1h1M103.6 445.9h1M99.5 430.5h1M105.3 423h1M108.7 448.6h1M106.8 424.6h1M114.8 426.1h1M111.5 443.3h1M112.1 448.3h1M115.2 442.4h1M96.2 428.7h1M105.2 455.5h1M111.4 422.8h1M118.4 440.4h1M102.3 443.4h1M103.4 429h1M113.7 456.3h1M113.2 454.3h1M101.5 443.1h1M112.6 448.7h1M125.3 442.7h1M114.3 453h1M111.2 452.6h1M100.8 438.7h1M111.4 444h1M103.4 444.6h1M101.8 452.1h1M104.6 426h1M102.7 426.6h1M120.6 434h1M102.8 444.3h1M101.4 430.5h1M112.9 448.9h1M111.5 447.4h1M111.1 446.6h1M112.3 448.5h1M107.7 447.4h1M110.5 427.1h1M102.9 444.9h1M89.4 436.5h1M109.7 427.7h1M115 438.2h1M101.1 447.2h1M117.5 450.8h1M114.1 450.2h1M97.4 434.2h1M117.6 447.3h1M108 417.9h1M115.3 442.2h1M90.2 432.8h1M113 447.2h1M94.8 428.4h1M114.4 427.4h1M107.6 427h1M114.6 442.7h1M108.4 447.1h1M117 446.6h1M115.5 448.1h1M119.2 452.4h1M106.3 455h1M113.3 446.7h1M95.8 439.9h1M115.2 454.9h1M99.2 434.8h1M105.9 449.5h1M103.6 421.9h1M102.5 443.5h1M104.4 447.6h1M99.7 446.9h1M101.8 430.4h1M124.2 444.2h1M117.4 430.3h1M114.8 447.2h1M111.4 445.6h1M111.8 446.8h1M115.4 450.1h1M97.9 443.7h1M114.2 448.8h1M105.8 448.9h1M95 426.7h1M111.8 465.9h1M100 440.5h1M113.1 449.3h1M109.3 453.6h1M114.1 451h1M116.8 435.6h1M119.4 436.8h1M98.8 440.6h1M107.8 424.9h1M111.6 442.9h1M121.5 462.3h1M116.4 446.8h1M109.6 450.6h1M105.9 448.2h1M104.4 447.9h1M113.3 463.7h1M94.8 453.2h1M98.1 444.6h1M106.7 451.5h1M121.7 453.8h1M109.9 448.3h1M112.9 456h1M112.8 449.9h1M108 451h1M103 456.9h1M99.4 449.2h1M101.8 453.7h1M100.9 452.2h1M103.6 450.3h1M105.6 465.1h1M103.3 460.8h1M108.6 459.4h1M101.3 462.4h1M107.2 448.5h1M107.9 463.2h1M104.9 454.5h1M113 459.7h1M112.2 456.5h1M111.2 459.5h1M108 457.6h1M105.1 451.9h1M108.4 449.7h1M106.8 463.4h1M107.3 458.3h1M108.8 445.6h1M109.5 452.6h1M103.7 457.4h1M105.5 465.1h1M99.4 461.8h1M112.1 456.1h1M102.1 445.5h1M98 454.6h1M106.4 458.7h1M108.7 456.9h1M100.3 454.1h1M109.5 459.8h1M95.8 460.3h1M99.4 453.7h1M108.6 466.1h1M110.2 453.7h1M103.9 447.6h1M101.4 451.8h1M103.8 460.5h1M102.8 458.1h1M106.8 448.1h1M109.2 453.1h1M105.2 454.9h1M110.1 459.2h1M108 450.1h1M115.1 451.2h1M109.4 462.6h1M104.4 451h1M108.7 448h1M112.6 442.7h1M105.7 455.2h1M108.7 450h1M114.4 461.8h1M107.9 457.9h1M102 459.3h1M109 458.2h1M110.8 455.1h1M99.8 445.6h1M111.2 454.2h1M104.8 448.9h1M110.8 452.6h1M114.7 450.8h1M103.9 455.5h1M100.8 457.1h1M110.4 445.5h1M109.4 444.5h1M108 450.1h1M110.3 446.7h1M106.5 456.1h1M105.1 450.6h1M103.9 459.1h1M108.5 457.5h1M111.3 455.8h1M109.2 449.2h1M107.4 456.5h1M101.8 447h1M110.8 463.6h1M109.9 453.4h1M114.2 459.2h1M114 458.1h1M108.6 458.2h1M114.3 459.7h1M100.4 463.4h1M105.6 445.9h1M102 455.1h1M97.1 445.5h1M108.2 457h1M114.5 453.1h1M104.2 448.2h1M110.8 453.6h1M108.8 448.7h1M103.5 448.9h1M108.3 455.1h1M114.2 457.1h1M108 460.5h1M100.9 448.4h1M110.2 458.6h1M101.2 454.6h1M105.6 452.7h1M112.2 459.8h1M105.5 447.3h1M106.6 449.2h1M104.1 456.9h1M107.3 456h1M101.4 462.2h1M109.2 453.2h1M105 459.2h1M112.3 448.4h1M96.6 460.4h1M100.8 453h1M117.8 447.6h1M113.1 447.9h1M102.9 453.5h1M98.9 462.7h1M106.6 450.8h1M103.6 455h1M114.4 451.4h1M104 458.7h1M112 448.6h1M106.5 447.7h1M100.7 457.9h1M109.8 461.9h1M115.6 436.5h1M101.5 451.7h1M115.7 452.8h1M111.4 447.8h1M113.3 461.6h1M113.6 458.6h1M105.5 463.9h1M104.2 447.6h1M103.8 453.9h1M113.4 453.2h1M109.8 452.5h1M110.4 453.8h1M111.4 458.6h1M110 449.2h1M106.8 457.3h1M113.3 455.9h1M104.7 451.6h1M102.7 450.5h1M106.5 449h1M108.9 465.5h1M104.3 459.9h1M102.7 459.5h1M112.7 451.3h1M100.8 455.8h1M103.3 453.4h1M115.9 454.8h1M98.8 452.5h1M102.4 463.7h1M108.8 449.1h1M107.9 451.5h1M102.8 444.9h1M106.9 448.3h1M105.9 456.3h1M112.5 448.3h1M108.7 446.3h1M97.8 459.2h1M114.5 449.3h1M102 442.9h1M105.9 458h1M105.8 455h1M103.7 452.2h1M109.3 450h1M109.7 460.7h1M100 454.6h1M118.1 454.6h1M106.6 460.2h1M112 454.2h1M96.7 452.7h1M108.5 456.2h1M114.4 443h1M102.2 453.4h1M111.3 448.6h1M103 455.2h1M107.8 458.1h1M106.5 454.9h1M99.9 455.6h1M109.2 450.9h1M101.6 462.5h1M111.4 451.8h1M111.4 463.7h1M105.8 461.8h1M110.7 451.1h1M106 460.8h1M112.3 456.9h1M103.3 450.3h1M100.3 447.8h1M109.4 456.2h1M107 456.9h1M114.7 446.1h1M111.2 449.5h1M113.9 441.8h1M107.3 452.3h1M106 457.4h1M101.9 451.8h1M110.7 450.9h1M110.2 452.7h1M108.5 448.1h1M101.8 450h1M113.3 455.6h1M105.7 449.2h1M112.8 457.8h1M107.4 457h1M108 461.1h1M103.3 454.4h1M110 456.1h1M104.2 449.2h1M111 463.5h1M103.6 451.6h1M113.2 451.9h1M110.6 458.9h1M106.8 464.9h1M108 450.9h1M112 460.1h1M103.7 453.1h1M105.2 453.5h1M101.9 454.8h1M113.3 449.9h1M106.5 452.4h1M101.8 453h1M105.6 448.7h1M114.3 449.9h1M109.9 452.4h1M119.6 432.9h1M126.7 449.2h1M87.3 464.8h1M121.7 436.5h1M96 433.1h1M89 436.1h1M118.6 440.2h1M99.1 446.7h1M114.4 444.2h1M116.3 457.8h1M114.9 454.7h1M119.9 439.4h1M117 441h1M104.8 445.9h1M115.1 450.4h1M111.1 425h1M109.3 445.1h1M117.5 445.7h1M121.6 451.2h1" stroke="#111" stroke-width="1"/>
<path d="M130.4 422h1M127.9 442.3h1M121.3 421.6h1M129.3 430.8h1M121.2 425.9h1M126.8 427.1h1M120.7 435.2h1M130.4 423h1M120.1 440.4h1M128.1 417.9h1M131.7 430h1M123.6 433.1h1M126.6 427.5h1M130.8 418.3h1M131.4 432h1M127.6 429.6h1M127.9 425.9h1M134.4 417.9h1M127.6 441h1M128 425.9h1M128.5 424.1h1M127.7 434.5h1M122.1 417.7h1M130.1 421.5h1M126.5 426.6h1M127.2 420.8h1M127.7 424.7h1M123.4 429.9h1M135.9 423.3h1M137 418.7h1M131 423.7h1M124.5 422.6h1M120.1 435.3h1M126.9 428.5h1M122.2 421.6h1M123.9 435.6h1M137 433.6h1M129.6 425.1h1M121.5 419.9h1M126.7 427.1h1M128 419.3h1M127.8 428.3h1M130.4 435.9h1M122.7 431.6h1M125.7 423.4h1M129.3 415.7h1M135.9 421.9h1M134.7 423h1M137.2 414.7h1M124.9 442.1h1M132.4 431.8h1M128.9 424.1h1M128.4 433.7h1M131.8 423.7h1M118.4 436.3h1M133.3 433h1M128.4 415.2h1M125 435.5h1M131.2 428.1h1M129.7 422.4h1" stroke="#444" stroke-width="1"/>
<path d="M134.9 401h1M141.4 397.2h1M131.2 398.8h1M140.8 401.5h1M137.3 403.7h1M144 395.6h1M135.8 401.8h1M146.2 398.6h1M135.5 399.1h1M139.3 396.8h1M139.7 402.4h1M140.1 401.8h1M132.3 401.6h1M135.2 400.8h1M142.7 396.8h1M129.7 402h1M143.3 400.8h1M132.1 401.8h1M143.5 397.5h1M128.7 401.4h1M138.9 397.3h1M134.5 397.4h1M141 399.7h1M145.5 400.3h1M139.6 402.7h1M137 396.8h1M137 397.4h1M143.5 403.9h1M132.5 398.9h1M127.3 403.6h1M152.5 401.4h1M150.3 403h1M133.8 399.3h1M136.6 402h1M126.5 396.9h1M141 398.1h1M125.7 397.4h1M143.2 403.8h1M138.4 402.9h1M127.9 399.6h1" stroke="#555" stroke-width="1"/>
</g>
<defs><clipPath id="c4"><rect x="61.3" y="365.1" width="100.7" height="101.3"/></clipPath></defs>
<path d="M120.7 365.1V466.4M61.3 417.6H162" stroke="#d65a5a" stroke-width="0.9"/>
<path d="M61.3 365.1H162V466.4H61.3" fill="none" stroke="#6b88c8" stroke-width="0.9"/>
<path d="M61.3 364.6V466.9" fill="none" stroke="#3f62b0" stroke-width="1.1"/>
<path d="M57.8 365.1H162" fill="none" stroke="#7d95cc" stroke-width="1.3"/>
<text x="62.1" y="372.1" font-size="7.5" fill="#d0413f">Q3-UL</text>
<text x="62.1" y="378.7" font-size="7.5" fill="#d0413f">0.1%</text>
<text x="139.7" y="372.1" font-size="7.5" fill="#d0413f">Q3-UR</text>
<text x="139.7" y="378.7" font-size="7.5" fill="#d0413f">1.0%</text>
<text x="62.1" y="459.2" font-size="7.5" fill="#d0413f">Q3-LL</text>
<text x="62.1" y="465.6" font-size="7.5" fill="#d0413f">97.3%</text>
<text x="139.7" y="459.2" font-size="7.5" fill="#d0413f">Q3-LR</text>
<text x="139.7" y="465.6" font-size="7.5" fill="#d0413f">1.5%</text>
<path d="M203.2 461.5h-3.2M203.2 458.6h-3.2M203.2 456.6h-3.2M203.2 455h-3.2M203.2 453.7h-3.2M203.2 452.6h-3.2M203.2 451.6h-3.2M203.2 450.8h-3.2M203.2 445.1h-3.2M203.2 442.3h-3.2M203.2 440.2h-3.2M203.2 438.6h-3.2M203.2 437.3h-3.2M203.2 436.3h-3.2M203.2 435.3h-3.2M203.2 434.5h-3.2M203.2 428.8h-3.2M203.2 425.9h-3.2M203.2 423.9h-3.2M203.2 422.3h-3.2M203.2 421h-3.2M203.2 419.9h-3.2M203.2 419h-3.2M203.2 418.1h-3.2M203.2 412.5h-3.2M203.2 409.6h-3.2M203.2 407.5h-3.2M203.2 406h-3.2M203.2 404.7h-3.2M203.2 403.6h-3.2M203.2 402.6h-3.2M203.2 401.8h-3.2M203.2 396.1h-3.2M203.2 393.2h-3.2M203.2 391.2h-3.2M203.2 389.6h-3.2M203.2 388.3h-3.2M203.2 387.2h-3.2M203.2 386.3h-3.2M203.2 385.5h-3.2M203.2 379.8h-3.2M203.2 376.9h-3.2M203.2 374.9h-3.2M203.2 373.3h-3.2M203.2 372h-3.2M203.2 370.9h-3.2M203.2 370h-3.2M203.2 369.1h-3.2M208.1 466.4v3.2M211 466.4v3.2M213 466.4v3.2M214.6 466.4v3.2M215.9 466.4v3.2M217 466.4v3.2M217.9 466.4v3.2M218.7 466.4v3.2M224.4 466.4v3.2M227.3 466.4v3.2M229.3 466.4v3.2M230.9 466.4v3.2M232.2 466.4v3.2M233.3 466.4v3.2M234.2 466.4v3.2M235 466.4v3.2M240.7 466.4v3.2M243.6 466.4v3.2M245.6 466.4v3.2M247.2 466.4v3.2M248.5 466.4v3.2M249.5 466.4v3.2M250.5 466.4v3.2M251.3 466.4v3.2M257 466.4v3.2M259.8 466.4v3.2M261.9 466.4v3.2M263.5 466.4v3.2M264.7 466.4v3.2M265.8 466.4v3.2M266.8 466.4v3.2M267.6 466.4v3.2M273.3 466.4v3.2M276.1 466.4v3.2M278.2 466.4v3.2M279.7 466.4v3.2M281 466.4v3.2M282.1 466.4v3.2M283.1 466.4v3.2M283.9 466.4v3.2M289.6 466.4v3.2M292.4 466.4v3.2M294.5 466.4v3.2M296 466.4v3.2M297.3 466.4v3.2M298.4 466.4v3.2M299.4 466.4v3.2M300.2 466.4v3.2" stroke="#5d7cc4" stroke-width="1"/>
<path d="M203.2 466.4h-3.2M203.2 450.1h-3.2M203.2 433.7h-3.2M203.2 417.4h-3.2M203.2 401h-3.2M203.2 384.7h-3.2M203.2 368.4h-3.2M203.2 466.4v3.2M219.5 466.4v3.2M235.8 466.4v3.2M252.1 466.4v3.2M268.4 466.4v3.2M284.7 466.4v3.2M300.9 466.4v3.2" stroke="#1f3f95" stroke-width="1.4"/>
<text x="197" y="467.4" font-size="5.5" fill="#3c5fae" transform="rotate(-90 197 467.4)" text-anchor="middle">10<tspan font-size="5" dy="-2.2">1</tspan></text>
<text x="197" y="451.1" font-size="5.5" fill="#3c5fae" transform="rotate(-90 197 451.1)" text-anchor="middle">10<tspan font-size="5" dy="-2.2">2</tspan></text>
<text x="197" y="434.7" font-size="5.5" fill="#3c5fae" transform="rotate(-90 197 434.7)" text-anchor="middle">10<tspan font-size="5" dy="-2.2">3</tspan></text>
<text x="197" y="418.4" font-size="5.5" fill="#3c5fae" transform="rotate(-90 197 418.4)" text-anchor="middle">10<tspan font-size="5" dy="-2.2">4</tspan></text>
<text x="197" y="402" font-size="5.5" fill="#3c5fae" transform="rotate(-90 197 402)" text-anchor="middle">10<tspan font-size="5" dy="-2.2">5</tspan></text>
<text x="197" y="385.7" font-size="5.5" fill="#3c5fae" transform="rotate(-90 197 385.7)" text-anchor="middle">10<tspan font-size="5" dy="-2.2">6</tspan></text>
<text x="197" y="365.6" font-size="5.5" fill="#3c5fae" transform="rotate(-90 197 365.6)" text-anchor="middle">10<tspan font-size="5" dy="-2.2">7.2</tspan></text>
<text x="204.2" y="475.9" font-size="5.5" fill="#3c5fae" text-anchor="middle">10<tspan font-size="5" dy="-2.2">1</tspan></text>
<text x="220.5" y="475.9" font-size="5.5" fill="#3c5fae" text-anchor="middle">10<tspan font-size="5" dy="-2.2">2</tspan></text>
<text x="236.8" y="475.9" font-size="5.5" fill="#3c5fae" text-anchor="middle">10<tspan font-size="5" dy="-2.2">3</tspan></text>
<text x="253.1" y="475.9" font-size="5.5" fill="#3c5fae" text-anchor="middle">10<tspan font-size="5" dy="-2.2">4</tspan></text>
<text x="269.4" y="475.9" font-size="5.5" fill="#3c5fae" text-anchor="middle">10<tspan font-size="5" dy="-2.2">5</tspan></text>
<text x="285.7" y="475.9" font-size="5.5" fill="#3c5fae" text-anchor="middle">10<tspan font-size="5" dy="-2.2">6</tspan></text>
<text x="305.2" y="475.9" font-size="5.5" fill="#3c5fae" text-anchor="middle">10<tspan font-size="5" dy="-2.2">7.2</tspan></text>
<text x="188.9" y="427.2" font-size="5.7" text-anchor="middle" fill="#222" transform="rotate(-90 188.9 427.2)">FL2-A</text>
<text x="253.9" y="483.2" font-size="5.7" text-anchor="middle" fill="#222">FL4-A</text>
<text x="203.2" y="363.8" font-size="7" fill="#222">Gate: P1</text>
<g clip-path="url(#c5)" filter="url(#bl)">
<path d="M243.3 432.2C244.3 430.8 246.1 429.5 247.7 428.6C249.4 427.7 251.4 427.4 253.2 426.9C255 426.4 257.2 425.3 258.4 425.5C259.7 425.6 260.6 426.4 261 427.7C261.4 429 261.4 431.1 261 433.1C260.6 435 259.5 437.4 258.4 439.4C257.4 441.3 256 443 254.8 444.6C253.6 446.2 252.5 448 251.3 449.1C250.1 450.1 248.8 451.1 247.7 450.8C246.7 450.5 245.9 449 245.1 447.4C244.3 445.7 243.4 442.9 242.9 441.1C242.4 439.3 241.9 438.1 242 436.6C242.1 435.1 242.3 433.5 243.3 432.2Z" fill="#050505"/>
<path d="M243.9 428.6h1M256.1 424h1M250.7 422.2h1M258.9 445.6h1M260.6 440.4h1M243.4 434.9h1M256.3 443.3h1M249 458h1M265 446.5h1M252.8 447.1h1M264.9 444.4h1M247.6 459.8h1M242.1 434.3h1M256.1 461.6h1M245.4 418.7h1M248.8 450.6h1M261.6 445.2h1M251.7 425.2h1M263.2 447.2h1M245.9 446.9h1M258.6 462.4h1M255.3 455.5h1M265.8 438.3h1M240.5 434.5h1M260.2 453h1M255.5 427h1M267.1 451.7h1M256.7 447.1h1M240.4 424.9h1M243.7 453.7h1M255 444.6h1M243.4 412h1M259.8 443.4h1M241.5 428.5h1M265.4 452.7h1M259.2 446h1M249.8 420.4h1M243.8 427.4h1M257.2 448.7h1M259.2 456.8h1M249.7 449h1M264.5 446.1h1M258.8 442.5h1M241.1 437.9h1M237.6 452.7h1M260.6 441.7h1M256.1 446.3h1M254.3 425.9h1M244.3 449.2h1M246 426.9h1M245 448.1h1M250.2 449.8h1M247.4 458.4h1M246.6 430.3h1M259.9 445.1h1M251.6 453.3h1M239.9 439.9h1M244.6 426.6h1M246.2 448.6h1M250.7 425.3h1M244.3 450.9h1M267.9 444.4h1M258 457.1h1M258.6 440.2h1M247.9 427.4h1M243.6 427.9h1M244.8 428.4h1M255.5 443.4h1M242.8 441.9h1M253.6 454.1h1M255 443.8h1M245 431.4h1M252.8 459.2h1M258.4 443.7h1M250.5 448.9h1M261 455h1M237.2 425.3h1M244.7 432.3h1M268.3 441.9h1M258.3 450.3h1M242.2 424.8h1M252.5 448.1h1M258 442.2h1M265.8 442.2h1M259.3 442.9h1M259.3 443.1h1M250 449.5h1M258.3 451.6h1M254.1 427h1M259.7 445.1h1M249.4 459.2h1M257.1 442.7h1M246.2 430.1h1M249.3 449.8h1M256.6 444.4h1M237.6 440.6h1M263 446.8h1M244 442.8h1M249.3 428.9h1M237.3 437.5h1M248.1 454.5h1M263.1 451.9h1M249.1 454h1M243.5 439.2h1M256.6 452h1M253.2 456.8h1M262.1 447.3h1M275 446.3h1M241.8 421.1h1M247.8 457.3h1M257 452.3h1M256.7 448.1h1M242.1 431.1h1M257.6 440.4h1M261.2 449.2h1M257.1 452.6h1M237.3 434.7h1M243.1 433.8h1M251 451.2h1M251.4 454.6h1M252.3 449.2h1M249.5 428.5h1M260.1 450.6h1M254.5 444.5h1M246.5 452.2h1M262 447.6h1M255.2 444h1M261.2 441.1h1M261.2 442.8h1M252.2 448.7h1M244.5 432.4h1M238.1 439h1M253.9 445.9h1M251.5 447.6h1M254.5 447.9h1M252.4 450.7h1M266.3 450.6h1M241.2 451.1h1M247.9 428.2h1M236.1 438.4h1M258.9 452.1h1M249.2 452h1M237.3 448.3h1M250.5 427.6h1M254.2 447.3h1M244.4 421h1M262.3 450.6h1M232.8 426.2h1M251.5 449.4h1M268.7 452.9h1M255 451.2h1M245.1 444.3h1M256.6 446.6h1M258.1 450h1M259.5 438.9h1M259.8 445.4h1M243.2 438.6h1M245.1 446.5h1M249.5 422.3h1M249.1 448.5h1M255.9 447.5h1M261.3 452.3h1M243.9 442.7h1M253.3 448.1h1M259.3 436.8h1M240.4 442h1M242.5 420.5h1M250.3 427.9h1M250.3 455.5h1M255.3 444.5h1M250.9 453.1h1M255.9 448.4h1M261.9 429.6h1M241.1 429.1h1M262.5 439.8h1M255.9 447.6h1M258 438.9h1M253.4 422.6h1M234.7 430h1M268.8 455.2h1M260.1 446.6h1M238.2 437.7h1M264.2 444.3h1M255.6 443.8h1M260.2 452h1M246.3 424h1M243.2 427.5h1M243 436.8h1M254.3 449.6h1M241.6 439h1M236.6 449h1M257.6 426.3h1M248.2 428.3h1M240.2 433.2h1M245.9 447.2h1M256.9 447.2h1M242 430.5h1M265.2 441.7h1M246.9 424.7h1M253.7 451.4h1M259.8 442.6h1M243.6 423.5h1M259.3 438h1M241.6 424.9h1M256.3 453h1M259.5 448.2h1M244.5 442.8h1M250 451.4h1M255.8 441.6h1M254.9 443.1h1M243.4 433.5h1M253.4 446.6h1M243.8 431.4h1M247.8 427.2h1M258.7 447.4h1M260 426.6h1M246.3 453.5h1M242.5 422.6h1M253 454.2h1M255.2 445.6h1M256.9 452.4h1M260.4 453h1M250.6 425.6h1M266.3 437.4h1M239.7 421.3h1M254.1 444.3h1M255.8 444.9h1M247.1 427h1M257.4 447.5h1M258.2 451.1h1M244.7 447.2h1M234.8 435h1M252.3 428.2h1M250.5 422.3h1M241.5 437.2h1M258.2 446.3h1M252.4 453.5h1M256.4 445.8h1M257.8 448.8h1M259.8 443.3h1M240.1 449.1h1M256.8 447.3h1M256.6 443.7h1M255.2 464.2h1M256.2 446.3h1M261.3 441.3h1M242.8 446.5h1M243.6 442.3h1M259.4 437.3h1M262.8 447.5h1M240.2 445.2h1M258.4 427.5h1M234 455.3h1M252.2 424h1M258.5 455.2h1M236.2 445.3h1M256.3 442.7h1M255.2 450.4h1M257.4 446.9h1M262.6 435.1h1M259.6 425.8h1M252.9 460h1M254.4 450.1h1M250.5 454.3h1M243.8 448.1h1M256.3 451h1M261.8 443h1M254.4 444.3h1M236.8 424.7h1M252.2 451.9h1M251 451.1h1M241.5 438.6h1M262.9 446.2h1M244.9 443.2h1M242.7 428.2h1M258.9 447.3h1M258 445.5h1M249.6 448.8h1M243.3 422.3h1M246.1 446.2h1M248.1 420.9h1M270.2 440.8h1M241.5 441.3h1M240 431.5h1M255.6 448.5h1M243.2 438.1h1M253.6 450.5h1M256.7 441.8h1M249.8 454.5h1M244.6 445.7h1M251.8 447.5h1M250.1 429.3h1M260.8 449.6h1M242.5 440.4h1M259.8 436.1h1M260.2 449.4h1M254.2 446.8h1M250.3 460.4h1M243.5 443.1h1M256.6 450.3h1M238.7 427.9h1M254.9 447.5h1M243.5 438.3h1M258.4 437.6h1M254.3 426.9h1M251.3 448.6h1M245.2 430h1M259.1 451h1M268.4 454.4h1M244.7 446.1h1M262.6 440.3h1M257.1 448.4h1M257.8 449.6h1M266.2 438.7h1M259.9 443.5h1M234.9 427.5h1M237.1 433.6h1M244.8 446.3h1M258.5 440.3h1M237.9 442.1h1M249.4 453.4h1M251.4 450.2h1M254.6 446.4h1M248.1 427.2h1M269.9 465.3h1M254.3 445.8h1M257.7 448.2h1M242.2 426.3h1M257 454h1M258.5 450.4h1M251.6 448.8h1M261.6 449.2h1M259.7 453.9h1M247.1 448.7h1M262 432h1M250.5 447.9h1M245.5 427.2h1M257 440.7h1M240.7 444.2h1M249.5 429.2h1M246.6 452.7h1M253.9 457h1M260.5 452.3h1M252.3 465.6h1M249.1 449.4h1M249.7 450.8h1M251.6 455.1h1M248.1 456.3h1M251.3 448.4h1M245.4 448.4h1M245.2 457.4h1M255 456h1M253.1 451.4h1M252.4 454.6h1M251.9 451.4h1M247 455.9h1M253.4 447.7h1M250.7 454.1h1M253.9 444.3h1M245.5 446.2h1M246.2 447.9h1M255.4 447.5h1M261 455.8h1M254.7 454h1M255.5 456.5h1M255.2 457.7h1M254.4 456.5h1M256.5 454.4h1M249.4 463.6h1M249.6 456.6h1M260.9 450.5h1M250.5 450.3h1M247.6 458.1h1M250.8 455h1M244.2 457.1h1M258.7 444.4h1M252.9 448.2h1M257 447.8h1M248.9 455.6h1M250.1 458.3h1M253.7 461.3h1M254 449.4h1M256.8 458.9h1M250 456.8h1M251.6 454.9h1M254.5 459.4h1M252.1 454.7h1M240.8 449.5h1M253.7 449.6h1M253.3 453.1h1M252 454.8h1M257.4 457.2h1M251.9 447.3h1M253.3 448h1M257.1 450.2h1M249 453.4h1M247.3 457.2h1M253.1 450.3h1M249.4 465h1M256.8 457.5h1M253 463.1h1M250 452.7h1M251.1 448.1h1M247.8 465.1h1M252.4 449.1h1M250.7 451.4h1M249.8 453.9h1M245.3 443.8h1M250.8 452.9h1M246.6 453.7h1M249.2 455.5h1M250.8 460.8h1M257.8 458.2h1M251.8 459.3h1M254.9 457h1M255.1 452.1h1M255.1 457.4h1M253.5 453.4h1M250 457.7h1M259.1 461.3h1M248.4 462.4h1M242.9 457.8h1M254.7 455.8h1M250.9 458.9h1M254 447.8h1M248.6 460.2h1M255 447.7h1M245.3 456.9h1M248.2 450.1h1M249.5 455.7h1M243 458.9h1M250.2 459.7h1M246.8 449.3h1M253.9 460.1h1M251.5 452.5h1M257.6 460.7h1M253.1 453h1M257.2 458.4h1M250.2 462.9h1M256.6 455.7h1M253.8 458.9h1M257 445h1M245.2 446.2h1M254 460.4h1M249 462h1M258.9 462.4h1M246.2 462h1M261.8 449.2h1M244.8 461.9h1M254.1 454.2h1M248.1 455.5h1M253.8 459.8h1M255.9 451.7h1M251.5 462.7h1M245.9 457.5h1M248.1 455.7h1M259.9 456.7h1M249.8 450.4h1M245.7 454.3h1M241.9 454h1M252.4 449.1h1M248.4 461.3h1M257.2 466.3h1M256.8 456.3h1M250.9 461.6h1M254.8 455.5h1M259.7 453.5h1M252.6 460.8h1M254 454.9h1M250.4 458.5h1M253.7 455.4h1M259.1 454h1M259.3 448.7h1M252.4 449.7h1M253.4 458.5h1M254.3 455.8h1M255.5 454.6h1M256.9 444.6h1M256.6 450.2h1M247.3 459.6h1M251.4 455.9h1M251.4 461h1M253 456h1M251.8 460.1h1M256.7 452.4h1M255.6 445.7h1M248.3 451.3h1M248.6 457.6h1M245.7 445.3h1M252.6 449.3h1M252 454.9h1M248.9 452h1M255.5 454.4h1M252.1 458.3h1M250.2 463.9h1M256.1 459.8h1M242.5 455.2h1M246.9 447.5h1M254.2 456.1h1M246.1 455.9h1M257.9 459.9h1M248.7 459.9h1M243.1 452.6h1M249.8 461.6h1M246.4 448.8h1M250.3 458.8h1M245.6 455.8h1M250.2 451.7h1M246.2 456.8h1M252.4 456.9h1M252.5 453.7h1M247.9 454.3h1M255.2 455.2h1M254.1 459.5h1M253.2 452.9h1M247.5 461.8h1M251 453.4h1M252.2 459.1h1M255.6 450.2h1M251.4 461.2h1M249.1 454.6h1M246.1 455.3h1M250.6 453.1h1M245 454h1M248.3 462.3h1M247.4 460.5h1M246.6 448.3h1M258 449.9h1M252.4 462.6h1M250.5 452.8h1M251.8 449.9h1M246.2 454.6h1M241.1 457.1h1M246.2 457h1M255.7 454h1M258.5 459.6h1M254.9 459.8h1M246.4 448h1M259.6 451.4h1M252.5 452.3h1M242.7 460.2h1M258.9 450.9h1M247.8 463.3h1M245.1 452.5h1M246.4 454.5h1M262.6 458.9h1M249.4 460.7h1M254.5 455.3h1M255 452.1h1M249.2 464.8h1M252 463.3h1M242.9 448.9h1M247.7 455h1M251.4 460h1M254 454.2h1M254 458.5h1M249.6 457.9h1M250 462.5h1M249.4 454.6h1M248.1 453.5h1M256.6 462.6h1M255.5 458.3h1M252.2 446.7h1M254.5 450.5h1M253 453.6h1M255.5 450.3h1M255.2 454.3h1M258.9 453.6h1M255.6 454.5h1M242 457.1h1M253.8 452.4h1M257.4 453.6h1M251 456.6h1M238.6 447.1h1M241.5 443.8h1M262.6 437h1M243.8 459.1h1M251.1 452.7h1M257.2 446.1h1M266.1 440.8h1M234.2 438.6h1M244.3 429.1h1M256.2 442.1h1M251.7 450.7h1M243.1 441.4h1M254.9 443h1M261.9 431.8h1M246.2 458.1h1M273 447.7h1M265.8 434.7h1M261.8 444.7h1M252.7 449h1M263.1 446.3h1M263.6 408.5h1M262.7 409.9h1M264 413.2h1M261.2 407.9h1M262.4 409.2h1M262.6 408.4h1M262.8 411.6h1M263.2 408.9h1M264.7 411h1M262.3 413.1h1M262.8 408.7h1M264.3 409h1M262.3 413.4h1M263.1 408.8h1M264.1 410.4h1M260.9 409.8h1M264.5 409.8h1M264.5 408.3h1M265 410h1M262.7 408.2h1M271.4 425.6h1M264.8 427.6h1M266 424.1h1M268.5 423.6h1M271.3 437.4h1M258.4 426h1M264.7 429h1M270.7 436.1h1M272.5 420.7h1M266 434h1M272.4 422.1h1M268.1 432.7h1M273.3 424.1h1M268.8 428.6h1M265.7 424.7h1M271.7 425.9h1M266.6 431.8h1M272.6 428.8h1M264.8 421.9h1M261.4 422.8h1M268.4 419.4h1M262.6 420.9h1M267.8 423.8h1M274.5 432.5h1M267.2 425.3h1M272.3 421.6h1M271.7 419.7h1M265.1 427.6h1M267.6 417.9h1M262.9 426.6h1M263.5 426.7h1M280.8 424.7h1M268.3 428.9h1M266.2 420.9h1M259.3 427.1h1M265.8 432.6h1M267.8 429.3h1M261.7 424.4h1M269 424.1h1M270.2 423.9h1M265.5 427.9h1M261.1 438.9h1M260.6 433.2h1M274.5 424.7h1M269 430.8h1M268.7 429.2h1M265.3 428.5h1M264.2 420.3h1M265.8 429.6h1M268.4 427.8h1M265 426.6h1M263 425.3h1M267.4 421.9h1M274.4 416.3h1M270.1 424.3h1M272 423.4h1M271.1 422.1h1M263.1 424.9h1" stroke="#111" stroke-width="1"/>
<path d="M285.7 405.1h1M293.3 396.9h1M272.4 401.9h1M292.8 408h1M287.6 398.5h1M286.8 399.6h1M288.3 401.2h1M293.3 398.5h1M291.9 399.3h1M287.4 402.8h1M275.6 395.1h1M282.3 400.7h1M279.8 404.2h1M285 403.8h1M277.2 401.2h1M282.3 405.2h1M290.7 400h1M283.2 393.3h1M295.2 403h1M286.3 402.9h1M282.3 395.7h1M277.8 398.9h1M281.9 397.9h1M284.5 403.9h1M284.2 402.2h1M297.2 399h1M279.4 404.5h1M281.1 407.6h1M279.3 401.7h1M293.4 396.1h1M289.4 402.7h1M284.6 406.5h1M279.8 403.9h1M280.3 406.2h1M276 401.5h1M280.1 397.9h1M289.1 400.3h1M286.6 393.7h1M277.2 398.3h1M285.4 396.1h1M285.2 405h1M283.7 402.2h1M280.9 398.6h1M282.9 402.4h1M291.9 402.3h1M278.9 404.5h1M277.1 394.7h1M281.7 399.2h1M286.8 401.4h1M275.4 399.1h1M280 408.8h1M275.6 398h1M290.4 406.7h1M281 406.4h1M282.6 398.5h1M282.5 404.7h1M291.8 400.9h1M275.3 402.4h1M280.4 399.3h1M285.6 402.4h1M275.9 399.2h1M291.4 400.9h1M293.7 393.2h1M276.6 401.7h1M277.2 402.2h1M283.5 396.9h1M293.8 407.7h1M273.1 400.6h1M275.3 400.2h1M280.3 400.8h1M289.7 405.8h1M281.1 403.1h1M287 396.2h1M283.5 398.1h1M289.9 406h1M284.9 406.7h1M281.4 398.9h1M291.1 401.6h1M285 397h1M287.3 401.3h1" stroke="#333" stroke-width="1"/>
</g>
<defs><clipPath id="c5"><rect x="203.2" y="365.1" width="101" height="101.3"/></clipPath></defs>
<path d="M262.4 365.1V466.4M203.2 418.3H304.2" stroke="#d65a5a" stroke-width="0.9"/>
<path d="M203.2 365.1H304.2V466.4H203.2" fill="none" stroke="#6b88c8" stroke-width="0.9"/>
<path d="M203.2 364.6V466.9" fill="none" stroke="#3f62b0" stroke-width="1.1"/>
<path d="M199.7 365.1H304.2" fill="none" stroke="#7d95cc" stroke-width="1.3"/>
<text x="204" y="372.1" font-size="7.5" fill="#d0413f">Q3-UL</text>
<text x="204" y="378.7" font-size="7.5" fill="#d0413f">0.2%</text>
<text x="281.9" y="372.1" font-size="7.5" fill="#d0413f">Q3-UR</text>
<text x="281.9" y="378.7" font-size="7.5" fill="#d0413f">2.5%</text>
<text x="204" y="459.2" font-size="7.5" fill="#d0413f">Q3-LL</text>
<text x="204" y="465.6" font-size="7.5" fill="#d0413f">95.5%</text>
<text x="281.9" y="459.2" font-size="7.5" fill="#d0413f">Q3-LR</text>
<text x="281.9" y="465.6" font-size="7.5" fill="#d0413f">1.9%</text>
<path d="M344.4 461.5h-3.2M344.4 458.6h-3.2M344.4 456.6h-3.2M344.4 455h-3.2M344.4 453.7h-3.2M344.4 452.6h-3.2M344.4 451.6h-3.2M344.4 450.8h-3.2M344.4 445.1h-3.2M344.4 442.3h-3.2M344.4 440.2h-3.2M344.4 438.6h-3.2M344.4 437.3h-3.2M344.4 436.3h-3.2M344.4 435.3h-3.2M344.4 434.5h-3.2M344.4 428.8h-3.2M344.4 425.9h-3.2M344.4 423.9h-3.2M344.4 422.3h-3.2M344.4 421h-3.2M344.4 419.9h-3.2M344.4 419h-3.2M344.4 418.1h-3.2M344.4 412.5h-3.2M344.4 409.6h-3.2M344.4 407.5h-3.2M344.4 406h-3.2M344.4 404.7h-3.2M344.4 403.6h-3.2M344.4 402.6h-3.2M344.4 401.8h-3.2M344.4 396.1h-3.2M344.4 393.2h-3.2M344.4 391.2h-3.2M344.4 389.6h-3.2M344.4 388.3h-3.2M344.4 387.2h-3.2M344.4 386.3h-3.2M344.4 385.5h-3.2M344.4 379.8h-3.2M344.4 376.9h-3.2M344.4 374.9h-3.2M344.4 373.3h-3.2M344.4 372h-3.2M344.4 370.9h-3.2M344.4 370h-3.2M344.4 369.1h-3.2M349.3 466.4v3.2M352.2 466.4v3.2M354.2 466.4v3.2M355.8 466.4v3.2M357.1 466.4v3.2M358.2 466.4v3.2M359.1 466.4v3.2M359.9 466.4v3.2M365.6 466.4v3.2M368.5 466.4v3.2M370.5 466.4v3.2M372.1 466.4v3.2M373.4 466.4v3.2M374.5 466.4v3.2M375.4 466.4v3.2M376.2 466.4v3.2M381.9 466.4v3.2M384.8 466.4v3.2M386.8 466.4v3.2M388.4 466.4v3.2M389.7 466.4v3.2M390.7 466.4v3.2M391.7 466.4v3.2M392.5 466.4v3.2M398.2 466.4v3.2M401 466.4v3.2M403.1 466.4v3.2M404.7 466.4v3.2M405.9 466.4v3.2M407 466.4v3.2M408 466.4v3.2M408.8 466.4v3.2M414.5 466.4v3.2M417.3 466.4v3.2M419.4 466.4v3.2M420.9 466.4v3.2M422.2 466.4v3.2M423.3 466.4v3.2M424.3 466.4v3.2M425.1 466.4v3.2M430.8 466.4v3.2M433.6 466.4v3.2M435.7 466.4v3.2M437.2 466.4v3.2M438.5 466.4v3.2M439.6 466.4v3.2M440.6 466.4v3.2M441.4 466.4v3.2" stroke="#5d7cc4" stroke-width="1"/>
<path d="M344.4 466.4h-3.2M344.4 450.1h-3.2M344.4 433.7h-3.2M344.4 417.4h-3.2M344.4 401h-3.2M344.4 384.7h-3.2M344.4 368.4h-3.2M344.4 466.4v3.2M360.7 466.4v3.2M377 466.4v3.2M393.3 466.4v3.2M409.6 466.4v3.2M425.9 466.4v3.2M442.1 466.4v3.2" stroke="#1f3f95" stroke-width="1.4"/>
<text x="338.2" y="467.4" font-size="5.5" fill="#3c5fae" transform="rotate(-90 338.2 467.4)" text-anchor="middle">10<tspan font-size="5" dy="-2.2">1</tspan></text>
<text x="338.2" y="451.1" font-size="5.5" fill="#3c5fae" transform="rotate(-90 338.2 451.1)" text-anchor="middle">10<tspan font-size="5" dy="-2.2">2</tspan></text>
<text x="338.2" y="434.7" font-size="5.5" fill="#3c5fae" transform="rotate(-90 338.2 434.7)" text-anchor="middle">10<tspan font-size="5" dy="-2.2">3</tspan></text>
<text x="338.2" y="418.4" font-size="5.5" fill="#3c5fae" transform="rotate(-90 338.2 418.4)" text-anchor="middle">10<tspan font-size="5" dy="-2.2">4</tspan></text>
<text x="338.2" y="402" font-size="5.5" fill="#3c5fae" transform="rotate(-90 338.2 402)" text-anchor="middle">10<tspan font-size="5" dy="-2.2">5</tspan></text>
<text x="338.2" y="385.7" font-size="5.5" fill="#3c5fae" transform="rotate(-90 338.2 385.7)" text-anchor="middle">10<tspan font-size="5" dy="-2.2">6</tspan></text>
<text x="338.2" y="365.6" font-size="5.5" fill="#3c5fae" transform="rotate(-90 338.2 365.6)" text-anchor="middle">10<tspan font-size="5" dy="-2.2">7.2</tspan></text>
<text x="345.4" y="475.9" font-size="5.5" fill="#3c5fae" text-anchor="middle">10<tspan font-size="5" dy="-2.2">1</tspan></text>
<text x="361.7" y="475.9" font-size="5.5" fill="#3c5fae" text-anchor="middle">10<tspan font-size="5" dy="-2.2">2</tspan></text>
<text x="378" y="475.9" font-size="5.5" fill="#3c5fae" text-anchor="middle">10<tspan font-size="5" dy="-2.2">3</tspan></text>
<text x="394.3" y="475.9" font-size="5.5" fill="#3c5fae" text-anchor="middle">10<tspan font-size="5" dy="-2.2">4</tspan></text>
<text x="410.6" y="475.9" font-size="5.5" fill="#3c5fae" text-anchor="middle">10<tspan font-size="5" dy="-2.2">5</tspan></text>
<text x="426.9" y="475.9" font-size="5.5" fill="#3c5fae" text-anchor="middle">10<tspan font-size="5" dy="-2.2">6</tspan></text>
<text x="446.4" y="475.9" font-size="5.5" fill="#3c5fae" text-anchor="middle">10<tspan font-size="5" dy="-2.2">7.2</tspan></text>
<text x="330.1" y="427.8" font-size="5.7" text-anchor="middle" fill="#222" transform="rotate(-90 330.1 427.8)">FL2-A</text>
<text x="395.1" y="483.2" font-size="5.7" text-anchor="middle" fill="#222">FL4-A</text>
<text x="344.4" y="363.8" font-size="7" fill="#222">Gate: P1</text>
<g clip-path="url(#c6)" filter="url(#bl)">
<path d="M386.4 431.8C387.3 430.2 388.8 428.6 390.5 427.6C392.2 426.6 394.7 425.8 396.6 425.6C398.5 425.3 400.5 425.6 401.9 426.1C403.3 426.6 404.6 427.1 405 428.7C405.4 430.4 404.8 433.7 404.5 435.9C404.2 438.1 403.9 440.4 403 442.1C402 443.8 400.5 445.5 398.7 446.2C397 446.9 394.5 446.9 392.6 446.2C390.7 445.5 388.5 443.6 387.3 442.1C386.1 440.6 385.5 438.7 385.3 437C385.2 435.3 385.6 433.3 386.4 431.8Z" fill="#0d0d0d"/>
<path d="M415.1 399C415.9 398.1 418.4 398 420.1 398C421.9 398 424.9 398.1 425.7 399C426.5 400 426.1 402.7 425.2 403.6C424.3 404.5 421.8 404.6 420.1 404.6C418.5 404.6 415.9 404.5 415.1 403.6C414.3 402.7 414.3 400 415.1 399Z" fill="#2a2a2a"/>
<path d="M399.4 424.8h1M406.3 441.6h1M384.2 438.8h1M387.4 447.3h1M394.1 453.6h1M385.5 433.5h1M399.1 449.9h1M406.5 450h1M404.9 437.9h1M399 451.5h1M385.4 451.6h1M389.2 427.1h1M402.5 419h1M402.5 442.1h1M403.6 449.3h1M399.4 456.3h1M388.3 453h1M390.9 443.7h1M402.9 443.7h1M410.7 440.3h1M388.8 421.8h1M383.3 441.2h1M385 438.8h1M383.6 437.2h1M402.6 448.6h1M380.5 441.1h1M395.7 447.7h1M395 448.3h1M385.8 417.7h1M389.3 443.3h1M400.4 421.1h1M407.9 444.7h1M404.5 449.8h1M385.1 451.6h1M402 459.7h1M398.5 424.5h1M401.3 445.1h1M402 449.9h1M403.9 448.5h1M381.2 439.7h1M388.3 427.7h1M405.2 452.7h1M404.4 447h1M409 432.5h1M391.6 424h1M406.9 457.1h1M394.1 451.7h1M407.6 447.8h1M403.2 438.9h1M407.1 449.7h1M390.3 429.7h1M407.9 441.3h1M406.3 437.5h1M403.6 445.5h1M404.4 443.1h1M399.3 445.4h1M401.3 449.2h1M397.5 450.1h1M399.1 446.1h1M396.5 450.2h1M398.3 446.6h1M390.3 443.9h1M376.3 451.8h1M386 432.7h1M393.8 426.7h1M386.4 417.1h1M401 450.4h1M407.5 445.4h1M404.3 449.9h1M401.4 445.1h1M404.6 443.3h1M381.3 427.9h1M393.8 447.7h1M393.6 421.9h1M401 451.1h1M406.2 434.8h1M390.8 425.6h1M403.7 429.6h1M398.9 426.3h1M407 441.3h1M391 424.5h1M403.8 447.3h1M402.5 442.3h1M408.7 455.9h1M411.6 446.2h1M403.1 437.9h1M400.9 446.8h1M404 462.1h1M388.8 444.9h1M386.8 432.2h1M405.6 454.8h1M398.6 448.3h1M408.1 437.1h1M391.5 423.5h1M382.6 438.8h1M408.4 433.8h1M386.3 448.7h1M387.2 426.9h1M407.3 433.2h1M378.5 432.2h1M383.8 434.2h1M409.5 441.8h1M384 426.9h1M388.4 425.1h1M403.3 448.1h1M391.2 424.4h1M412.8 455.4h1M393.7 419.9h1M386.3 424.6h1M403.4 448.3h1M383.6 440.3h1M385.6 430.5h1M405.7 439.3h1M410.5 442.8h1M418 449.4h1M394.2 451.9h1M388.5 445.1h1M406.7 451.3h1M386.6 448.2h1M402.2 450.6h1M404.6 442.4h1M414.6 442.8h1M392.4 423.8h1M409.9 441.3h1M381.8 430.7h1M376.8 441.3h1M395.7 426.6h1M397.4 446.4h1M394.4 425.7h1M394.6 427.5h1M408.1 451.2h1M402.4 458.2h1M397.2 447.5h1M387.4 441.7h1M388.8 429.5h1M394.7 450.7h1M403.9 439.3h1M387.6 424.4h1M395.8 445.7h1M404.8 440.8h1M394.1 450.7h1M391.6 449.3h1M401.7 446.3h1M395.3 446.1h1M388.7 444.6h1M384.5 436.7h1M381.6 433.9h1M403 452.9h1M387 423.8h1M401.1 446.1h1M392.5 446h1M392.6 427.3h1M397 447.1h1M386.5 432h1M387.9 430.9h1M401.4 457.8h1M388.5 443.9h1M403.3 449.1h1M388.8 447.5h1M385.2 449.6h1M387.9 443.1h1M392.7 448.9h1M386.5 430.9h1M369.3 442.1h1M410.6 443.9h1M389.4 428.3h1M405.3 421.1h1M385.8 450.7h1M390.1 447.7h1M389.2 430.6h1M408.6 439.3h1M394.8 453.4h1M385 452h1M402.1 455.2h1M390.3 429.1h1M379.5 437.1h1M403.2 439.5h1M391.7 444.4h1M387.8 447.4h1M400.7 454.7h1M401.8 462.5h1M380.3 431.9h1M391.3 427.2h1M411.4 445.7h1M405.1 447.5h1M390.8 448.8h1M384.7 441.5h1M391.8 447.4h1M393.2 449.3h1M397.8 447.9h1M387.4 430.1h1M382.9 442.8h1M405.8 427.8h1M405.8 437.1h1M399.3 452.4h1M394.7 445.7h1M396.7 448.2h1M396.3 426.9h1M391.4 450.4h1M406.5 459.8h1M387.4 430h1M403.9 445.2h1M397.4 446.4h1M409.1 439h1M402.7 442.8h1M390.6 462.4h1M389.9 428.7h1M405.2 440.9h1M414.2 453.6h1M402.4 442h1M389.2 444.7h1M388.2 423.5h1M398.9 446.9h1M393.2 452.7h1M405.7 451.7h1M402.5 442.7h1M388.8 443h1M397.1 458.6h1M387.1 432.7h1M396.2 456.2h1M409.6 453.3h1M388.4 441.9h1M402.5 447h1M391.1 448h1M409.4 450.3h1M398.9 452h1M394.4 424.1h1M406 441.9h1M410.6 443.4h1M392.1 425.7h1M406.2 442.7h1M384.7 413.9h1M383.8 450h1M397.1 456.7h1M388.1 426.2h1M405.5 451.5h1M386.5 444.9h1M401.6 442.5h1M395.5 450.9h1M386.7 457.3h1M387.7 444h1M388.1 458.6h1M398.8 450.4h1M396.8 449.3h1M403.9 427.7h1M409.9 451.4h1M406 425.3h1M398 451.3h1M402.5 441.9h1M388.5 423.5h1M410.5 436.6h1M405.5 439.2h1M381.6 427.7h1M388.3 425.9h1M407.2 441.3h1M380.8 423.9h1M404.5 450h1M397.9 446.9h1M390.5 423.7h1M392.8 446.6h1M394.2 452.2h1M396 445.5h1M408.7 440.6h1M405.2 453.3h1M399.1 444.9h1M398.6 456.5h1M402.7 438.9h1M388.4 427.6h1M383.6 440.5h1M391.3 450.5h1M403.9 430.8h1M385.4 414.7h1M407.6 444.8h1M408.2 455.9h1M402 440.9h1M407.8 437.7h1M398.4 444.7h1M396 463.6h1M405.2 430h1M386.8 450.2h1M390.6 448.9h1M392.4 425.8h1M397.5 426h1M408.2 432.2h1M384.7 426.3h1M404.5 443.9h1M403.4 445.9h1M404 445h1M393.9 447.5h1M396.4 421.2h1M387.2 431h1M384.6 445.3h1M396.3 448h1M389.7 445.3h1M387.8 447.2h1M389.2 421h1M402.2 441.6h1M390.9 427.9h1M398.4 448.8h1M409.3 442.1h1M389.1 441.6h1M401.7 449.7h1M401.1 447.9h1M405 452.1h1M397.8 453.2h1M396.9 450h1M399.9 454.9h1M402.9 451.9h1M399 464h1M392 463.3h1M387.8 450.9h1M387.7 453.4h1M385.7 445.1h1M385.1 453.6h1M392.7 453h1M387.1 445.2h1M390.2 456.1h1M392.2 449.9h1M395.9 460.3h1M399.3 457.4h1M389.5 455.6h1M388.7 455.6h1M388 457h1M394.2 457.2h1M390.8 453.8h1M392.2 461.5h1M392 452.1h1M381.3 443.1h1M395 462.9h1M390.9 461.5h1M407.4 445.3h1M397.3 449.2h1M396.4 450.7h1M397.9 444.9h1M399.8 452.2h1M399.4 448.8h1M404.9 460.3h1M398.8 460.6h1M392 444.9h1M387.9 441.1h1M394.2 451.4h1M383.7 447.3h1M396.7 447h1M386.7 450.9h1M395.3 451.4h1M393.9 459.2h1M402.2 454h1M391.8 450h1M383.6 444.1h1M391.7 454.1h1M387.6 455.7h1M398.4 461h1M394.4 452.7h1M393.8 453.2h1M391.5 451.5h1M398.8 457.5h1M394 451.8h1M395.9 447.3h1M389 450.3h1M392.5 453.4h1M398.7 455h1M401.9 453h1M400.7 457.4h1M391.3 452.8h1M401.1 452.1h1M402.9 444.2h1M393.1 460h1M398 463.1h1M401.6 448.1h1M390.1 462h1M392.4 455.6h1M391.4 455.2h1M395.8 452.9h1M397.6 447.7h1M404.5 454.7h1M393.1 455.6h1M391.8 447.4h1M390.6 455h1M400 464.3h1M396.5 454.7h1M387.3 455.1h1M387.4 464.6h1M399.1 447.3h1M403.8 443.3h1M396.3 457.5h1M399.2 451.3h1M402.9 449.8h1M390.6 445.9h1M393.1 451.1h1M397.4 454.4h1M395.1 449.7h1M399.2 453.6h1M394 464.5h1M394.9 452.9h1M389.9 459h1M395.8 451.2h1M397.7 452.8h1M396.7 462.8h1M392 455.4h1M391.6 445.1h1M400.4 454.3h1M390.8 451.7h1M394.4 466.1h1M396.6 454.1h1M393.2 453.9h1M397.6 458.3h1M384.2 452.3h1M395.4 457.3h1M390 450.6h1M396.7 454.7h1M391.4 445.1h1M395.7 456.9h1M398.7 457h1M401 446.8h1M398.7 444.2h1M394.1 453.5h1M396.1 454.5h1M399.7 450.7h1M396.6 448.4h1M399.2 459.9h1M400 463.8h1M390 452.9h1M390.8 460.9h1M393.1 457.8h1M399.1 446.7h1M402.2 459.3h1M391.5 454.9h1M395.4 463.8h1M397.1 461.5h1M397.3 458.6h1M391.9 451h1M400.1 454.4h1M393.7 451.7h1M390.7 455h1M394.3 451h1M396 454.3h1M397.2 444.9h1M399.1 452.2h1M402.3 453.4h1M396 456.7h1M401.3 458.2h1M396.6 450.3h1M389 465.1h1M395 462h1M400 453.4h1M391.3 454.4h1M394.2 454.4h1M396.6 450.9h1M391.8 454.8h1M390.1 453h1M398.9 445.3h1M400.1 448.3h1M404 455.1h1M395.3 464.3h1M393.3 449.2h1M402.4 450.8h1M390.9 453.5h1M395.5 455.4h1M398.7 454h1M396.6 466.1h1M392 453.4h1M410.5 461.2h1M399.1 459.2h1M392.4 448.6h1M398.3 459.6h1M389.4 454.1h1M396.4 456.1h1M391.7 455.5h1M393.3 445.7h1M390.1 457.6h1M400.5 450.8h1M390.7 455.1h1M390.7 452.9h1M402 452.6h1M386.8 453.6h1M395.2 448.2h1M391.4 459.9h1M394.2 451.5h1M394.3 447.4h1M389.5 461.6h1M395 453.7h1M391.2 452.4h1M398.5 451h1M397.2 447.9h1M404.6 446.6h1M387.6 443.4h1M395.2 455.9h1M397.6 446.4h1M394.4 452.5h1M398.1 463h1M427.1 407.6h1M431.2 399.1h1M427.5 405.4h1M415.2 403.6h1M426.6 396.9h1M424.2 393.7h1M425.8 401.3h1M416.7 406.8h1M407.8 406.1h1M409.6 404.6h1M395.7 400.4h1M403.6 406h1M423.3 406h1M410.9 403.7h1M409.3 403.3h1M408.9 404.9h1M429.2 399.1h1M429.3 398.2h1M411.6 403.6h1M413.6 398.2h1M424.8 401.2h1M435.3 401.2h1M430.7 400.5h1M411 406.6h1M424.3 403.7h1M412.1 400.7h1M404.8 396.6h1M440.8 400.4h1M411.9 406.7h1M414.7 404.4h1M426.3 402.2h1M413.9 403.5h1M418 409.9h1M426.4 393.6h1M412.3 402.7h1M412.6 401.8h1M415.8 405.7h1M415 397.4h1M416.5 409.4h1M427.6 403.6h1M432.1 414.6h1M422.8 406.9h1M428.3 404.2h1M415.8 405.2h1M411.6 403.6h1M411.4 396.6h1M416.9 406h1M400.2 404.5h1M423.1 403.6h1M426.9 408.5h1M412.5 408.9h1M430.1 396.1h1M410.7 404.3h1M414.9 406.5h1M433.7 399.1h1M421.7 404.5h1M415.3 400.9h1M426 402.7h1M411.3 404.3h1M407.3 400.5h1M429.3 399.3h1M413.2 399.6h1M422.7 404.2h1M422.8 406.4h1M411.8 403.4h1M402.4 404.5h1M396.8 404.3h1M412.1 402.8h1M415.5 400.1h1M425.3 405.7h1M415.8 399.8h1M415.9 404.6h1M412.7 400.1h1M431.9 399.5h1M407.4 398.5h1M427.6 400.7h1M413.9 402.5h1M410.5 403.3h1M441.3 401.7h1M416.7 409.7h1M416.3 411.4h1M412 400.5h1M411.1 406.1h1M417.1 397.2h1M424.5 405h1M414.9 401h1M414.3 411.2h1M424.7 403.6h1M412.5 407h1M415.1 409.4h1M408.4 400.9h1M407.7 405.2h1M416.3 405.8h1M408.9 396.3h1M411.6 405.3h1M400.7 403h1M419 398.5h1M422.7 403.9h1M424.9 402.9h1M412.7 407.7h1M422.3 406.7h1M401.2 399.8h1M411.8 401.2h1M406.6 402.3h1M426.9 402.5h1M414.6 410.9h1M427.4 399.2h1M412.1 403.2h1M427.8 398.6h1M401.6 398.3h1M406.5 400.4h1M416.5 407.5h1M408.8 398.1h1M429.7 403.9h1M412.4 407.8h1M417.8 405.3h1M416.2 407.4h1M414.2 405.9h1M414.7 403.9h1M420.6 405.2h1M420.8 409.1h1M420.4 407.6h1M411.9 409.7h1M404.7 407.3h1M413.7 402.4h1M411.9 406h1M394.3 401.3h1M412.1 402.6h1M418.2 406.2h1M427.9 406.9h1M427.3 393h1M422.1 396.7h1M428.1 404.9h1M413 405.9h1M413.8 401h1M420.7 405.5h1M424.7 405.9h1M405.4 404.9h1M418.4 405.8h1M401.9 408.9h1M414 404.2h1M418.6 397.8h1M429.7 406.6h1M421.1 407.2h1M426.9 403.5h1M420.9 405.2h1M403.8 400.8h1M426.4 401.2h1M430.4 403h1M419 394.8h1M424.3 398.1h1M420.6 404.6h1M427.9 400.3h1M412.7 407.7h1M410 404.5h1M417.6 398h1M401.7 399.4h1M418.8 405.2h1M412.7 404.8h1M411.3 407.4h1M405.1 409h1M417.9 404.5h1M428.8 401.6h1M426.3 398.5h1M427.7 403.7h1M408.7 404.9h1M427.3 398.5h1M411.8 400.7h1M412.5 402.4h1M426.9 401h1M411.2 405.2h1M437.9 402.1h1M409.2 408h1M409.5 401.4h1M425.2 400.5h1M414.2 403.6h1M404.9 400.6h1M418.6 397.5h1M411.2 404.9h1M426.1 392.6h1M416.7 405.4h1M425.5 404.3h1M408.3 401.2h1M415.2 404h1M399.1 407h1M431.2 398.3h1M422.2 394.3h1M418 398.9h1M399.4 405.9h1M410.8 404.9h1M418.2 409.1h1M410 407.4h1M413.2 401.3h1M413.2 403h1M420 410.5h1M430.1 398.6h1M418.2 395.6h1M392.4 401.2h1M412.5 397.7h1M429 397.5h1M424.7 406.8h1M423.3 410.6h1M415.4 398.6h1M415.3 405.1h1M416.9 408.2h1M414.7 408.1h1M426.5 403.3h1M412.2 401.1h1M399.5 405.7h1M411.1 406.6h1M416.4 399h1M411.8 405.8h1M404.1 407.2h1M414.3 402.4h1M411.7 397.7h1M426.1 401h1M408.4 397.4h1M419.6 396h1M429.7 398.6h1M422.8 395.5h1M408.4 405.4h1M420.3 407.5h1M415.6 404h1M415.3 397.8h1M401.3 410h1M427.3 394.3h1M415.6 408.2h1M417.8 404.2h1M401.9 405.7h1M406.8 406.6h1M427.9 401.4h1M422.8 406h1M441.6 399.2h1M414.4 401.4h1M414.5 403.3h1M416.5 406.1h1M426.2 405.1h1M411.6 399.1h1M429.5 396.4h1M410.6 402.4h1M430.5 399.3h1M407.2 405.6h1M421.4 405.3h1M429.6 402.3h1M428.6 398.7h1M431.1 399.2h1M425.7 398.5h1M426 399.1h1M407.2 404.2h1M409.7 402.5h1M417.2 406h1M421.5 405.3h1M425.3 398.7h1M418.9 406.9h1M417.3 405.2h1M410.5 399.8h1M417.9 398.3h1M410.7 401.1h1M413 406.9h1M427.1 399.6h1M434.4 406.7h1M423.1 403.8h1M408.1 402.4h1M438.2 399.1h1M392.9 411h1M404.1 406.2h1M433.5 404.1h1M423.9 399.2h1M411.5 399h1M434.2 397.2h1M421.8 404.2h1M425.6 398h1M426 404.9h1M423.1 405.3h1M407.3 398h1M440.3 400.2h1M415.2 405.5h1M438.4 401.2h1M415.2 396.4h1M420 407.3h1M409.2 400.4h1M418.2 406.6h1M422.7 407.4h1M404.3 406.3h1M410.3 399h1M442.1 405.2h1M412.3 412.3h1M401.7 402.7h1M423.2 394.4h1M427.5 397.2h1M415.9 409.3h1M415.3 404.4h1M408.5 401.6h1M425.1 396.2h1M410.3 402.1h1M411.6 406h1M426.2 403.2h1M405.5 411.2h1M400.2 399.5h1M401.6 404.2h1M406.5 409.8h1M404.6 404.9h1M401.8 413.4h1M397.8 416.3h1M394.4 414.6h1M403.7 413.4h1M410 409.9h1M403.5 411.4h1M407.3 402.7h1M400.2 414.4h1M401.8 407.5h1M399.5 405.3h1M406.1 407.2h1M395 410.1h1M393.1 413h1M404.6 416.3h1M398.4 410.5h1M403.1 406.8h1M407.5 409.2h1M398.5 403.8h1M396.1 411.6h1M391.8 414.6h1M391.3 408.6h1M403.6 403.4h1M399.3 410.7h1M398.5 409.4h1M409.6 407.9h1M397.3 399.8h1M407 411h1M397.8 405.4h1M396.7 413.7h1M405.5 410.7h1M401.7 399.9h1M398.3 403.3h1M400.3 407.4h1M400.3 404.4h1M406.7 412.9h1M404.2 402.7h1M398 409.5h1M399.2 408.9h1M401.6 409.4h1M395.9 412.6h1M395.9 409.9h1M404.3 408h1M408.7 410h1M408 407.7h1M392.6 415.2h1M398.6 408.6h1M411.8 408.3h1M401.9 405.1h1M403.1 407.3h1M398.3 416.2h1M403.9 405.3h1M408.3 403.8h1M403.4 407.5h1M399.7 408.5h1M401.4 411.4h1M403.1 405.4h1M405.2 412.1h1M404.4 408.2h1M395.6 411.7h1M388.8 415.6h1M400.2 407.9h1M402.1 412.1h1M398.5 416.8h1M390.3 411.5h1M397.9 405.8h1M396.2 409.2h1M399 417.7h1M408 410.4h1M393.6 407.1h1M400.1 410.5h1M401 410h1M398.7 406.4h1M399.1 411.9h1M408.7 405.7h1M398.4 405.5h1M402.5 408.6h1M391.7 410.4h1M409.3 405.8h1M405.2 406.9h1M398.6 410.6h1M407.8 407.9h1M393.8 411.9h1M398.8 413.7h1M395.7 409.5h1M392.8 413.6h1M402.4 402.8h1M401.7 405.6h1M395 412.3h1M391.8 411.1h1M402.3 409.8h1M399.4 409.9h1M403.4 412h1M396.1 416.5h1M388.8 412.4h1M403.8 404.2h1M401.5 411.7h1M402.4 408.4h1M403.3 404.4h1M395.3 410h1M396.3 406.5h1M403.7 408.2h1M397.8 411.5h1M401 405h1M407.2 402.6h1M404.4 403h1M402.6 406h1M403.5 407h1M401.7 409.7h1M400.1 406.3h1M400.6 412.1h1M400 413.6h1M407.7 410.2h1M406.5 410.2h1M400.8 408.8h1M410.2 407.5h1M398 404.5h1M402.8 403h1M403.8 405.1h1M401.4 403.5h1M402 409.7h1M395.1 408.7h1M399.2 402.7h1M402.2 405.9h1M396 414.2h1M400.1 410.9h1M399.1 406.3h1M399.1 403.6h1M395.9 412.8h1M399 413.7h1M401.7 408.5h1M403 406.7h1M411.7 405.3h1M398.3 411.5h1M405.4 413.6h1M405.9 407.1h1M398.9 406.2h1M395.4 413.2h1M399.4 412.4h1M398.1 410.1h1M394.5 406h1M404.1 402.8h1M412.1 401.8h1M406 409.9h1M404.4 410.1h1M397.3 408.7h1M395.7 409.3h1M406.5 405.9h1M402.7 412.7h1M403.9 405.1h1M404.1 406.1h1M404.4 402.6h1M402.9 405.1h1M397.8 410.5h1M410.6 402.3h1M401.3 415.1h1M408 403.1h1M406.3 402.6h1M406.5 410.3h1M393.3 416.1h1M399.3 412.5h1M395.3 408.3h1M393.1 411.3h1M407.4 408.3h1M403.7 410.2h1M399.7 409.6h1M422.3 435.3h1M418.5 411.5h1M408.3 430.9h1M413.2 422.3h1M418.3 423.8h1M420.1 435.4h1M414.2 436.8h1M412.8 418.3h1M407 419.3h1M414.2 441.6h1M413.4 437.1h1M412.8 420.2h1M412.7 426.7h1M413.4 420.1h1M414.5 424.2h1M399.6 417.8h1M417.5 423.8h1M413.8 427.3h1M417.4 427.2h1M410.6 423.2h1M405.7 420.1h1M414.7 434.9h1M417.4 427.2h1M429.1 436h1M409.6 418.2h1M416.9 425.5h1M410 430h1M422.3 433.1h1M422.8 437.2h1M409.4 438.1h1M416.6 429.3h1M409.7 421.8h1M413.7 433.1h1M415 435.2h1M417.7 427.2h1M421 423.5h1M412.1 435.4h1M406.1 413.8h1M422.8 419.3h1M417 421.6h1M408 423.8h1M413.8 418.4h1M409.3 433.9h1M418.3 430.2h1M417.3 428.3h1M418.5 432.4h1M408.3 446h1M417 426.3h1M414.7 433.8h1M410.4 418.3h1M405.3 429.6h1M406.5 431.6h1M402.8 427.5h1M416.1 425.7h1M417 425.9h1M408.7 429.5h1M412.5 419h1M416.8 416.7h1M416.6 428.8h1M409.2 435.7h1M411 417h1M409.1 440h1M409.5 414.8h1M411.6 427.2h1M414.4 426.3h1M411.2 436.8h1M414.2 428h1M423.3 430.5h1M413.7 412.2h1M410.8 431.4h1M422.5 439.9h1M420.7 417.9h1M412.2 426.2h1M410.5 420.4h1M413.9 426.1h1M408.3 421.3h1M415.4 434.4h1M416 427.9h1M414.8 427.1h1M416.7 423.8h1M419.5 419.6h1M415.5 436.4h1M420.6 433.8h1M411.7 433.4h1M413.6 424.1h1M413.7 434.8h1M419.2 433.9h1M410.5 428.5h1M405.3 435.5h1M412.4 421.1h1M407.6 427.5h1M414.2 426.9h1M412 422.8h1M407.1 421.9h1M413.8 431.8h1M411.7 421.2h1M420.9 437.7h1M409.2 419.9h1M422.3 434.6h1M415.1 418.3h1M415.9 442.8h1M407.9 434.2h1M416.1 449.9h1M415.5 426.6h1M414.7 432.9h1M407.4 436.3h1M414.2 435.8h1M413.5 409.4h1M408.6 421.7h1M406.3 421.8h1M407.9 425.8h1M413.7 427.6h1M409 430.1h1M419 419.6h1M413.4 418h1M409.7 430.8h1M413.4 413.9h1M413.9 419.6h1M418 429.3h1M419.4 435.2h1M410.8 432.2h1M412.1 417h1M415.1 424.9h1M414.5 416.5h1M416.1 411.9h1M416.4 432.8h1M420 418.1h1M415.4 435.3h1M416.4 423.2h1M406.8 429.3h1M414.3 433.5h1M415.5 426h1M402.6 425.8h1M421 415.5h1M409.2 428.7h1M407.4 412.5h1M415.3 427h1M406.4 413.5h1M412.3 437.2h1M418.6 426.2h1M421.7 426.2h1M408.8 439.5h1M415.2 425.2h1M407.4 434.3h1M412.8 429.7h1M416.2 424.3h1M411.3 421.9h1M418.3 422.9h1M415.8 441.9h1M412 441.7h1M416 428.3h1M411.4 446.2h1M416.6 419.6h1M413.3 429.8h1M417.7 435.3h1M416 417h1M413.3 423.5h1M410.6 418.4h1M414.9 425h1M425.9 431h1M408.3 430.3h1M416.1 428.4h1M407.8 420.3h1M413.6 435.7h1M416.4 428.1h1M425.7 415.9h1M419.5 425.2h1M413.2 425.6h1M418.6 423.9h1M407.5 442.3h1M415.8 423h1M411.8 423.4h1M414.3 436.5h1M415.4 431.9h1M407.6 422.9h1M422.8 424.3h1M420.6 444.3h1M419.6 434.3h1M420.9 422.4h1M418.8 427.6h1M401.3 422.3h1M418.5 419h1M414.2 438h1M411.6 425.2h1M411.6 422.6h1M406.9 429.9h1M403.6 420h1M410.5 418h1M415.4 425.8h1M412.5 433.6h1M408.8 434h1M415.7 426.2h1M416.7 444.7h1M416.8 431h1M412.7 434.5h1M407 429.1h1M414.8 419.4h1M418.5 450h1M418.6 419.6h1M412.7 429h1M413.5 442.2h1M417.5 445.6h1M417.4 431h1M415.3 422.5h1M410.5 444.2h1M417.4 443.7h1M415.6 421.3h1M408 409.5h1M420.9 428h1M415.3 417.5h1M413.6 425.1h1M408.4 439.7h1M406 409.7h1M413.8 424.2h1M409.7 430.2h1M407 424h1M417.2 433.4h1M412.2 427.6h1M415.7 423h1M406 427.3h1M416.1 442.5h1M410.3 427.5h1M413.7 432.1h1M419.3 438.5h1M407.6 429.8h1M407.5 421.3h1M404.2 423.1h1M409.1 418h1M409.5 431.2h1M415.9 436.8h1M404.6 422.5h1M418.7 436h1M417.5 426.8h1M411.5 421.7h1M408 425.2h1M416.2 418.7h1M407.1 423.7h1M408.9 421.3h1M413.1 416.2h1M417.9 432.2h1M421.1 441.4h1M413.4 430.3h1M420.3 442.9h1M412.2 406h1M420.4 429.1h1M408.8 427h1M417.7 425.5h1M418.2 440.7h1M408.3 414.5h1M402.4 428.2h1M420.3 427.4h1M417.4 441.8h1M421.2 433.3h1M419.3 428.7h1M403.8 425.9h1M419.3 435.7h1" stroke="#111" stroke-width="1"/>
</g>
<defs><clipPath id="c6"><rect x="344.4" y="365.1" width="101" height="101.3"/></clipPath></defs>
<path d="M403.5 365.1V466.4M344.4 418.3H445.4" stroke="#d65a5a" stroke-width="0.9"/>
<path d="M344.4 365.1H445.4V466.4H344.4" fill="none" stroke="#6b88c8" stroke-width="0.9"/>
<path d="M344.4 364.6V466.9" fill="none" stroke="#3f62b0" stroke-width="1.1"/>
<path d="M340.9 365.1H445.4" fill="none" stroke="#7d95cc" stroke-width="1.3"/>
<text x="345.2" y="372.1" font-size="7.5" fill="#d0413f">Q3-UL</text>
<text x="345.2" y="378.7" font-size="7.5" fill="#d0413f">3.3%</text>
<text x="423.1" y="372.1" font-size="7.5" fill="#d0413f">Q3-UR</text>
<text x="423.1" y="378.7" font-size="7.5" fill="#d0413f">20.5%</text>
<text x="345.2" y="459.2" font-size="7.5" fill="#d0413f">Q3-LL</text>
<text x="345.2" y="465.6" font-size="7.5" fill="#d0413f">64.6%</text>
<text x="423.1" y="459.2" font-size="7.5" fill="#d0413f">Q3-LR</text>
<text x="423.1" y="465.6" font-size="7.5" fill="#d0413f">11.6%</text>
<path d="M61.4 631.5h-3.2M61.4 628.7h-3.2M61.4 626.7h-3.2M61.4 625.1h-3.2M61.4 623.8h-3.2M61.4 622.7h-3.2M61.4 621.8h-3.2M61.4 621h-3.2M61.4 615.4h-3.2M61.4 612.5h-3.2M61.4 610.5h-3.2M61.4 608.9h-3.2M61.4 607.6h-3.2M61.4 606.6h-3.2M61.4 605.6h-3.2M61.4 604.8h-3.2M61.4 599.2h-3.2M61.4 596.3h-3.2M61.4 594.3h-3.2M61.4 592.7h-3.2M61.4 591.5h-3.2M61.4 590.4h-3.2M61.4 589.4h-3.2M61.4 588.6h-3.2M61.4 583h-3.2M61.4 580.1h-3.2M61.4 578.1h-3.2M61.4 576.6h-3.2M61.4 575.3h-3.2M61.4 574.2h-3.2M61.4 573.3h-3.2M61.4 572.4h-3.2M61.4 566.8h-3.2M61.4 564h-3.2M61.4 562h-3.2M61.4 560.4h-3.2M61.4 559.1h-3.2M61.4 558h-3.2M61.4 557.1h-3.2M61.4 556.3h-3.2M61.4 550.6h-3.2M61.4 547.8h-3.2M61.4 545.8h-3.2M61.4 544.2h-3.2M61.4 542.9h-3.2M61.4 541.8h-3.2M61.4 540.9h-3.2M61.4 540.1h-3.2M66.3 636.4v3.2M69.2 636.4v3.2M71.2 636.4v3.2M72.8 636.4v3.2M74.1 636.4v3.2M75.2 636.4v3.2M76.1 636.4v3.2M76.9 636.4v3.2M82.6 636.4v3.2M85.5 636.4v3.2M87.5 636.4v3.2M89.1 636.4v3.2M90.4 636.4v3.2M91.5 636.4v3.2M92.4 636.4v3.2M93.2 636.4v3.2M98.9 636.4v3.2M101.8 636.4v3.2M103.8 636.4v3.2M105.4 636.4v3.2M106.7 636.4v3.2M107.7 636.4v3.2M108.7 636.4v3.2M109.5 636.4v3.2M115.2 636.4v3.2M118 636.4v3.2M120.1 636.4v3.2M121.7 636.4v3.2M122.9 636.4v3.2M124 636.4v3.2M125 636.4v3.2M125.8 636.4v3.2M131.5 636.4v3.2M134.3 636.4v3.2M136.4 636.4v3.2M137.9 636.4v3.2M139.2 636.4v3.2M140.3 636.4v3.2M141.3 636.4v3.2M142.1 636.4v3.2M147.8 636.4v3.2M150.6 636.4v3.2M152.7 636.4v3.2M154.2 636.4v3.2M155.5 636.4v3.2M156.6 636.4v3.2M157.6 636.4v3.2M158.4 636.4v3.2" stroke="#5d7cc4" stroke-width="1"/>
<path d="M61.4 636.4h-3.2M61.4 620.2h-3.2M61.4 604h-3.2M61.4 587.9h-3.2M61.4 571.7h-3.2M61.4 555.5h-3.2M61.4 539.3h-3.2M61.4 636.4v3.2M77.7 636.4v3.2M94 636.4v3.2M110.3 636.4v3.2M126.6 636.4v3.2M142.9 636.4v3.2M159.1 636.4v3.2" stroke="#1f3f95" stroke-width="1.4"/>
<text x="55.2" y="637.4" font-size="5.5" fill="#3c5fae" transform="rotate(-90 55.2 637.4)" text-anchor="middle">10<tspan font-size="5" dy="-2.2">1</tspan></text>
<text x="55.2" y="621.2" font-size="5.5" fill="#3c5fae" transform="rotate(-90 55.2 621.2)" text-anchor="middle">10<tspan font-size="5" dy="-2.2">2</tspan></text>
<text x="55.2" y="605" font-size="5.5" fill="#3c5fae" transform="rotate(-90 55.2 605)" text-anchor="middle">10<tspan font-size="5" dy="-2.2">3</tspan></text>
<text x="55.2" y="588.9" font-size="5.5" fill="#3c5fae" transform="rotate(-90 55.2 588.9)" text-anchor="middle">10<tspan font-size="5" dy="-2.2">4</tspan></text>
<text x="55.2" y="572.7" font-size="5.5" fill="#3c5fae" transform="rotate(-90 55.2 572.7)" text-anchor="middle">10<tspan font-size="5" dy="-2.2">5</tspan></text>
<text x="55.2" y="556.5" font-size="5.5" fill="#3c5fae" transform="rotate(-90 55.2 556.5)" text-anchor="middle">10<tspan font-size="5" dy="-2.2">6</tspan></text>
<text x="55.2" y="536.6" font-size="5.5" fill="#3c5fae" transform="rotate(-90 55.2 536.6)" text-anchor="middle">10<tspan font-size="5" dy="-2.2">7.2</tspan></text>
<text x="62.4" y="645.9" font-size="5.5" fill="#3c5fae" text-anchor="middle">10<tspan font-size="5" dy="-2.2">1</tspan></text>
<text x="78.7" y="645.9" font-size="5.5" fill="#3c5fae" text-anchor="middle">10<tspan font-size="5" dy="-2.2">2</tspan></text>
<text x="95" y="645.9" font-size="5.5" fill="#3c5fae" text-anchor="middle">10<tspan font-size="5" dy="-2.2">3</tspan></text>
<text x="111.3" y="645.9" font-size="5.5" fill="#3c5fae" text-anchor="middle">10<tspan font-size="5" dy="-2.2">4</tspan></text>
<text x="127.6" y="645.9" font-size="5.5" fill="#3c5fae" text-anchor="middle">10<tspan font-size="5" dy="-2.2">5</tspan></text>
<text x="143.9" y="645.9" font-size="5.5" fill="#3c5fae" text-anchor="middle">10<tspan font-size="5" dy="-2.2">6</tspan></text>
<text x="163.4" y="645.9" font-size="5.5" fill="#3c5fae" text-anchor="middle">10<tspan font-size="5" dy="-2.2">7.2</tspan></text>
<text x="47.1" y="596.2" font-size="5.7" text-anchor="middle" fill="#222" transform="rotate(-90 47.1 596.2)">FL2-A</text>
<text x="112.1" y="653.2" font-size="5.7" text-anchor="middle" fill="#222">FL4-A</text>
<text x="61.4" y="534.8" font-size="7" fill="#222">Gate: P1</text>
<text x="105.7" y="525.6" font-size="15" text-anchor="middle" fill="#1a1a1a">WT</text>
<g clip-path="url(#c7)" filter="url(#bl)">
<path d="M91.9 599C92.8 597.8 95.1 597 97.2 596.3C99.2 595.5 102.1 594.9 104.3 594.5C106.5 594 108.6 593.4 110.5 593.6C112.4 593.7 114.7 594.3 115.8 595.4C117 596.4 117.6 598.2 117.6 599.8C117.6 601.4 116.7 603.7 115.8 605.2C115 606.7 113.8 607.7 112.3 608.7C110.8 609.8 108.9 611.1 107 611.4C105 611.7 102.6 611.1 100.7 610.5C98.8 609.9 96.9 609 95.4 607.8C94 606.6 92.5 604.9 91.9 603.4C91.3 601.9 91 600.2 91.9 599Z" fill="#050505"/>
<path d="M116.1 607h1M115.3 605.8h1M88 608.1h1M87.7 589.9h1M98.2 614.8h1M110.5 612.1h1M100.3 596.3h1M99.6 611.5h1M109.1 593.2h1M105.3 612.5h1M84.5 599.6h1M90 608.1h1M111.6 610.4h1M119.4 606.8h1M106 594.3h1M100.3 594.1h1M117.8 590h1M90.1 603.9h1M119.4 608.4h1M85.6 584.4h1M93.5 609.3h1M116 605.2h1M120.9 608.7h1M89 611.2h1M114.5 607.7h1M84.9 597.5h1M113.3 591.2h1M103 610.3h1M91.6 613.6h1M106 611.4h1M115.4 604.2h1M95.9 609.3h1M119.6 601.2h1M90.9 601.4h1M119 597.1h1M117.6 595.3h1M96.9 607.2h1M116.2 610.1h1M112.5 607.8h1M125.1 607h1M123.4 586.7h1M93.5 604.2h1M129.4 607.5h1M77.3 598h1M115 595.8h1M104.2 609.9h1M113.5 614.3h1M87.6 599.6h1M115.9 585.3h1M115.8 594h1M111.7 593.4h1M106.6 611.8h1M103.9 613.9h1M115.4 602h1M132.6 597.2h1M89.4 591.7h1M94.5 592.3h1M117.6 609.4h1M119.7 597.8h1M104.8 595.3h1M112.6 614.9h1M95.8 613.6h1M84.9 611.7h1M120 597.2h1M116.3 614.5h1M119.5 603.1h1M97.3 609.9h1M119.2 602.5h1M81.6 599h1M86.1 607.7h1M105.6 612.6h1M104.2 610.5h1M119.9 615.6h1M98 609h1M85.9 594.4h1M85 609.4h1M92.4 602.3h1M122.9 604.9h1M110.2 610.7h1M102.8 594.4h1M99.2 610.4h1M88.2 598h1M115 609.5h1M106.5 595.2h1M89 597.7h1M95.7 597.3h1M89.4 601.4h1M92.9 605h1M81 603.9h1M98.3 589.3h1M82.3 595.6h1M112.7 609.1h1M118.3 608.8h1M109.4 589.1h1M113.9 613.1h1M124.4 592.4h1M109.6 620.6h1M95.5 607.5h1M123.9 603.8h1M110.5 610h1M96.2 596.8h1M131.8 613.1h1M111.3 585.6h1M121.8 607.5h1M85.2 609.2h1M118.2 616.9h1M90.7 597.7h1M100.8 596.2h1M126.2 612h1M92.8 593.1h1M122 611.4h1M123.2 610.2h1M83 596.6h1M103.5 594.4h1M109.1 611h1M85.7 602.4h1M95.4 607.8h1M93.9 584.2h1M94.3 613.6h1M101 593.5h1M119.8 609.3h1M121.5 611.2h1M115.2 596.5h1M101.8 610.6h1M110.9 610.1h1M102.7 620.9h1M117.4 602.7h1M105.7 621.5h1M114.7 604h1M93 603.8h1M108.5 611.4h1M113.5 607.7h1M94.2 598.2h1M104.9 593.1h1M100.4 589h1M102.5 593.2h1M123.3 608.2h1M115.9 597.9h1M103 590.5h1M112.7 610.4h1M85.7 601.6h1M111.2 591.4h1M86.4 594.6h1M98.5 593.1h1M111.2 608.7h1M120 612.5h1M91.6 598.8h1M94.1 595h1M109.8 592.6h1M92.3 602.3h1M103.1 584.2h1M89.6 603.6h1M106.3 593.8h1M97.5 593.3h1M93.6 601.7h1M128.3 602.7h1M116 604.9h1M116.1 587.5h1M110.9 620h1M108.1 612.5h1M112.6 610.5h1M116.8 597h1M107.3 618.3h1M116.6 604.3h1M110.7 608.7h1M97 615h1M121.7 604.6h1M119.1 599.4h1M97.8 607.8h1M118.3 604.2h1M98 608.5h1M120.2 612.3h1M99.6 618.9h1M87.2 614.6h1M118.6 595.8h1M89.6 590.9h1M116.7 600.9h1M103.6 595.6h1M105.1 593.3h1M99.9 613.9h1M110.6 618.4h1M133.1 592.2h1M85.7 595.8h1M94.3 607h1M90.6 602.1h1M96 607.2h1M123.6 600.7h1M120.4 606.6h1M86.9 612.1h1M113.9 591.7h1M89.7 600.8h1M119.9 600.3h1M94.5 593.1h1M92.5 604.8h1M121.9 607.5h1M107.3 619.1h1M94.6 594.4h1M91.6 601h1M101.3 610.4h1M118.9 601.7h1M120.1 601.7h1M89.7 602.4h1M93.4 588.7h1M99.3 609.1h1M109.7 592.7h1M107.9 615.1h1M97.9 619.3h1M106.6 610.6h1M92.3 587.8h1M111 609.3h1M111.1 622.1h1M114.2 606.5h1M121.6 595.8h1M101 579h1M114.2 619h1M103.1 609.6h1M93.2 612.7h1M115.7 606.5h1M89 613.4h1M108.2 609.8h1M89.2 609h1M104.5 588.3h1M118.3 601.7h1M103.6 614.3h1M121.8 604.8h1M117.2 599.2h1M106 611.3h1M129 600.3h1M94.2 606h1M110.2 592.9h1M112.5 593h1M100.8 609h1M110.3 614.7h1M117.4 606h1M91.9 619.8h1M127.1 591h1M114.6 608.7h1M102.1 595.7h1M105.9 610.6h1M93.8 595.4h1M104.6 589.7h1M116.8 616h1M79.8 614.8h1M110.1 594.2h1M86.4 604.1h1M116.9 591.1h1M118 602.7h1M103.7 615.3h1M93.3 597h1M106.8 610h1M104.4 612.7h1M94.7 608h1M112.9 613.1h1M96 618.9h1M99.8 611.3h1M98.3 608.5h1M127.2 587.1h1M126.6 605.4h1M88.2 608.1h1M87.4 610.1h1M117.6 605h1M90.8 590.5h1M116.8 609.3h1M96.6 608.7h1M82 599.6h1M113.9 609.1h1M113.7 586.8h1M130.6 598.4h1M116.4 598.6h1M88.7 609.8h1M106.9 610.4h1M101.4 588.3h1M117.4 606.5h1M94.5 597.4h1M93.1 606.9h1M91.6 607h1M94.6 605.1h1M118.7 605.7h1M106.3 591.3h1M112.2 609.2h1M114 608h1M103 591.1h1M125.8 586.6h1M102.7 590.4h1M114.7 622.5h1M79.6 602.4h1M110.4 588h1M113.4 606.5h1M82.1 601.5h1M117.4 618.1h1M95.7 589.2h1M113.5 614.6h1M114.1 609.6h1M86.5 595.1h1M130 618.5h1M118.1 603.7h1M93.9 611.7h1M86.2 586.6h1M92 597.1h1M96.8 597.8h1M83.4 600.6h1M112.3 607.9h1M107 612.6h1M96.7 597.2h1M120.5 616.7h1M116.7 609.8h1M117 595.3h1M119.3 605h1M98.2 596.8h1M120 600h1M105 618.4h1M116.8 606.5h1M121.2 608.8h1M117.6 604.9h1M109.1 612.7h1M90.4 601.9h1M125 609.1h1M108.1 592.7h1M124.3 605.2h1M104.5 595.5h1M104.3 595.6h1M96.2 612.7h1M98.2 590.1h1M103.4 613.2h1M103.9 586.4h1M106.3 618.6h1M94.3 594.7h1M90.6 585.6h1M85.9 604.5h1M98.4 589.8h1M89.9 606.6h1M108.2 613h1M124.4 611.9h1M123 614.5h1M99.8 593.7h1M99.4 592.1h1M117.2 607.9h1M92.6 612.2h1M113.8 590.6h1M123.4 610.3h1M125.7 596.1h1M115.5 593.6h1M92.3 592.7h1M100.4 609.6h1M101.6 613.9h1M116.5 602.3h1M115.1 605.4h1M88.8 606.9h1M95.8 611.6h1M107 584.2h1M116.6 604.3h1M86.8 602.7h1M109.5 611.1h1M93.9 613.3h1M103.2 619.9h1M101.1 595.2h1M115.9 610.4h1M120.4 610.4h1M99 591.3h1M96.6 606.8h1M89.6 612.2h1M106 611.1h1M88.2 599.8h1M105.1 593.3h1M115.7 615.2h1M96.1 592.9h1M110.1 610.2h1M106.8 594.3h1M112.7 609.4h1M99.2 590h1M120.9 602.7h1M125.6 615.4h1M112.8 608h1M122.7 603.3h1M103.7 595.8h1M109.6 613h1M90.4 609.6h1M100.7 595.3h1M97.2 597h1M113.5 611.3h1M91.1 608.8h1M89.8 597h1M101.2 588.9h1M107.2 592.7h1M114 595.5h1M97.8 596.8h1M99.4 612h1M113.4 608.1h1M108.1 592.7h1M95 606.2h1M94.3 588.2h1M110.8 613h1M77.5 602.6h1M117.1 606.2h1M114.2 614.3h1M116.2 601h1M115.5 609.5h1M89.3 599.4h1M90.4 601.5h1M84.1 610.9h1M108.6 613.8h1M91.5 609.8h1M125.8 618.8h1M103.3 610.2h1M115.3 604.6h1M91.1 607.5h1M107.5 614.8h1M116.3 600.9h1M108.4 615.9h1M116.9 612.9h1M110.1 594.4h1M92.1 604.1h1M108.7 621.4h1M96.1 610.6h1M112.6 592.2h1M121 604.6h1M101.1 610.6h1M91.9 606.7h1M122.7 598.6h1M122.6 609.1h1M119.5 597.5h1M116.9 614.3h1M129.6 606.3h1M106.6 615.5h1M119.6 597.3h1M115.3 616.8h1M91.1 594.7h1M94.3 589.7h1M109.4 590.7h1M109.9 613.8h1M88.5 600h1M85.5 607.4h1M93 602.9h1M85.3 598.5h1M124.2 605.2h1M92.1 604.2h1M95 591.1h1M97.4 607.9h1M95.5 595.1h1M118.5 606h1M95.2 587.9h1M91 619.6h1M93.2 602h1M102 593.5h1M94.2 614.4h1M97.2 608.7h1M87.7 600.2h1M107.5 610.7h1M93.5 606.7h1M77.4 600.6h1M94.7 592.4h1M100.7 611.9h1M93.1 593.3h1M120.5 607.2h1M117 599.6h1M95.1 592.3h1M116.6 599h1M94.3 596h1M100.3 594.1h1M99.3 596.2h1M108.3 588.2h1M112.7 592.8h1M101.4 610h1M100.4 609.7h1M90 589.6h1M117.1 607.2h1M114.8 604.6h1M84.9 592.9h1M116.2 603.1h1M120.1 604.7h1M123.8 617.2h1M122.2 611.9h1M121.4 608.2h1M100.3 589.6h1M93.9 594.6h1M82.1 605.7h1M104.2 621.3h1M119.4 605.3h1M98.7 613.4h1M114.9 616h1M95.9 609.4h1M90.8 606.3h1M115.9 613.9h1M95.3 610.3h1M97.6 597.5h1M91.5 610.4h1M121.5 600.3h1M130.2 612.1h1M99.4 590.4h1M98 611.1h1M123.7 602.8h1M85.8 608.3h1M93.9 610h1M87.6 593.2h1M93 606.8h1M113.3 590.5h1M123.3 608.1h1M112.5 590.8h1M115.7 593.9h1M95.9 588.5h1M87.8 598h1M110 614.7h1M92.9 595.9h1M104.3 614.9h1M120.4 611h1M85.9 594.8h1M91.5 603.7h1M111.5 613.6h1M96.4 609.5h1M94.9 607.5h1M114.6 603.9h1M116.1 610.2h1M134.9 609.9h1M121.1 600.5h1M115.7 587.7h1M85.7 597h1M81.2 606h1M123.5 616.7h1M104.2 612.3h1M88.8 588.7h1M135.4 600.8h1M104.5 609.8h1M122.8 595.9h1M108.4 592.9h1M87.1 585.9h1M105.6 586.8h1M90.6 595.9h1M111.9 607.6h1M127.4 608.5h1M109.2 619.6h1M119 593.4h1M111.9 609.6h1M123.9 613.8h1M112.6 595.6h1M101.9 594.5h1M117.4 615.3h1M103.8 610.4h1M110.6 610.8h1M95.8 616.4h1M125.9 617.5h1M124.9 609.9h1M84.4 618h1M127.8 604.7h1M109.1 610.5h1M112.2 614.7h1M95.7 597.5h1M92.8 595.4h1M115.9 592.4h1M112.3 616h1M95.5 609.4h1M117.1 604.4h1M93.4 605.3h1M116.4 611.7h1M113 591.1h1M98 612.8h1M92.4 610.3h1M123.8 609.9h1M116.1 601.8h1M92.5 601.7h1M104.8 616.2h1M118.4 605.3h1M93.9 598.6h1M115.8 595.9h1M92.9 602.8h1M88 594.6h1M112.8 611.1h1M115.8 589.4h1M96.8 607.4h1M85.8 612.1h1M78.7 609.2h1M112.3 589.3h1M112.6 591.4h1M116.3 606.9h1M127.6 600.6h1M104.9 610.6h1M93.9 605.9h1M122 602.2h1M118 600.4h1M112.5 590.3h1M80.5 603h1M93.1 608.1h1M113.5 608.8h1M99.4 622.1h1M115.7 619.5h1M117.7 608.4h1M103.4 620.2h1M98.7 608.7h1M109 614h1M101.8 618.9h1M102.9 616.7h1M116.7 617.2h1M90.3 603.6h1M110.1 624.2h1M91.2 612h1M101.8 616.3h1M107.2 621.1h1M93.9 617.4h1M115.2 611.8h1M92.7 605.7h1M97.7 635.7h1M99.4 624.7h1M107.1 613.3h1M115 614.5h1M88 614.4h1M111 614.9h1M122.4 608h1M110.5 617.5h1M94.8 620.3h1M88.7 597.3h1M103.5 595.4h1M76.3 608.3h1M94.4 605.4h1M109.6 592.9h1M93.1 612.3h1M93.9 616.7h1M97.5 615h1M109.8 593.7h1M92.8 609.4h1M108.6 617.6h1M113.7 620.3h1M113.4 607.2h1M116.6 597h1M112.1 609.4h1M83 617.3h1M108.3 610.8h1M92.9 605.2h1M121.6 604.3h1M66.3 599.5h1M91.5 608.1h1M95.5 619h1M88.8 626.6h1M113.6 616.1h1M93.2 616.1h1M84.4 600.4h1M117.3 609h1M90.4 613.8h1M115 610.9h1M84.8 605.6h1M109.5 617.6h1M125.4 609.7h1M99.5 609.5h1M118.2 603h1M119.3 586.8h1M109.9 616.9h1M91.7 608.5h1M107.5 615.8h1M83.5 631.4h1M88.2 617.3h1M98.9 622.7h1M114.3 611.3h1M90.7 609.3h1M103.2 623.1h1M67.6 601.3h1M94.6 605.3h1M109.5 614.3h1M110.3 614h1M84.4 606.3h1M89.6 598.5h1M106.5 611h1M109.1 616.9h1M124.3 623.3h1M94.4 612.2h1M126.8 618.5h1M80.4 597h1M90.5 613.8h1M104.8 613h1M124.6 604.5h1M95.4 627.2h1M82.3 594.8h1M77.7 608.7h1M105.3 619.3h1M96.6 626.7h1M85.2 610.3h1M105.1 615.9h1M100.3 614.4h1M113.9 609.7h1M94.1 607.6h1M101.5 611.9h1M119.7 623.3h1M99.9 615.3h1M108.1 617.4h1M105.1 612.7h1M114.5 622.8h1M112.2 614.8h1M85 614.7h1M94.1 620.9h1M84.8 624.5h1M111.9 632.2h1M96.9 609.5h1M99.2 611.3h1M116.8 604.2h1M99.2 614.8h1M91 608.3h1M102.4 625.4h1M92.6 618h1M96.1 606.4h1M101.2 612.5h1M114.4 626.8h1M97.8 621.7h1M115.9 618.5h1M96.4 617.7h1M103.6 613.4h1M101.8 616h1M117.2 621.5h1M102.5 619.1h1M121 603.2h1M121.2 599.7h1M110.9 616.1h1M121.3 614.2h1M90.9 616.1h1M123.2 625h1M107.9 611.2h1M108.7 615.7h1M101.3 618.3h1M114.1 613h1M89.3 614.5h1M104.5 610.6h1M104.1 612.9h1M112.8 612.9h1M119.9 621.8h1M110.9 630.1h1M104.5 593.4h1M103.9 614.1h1M115.8 608.1h1M120.3 605.7h1M103.3 593.3h1M121 616.3h1M92.8 614h1M110.1 608.7h1M98.9 594.3h1M103.8 621.5h1M120.4 609.1h1M96.7 607.8h1M114.6 614.2h1M98.5 613h1M102.6 614.7h1M105.5 617h1M92.8 608.4h1M114.3 607.8h1M97.8 627.5h1M113.8 620h1M94.6 623.8h1M86.9 604.3h1M112.8 622.6h1M107 593.6h1M111.7 615.8h1M100 614.6h1M113.2 613.7h1M110.5 624h1M99.7 611.3h1M99.2 618.9h1M100.4 614.1h1M106.3 611h1M123.3 611.1h1M120.1 618.7h1M119 610h1M114.8 617.7h1M98.2 612.1h1M103.4 609.9h1M118.8 605.2h1M86.8 593.7h1M105 615.2h1M123.7 614.5h1M111.1 622.6h1M119.2 594.6h1M114.4 624.8h1M101.5 615.1h1M95.3 617.9h1M90.5 621.6h1M105 612.9h1M90.6 604h1M127 600h1M91.8 609.6h1M110 617.1h1M77.3 616.4h1M107.5 611.9h1M98.1 611.9h1M116.6 596.4h1M127.5 603.5h1M123.8 595.8h1M126.2 600.9h1M124.3 588.2h1M131.6 594.6h1M127.5 601.5h1M124.8 594.5h1M129.8 598.3h1M126.6 601.3h1M139.9 594.3h1M138.1 586.1h1M135.9 594.6h1M129.7 594.6h1M126 590.1h1M127.2 602.5h1M134.6 594.6h1M126.5 592.9h1M123.3 605h1M132.3 596.8h1M126.7 591.4h1M135.5 600h1M124.5 601h1M123.7 599.4h1M124.4 594.3h1M131.5 598.4h1M134 592.3h1M136.7 602.8h1M129 598.5h1M125.3 595.5h1M122.7 596.7h1M130 602.7h1M133.7 600.2h1M127.3 595.2h1M127.4 597.4h1M119.7 600h1M121.5 593.8h1M129.2 593.8h1M137.1 595.8h1M136.7 601.9h1M126.7 598.2h1M135.4 594.7h1M129.5 593.6h1M129.4 594.6h1M129.5 601.1h1M135.8 596.9h1M130 600.4h1M127.7 591.2h1M134.5 591.8h1M133.6 591.6h1M137.9 591.3h1M133.2 603.5h1M124.4 603.4h1M125.1 587.8h1M132.6 599.7h1M128.1 584.1h1M128.8 594.8h1M127.2 594.9h1M120.4 593.5h1M137.8 603.7h1M127.3 592.9h1M131 601.4h1M132.6 590.7h1M129.9 597h1M136 602h1M131.6 602.1h1M127.2 603.7h1M127 598.2h1M133.5 591.9h1M125.7 587.8h1M129.9 596h1M120.1 582.2h1M109.7 580.1h1M122.5 579.2h1M126.6 587h1M119.4 576.6h1M118.5 580.6h1M125.4 576.9h1M127.8 576.3h1M126.8 581.9h1M124.7 588.5h1M120.5 579.6h1M124.8 583.6h1M114.2 581.3h1M117.7 582.7h1M130 580.4h1M121.4 580.9h1M104.8 583.2h1M125.3 580.9h1M119.7 577.4h1M121 584.9h1M121.4 585.4h1M107 578.5h1M123.6 580.2h1M112.3 577.7h1M129.3 575.3h1" stroke="#111" stroke-width="1"/>
</g>
<defs><clipPath id="c7"><rect x="61.4" y="536.1" width="101" height="100.3"/></clipPath></defs>
<path d="M117.8 536.1V636.4M61.4 585.3H162.4" stroke="#d65a5a" stroke-width="0.9"/>
<path d="M61.4 536.1H162.4V636.4H61.4" fill="none" stroke="#6b88c8" stroke-width="0.9"/>
<path d="M61.4 535.6V636.9" fill="none" stroke="#3f62b0" stroke-width="1.1"/>
<path d="M57.9 536.1H162.4" fill="none" stroke="#7d95cc" stroke-width="1.3"/>
<text x="62.2" y="543.1" font-size="7.5" fill="#d0413f">Q3-UL</text>
<text x="62.2" y="549.7" font-size="7.5" fill="#d0413f">3.3%</text>
<text x="140.1" y="543.1" font-size="7.5" fill="#d0413f">Q3-UR</text>
<text x="140.1" y="549.7" font-size="7.5" fill="#d0413f">0.6%</text>
<text x="62.2" y="629.2" font-size="7.5" fill="#d0413f">Q3-LL</text>
<text x="62.2" y="635.6" font-size="7.5" fill="#d0413f">94.4%</text>
<text x="140.1" y="629.2" font-size="7.5" fill="#d0413f">Q3-LR</text>
<text x="140.1" y="635.6" font-size="7.5" fill="#d0413f">4.8%</text>
<path d="M202.9 631.6h-3.2M202.9 628.7h-3.2M202.9 626.7h-3.2M202.9 625.2h-3.2M202.9 623.9h-3.2M202.9 622.8h-3.2M202.9 621.9h-3.2M202.9 621.1h-3.2M202.9 615.5h-3.2M202.9 612.6h-3.2M202.9 610.6h-3.2M202.9 609.1h-3.2M202.9 607.8h-3.2M202.9 606.7h-3.2M202.9 605.8h-3.2M202.9 605h-3.2M202.9 599.4h-3.2M202.9 596.6h-3.2M202.9 594.6h-3.2M202.9 593h-3.2M202.9 591.7h-3.2M202.9 590.6h-3.2M202.9 589.7h-3.2M202.9 588.9h-3.2M202.9 583.3h-3.2M202.9 580.5h-3.2M202.9 578.5h-3.2M202.9 576.9h-3.2M202.9 575.6h-3.2M202.9 574.6h-3.2M202.9 573.6h-3.2M202.9 572.8h-3.2M202.9 567.2h-3.2M202.9 564.4h-3.2M202.9 562.4h-3.2M202.9 560.8h-3.2M202.9 559.6h-3.2M202.9 558.5h-3.2M202.9 557.6h-3.2M202.9 556.7h-3.2M202.9 551.2h-3.2M202.9 548.3h-3.2M202.9 546.3h-3.2M202.9 544.8h-3.2M202.9 543.5h-3.2M202.9 542.4h-3.2M202.9 541.5h-3.2M202.9 540.7h-3.2M207.8 636.4v3.2M210.7 636.4v3.2M212.7 636.4v3.2M214.3 636.4v3.2M215.6 636.4v3.2M216.6 636.4v3.2M217.6 636.4v3.2M218.4 636.4v3.2M224.1 636.4v3.2M226.9 636.4v3.2M228.9 636.4v3.2M230.5 636.4v3.2M231.8 636.4v3.2M232.9 636.4v3.2M233.8 636.4v3.2M234.7 636.4v3.2M240.3 636.4v3.2M243.2 636.4v3.2M245.2 636.4v3.2M246.8 636.4v3.2M248.1 636.4v3.2M249.2 636.4v3.2M250.1 636.4v3.2M250.9 636.4v3.2M256.6 636.4v3.2M259.4 636.4v3.2M261.5 636.4v3.2M263 636.4v3.2M264.3 636.4v3.2M265.4 636.4v3.2M266.4 636.4v3.2M267.2 636.4v3.2M272.8 636.4v3.2M275.7 636.4v3.2M277.7 636.4v3.2M279.3 636.4v3.2M280.6 636.4v3.2M281.7 636.4v3.2M282.6 636.4v3.2M283.4 636.4v3.2M289.1 636.4v3.2M291.9 636.4v3.2M294 636.4v3.2M295.6 636.4v3.2M296.8 636.4v3.2M297.9 636.4v3.2M298.9 636.4v3.2M299.7 636.4v3.2" stroke="#5d7cc4" stroke-width="1"/>
<path d="M202.9 636.4h-3.2M202.9 620.3h-3.2M202.9 604.2h-3.2M202.9 588.2h-3.2M202.9 572.1h-3.2M202.9 556h-3.2M202.9 539.9h-3.2M202.9 636.4v3.2M219.2 636.4v3.2M235.4 636.4v3.2M251.7 636.4v3.2M267.9 636.4v3.2M284.2 636.4v3.2M300.4 636.4v3.2" stroke="#1f3f95" stroke-width="1.4"/>
<text x="196.7" y="637.4" font-size="5.5" fill="#3c5fae" transform="rotate(-90 196.7 637.4)" text-anchor="middle">10<tspan font-size="5" dy="-2.2">1</tspan></text>
<text x="196.7" y="621.3" font-size="5.5" fill="#3c5fae" transform="rotate(-90 196.7 621.3)" text-anchor="middle">10<tspan font-size="5" dy="-2.2">2</tspan></text>
<text x="196.7" y="605.2" font-size="5.5" fill="#3c5fae" transform="rotate(-90 196.7 605.2)" text-anchor="middle">10<tspan font-size="5" dy="-2.2">3</tspan></text>
<text x="196.7" y="589.2" font-size="5.5" fill="#3c5fae" transform="rotate(-90 196.7 589.2)" text-anchor="middle">10<tspan font-size="5" dy="-2.2">4</tspan></text>
<text x="196.7" y="573.1" font-size="5.5" fill="#3c5fae" transform="rotate(-90 196.7 573.1)" text-anchor="middle">10<tspan font-size="5" dy="-2.2">5</tspan></text>
<text x="196.7" y="557" font-size="5.5" fill="#3c5fae" transform="rotate(-90 196.7 557)" text-anchor="middle">10<tspan font-size="5" dy="-2.2">6</tspan></text>
<text x="196.7" y="537.2" font-size="5.5" fill="#3c5fae" transform="rotate(-90 196.7 537.2)" text-anchor="middle">10<tspan font-size="5" dy="-2.2">7.2</tspan></text>
<text x="203.9" y="645.9" font-size="5.5" fill="#3c5fae" text-anchor="middle">10<tspan font-size="5" dy="-2.2">1</tspan></text>
<text x="220.2" y="645.9" font-size="5.5" fill="#3c5fae" text-anchor="middle">10<tspan font-size="5" dy="-2.2">2</tspan></text>
<text x="236.4" y="645.9" font-size="5.5" fill="#3c5fae" text-anchor="middle">10<tspan font-size="5" dy="-2.2">3</tspan></text>
<text x="252.7" y="645.9" font-size="5.5" fill="#3c5fae" text-anchor="middle">10<tspan font-size="5" dy="-2.2">4</tspan></text>
<text x="268.9" y="645.9" font-size="5.5" fill="#3c5fae" text-anchor="middle">10<tspan font-size="5" dy="-2.2">5</tspan></text>
<text x="285.2" y="645.9" font-size="5.5" fill="#3c5fae" text-anchor="middle">10<tspan font-size="5" dy="-2.2">6</tspan></text>
<text x="304.7" y="645.9" font-size="5.5" fill="#3c5fae" text-anchor="middle">10<tspan font-size="5" dy="-2.2">7.2</tspan></text>
<text x="188.6" y="594.5" font-size="5.7" text-anchor="middle" fill="#222" transform="rotate(-90 188.6 594.5)">FL2-A</text>
<text x="253.5" y="653.2" font-size="5.7" text-anchor="middle" fill="#222">FL4-A</text>
<text x="202.9" y="535.4" font-size="7" fill="#222">Gate: P1</text>
<text x="247.1" y="526.2" font-size="15" text-anchor="middle" fill="#1a1a1a">shNC</text>
<g clip-path="url(#c8)" filter="url(#bl)">
<path d="M237.2 599.8C237.8 598.3 239.1 597.2 240.7 596.3C242.3 595.4 244.9 594.7 246.9 594.5C249 594.3 251.4 594.4 253.2 595C255 595.6 256.7 596.7 257.6 598.1C258.5 599.5 258.8 601.6 258.5 603.4C258.2 605.2 257.2 607.2 255.8 608.7C254.5 610.2 252.4 611.7 250.5 612.3C248.6 612.9 246.1 612.7 244.3 612.3C242.5 611.8 241 610.8 239.8 609.6C238.6 608.4 237.6 606.8 237.2 605.2C236.7 603.6 236.6 601.3 237.2 599.8Z" fill="#050505"/>
<path d="M251 622.6h1M258.3 612.6h1M240.2 596.6h1M236 605.2h1M254 617.1h1M229.1 610.9h1M245.6 626.3h1M260.2 608.5h1M236.6 610.3h1M239.1 612.6h1M232.7 602.6h1M258.1 598.6h1M258.3 601.5h1M255.7 621h1M232.9 596.7h1M234.4 614.5h1M258.6 613.8h1M259.9 611h1M239.9 585.6h1M253.9 596.7h1M235.4 601h1M266.9 611.9h1M231.6 601.8h1M256.5 604.7h1M246.1 611.2h1M233.6 612.3h1M233.1 585.2h1M252.4 616h1M252.4 610.9h1M248.4 611.2h1M237.4 605.3h1M256.8 609.8h1M235.6 613h1M231.4 602h1M237.3 609.1h1M263.9 602h1M260.5 603.9h1M258.9 622.1h1M237.9 597.4h1M256.8 611h1M232.2 606.8h1M244.8 595.1h1M239.8 607.3h1M244.8 591.8h1M240.2 608.9h1M269.3 615.9h1M247.7 594.7h1M248.8 612.6h1M246.7 592.7h1M261.1 605h1M261.2 597.9h1M272.9 596.1h1M220.8 595.6h1M230.9 615.3h1M254.4 596.8h1M229.4 589h1M229.8 615.9h1M243.8 613.2h1M255.7 594.7h1M262.2 599.9h1M253.2 594.8h1M240.4 609h1M234.9 603.2h1M262.1 609.7h1M245.9 611.1h1M261.3 613.9h1M251.2 595.5h1M243.6 618.6h1M239.1 606.6h1M264.6 602h1M252.5 594.6h1M250.7 590.8h1M236 609.7h1M253.3 580.9h1M262.8 598.4h1M256.3 611.9h1M227.5 605.5h1M266.3 595.4h1M258.8 609.9h1M256.9 596.1h1M264.7 597.7h1M241.8 597.2h1M256 592.1h1M245.1 593.4h1M239 608h1M254.7 615.1h1M231.8 598.2h1M253.1 595.4h1M237.6 616.4h1M246.3 595h1M225.4 595.2h1M270.6 604.9h1M253.3 608.8h1M257.4 597.8h1M239.4 597.9h1M259.5 600.6h1M265.4 594.7h1M237 582.8h1M237.6 603.2h1M254.1 596.4h1M241.8 613.6h1M253.5 596.5h1M259.5 602.8h1M249.8 612.6h1M249.2 589.8h1M230.5 615.2h1M238.3 612.3h1M252.6 612.9h1M265.4 618.6h1M234.6 607.3h1M235.4 596.2h1M261.1 601h1M257.3 613.3h1M236.6 592.3h1M250.7 591.8h1M239.1 596.5h1M232.7 596.7h1M238.5 610.6h1M236.3 605h1M237.8 609h1M258.7 615.3h1M262.4 611.6h1M236.4 621.5h1M245.8 591.3h1M234.4 597.7h1M265.7 605.8h1M237.8 615.6h1M228.2 610.5h1M275.5 605.7h1M257.2 609.3h1M217.9 603.8h1M241.3 582.4h1M241 585.3h1M235.2 596.4h1M247 614.9h1M258 607.7h1M234.9 609.5h1M246.2 612.4h1M239 598.3h1M251.2 614.8h1M252.4 593.7h1M259 594.7h1M231.3 602.7h1M241.5 613h1M255.3 607.5h1M226.3 601.4h1M238.3 587.9h1M265.5 590.4h1M236.9 595.8h1M251.2 594h1M250.2 615.4h1M242.3 594.3h1M246.1 611.4h1M248.4 613.5h1M259.4 590.2h1M233.3 610h1M254.6 609h1M256.5 595.6h1M234.4 605.9h1M234.6 603.3h1M267.8 591.5h1M252.4 615.8h1M260.2 601h1M237.5 602.8h1M234 603.5h1M242.2 609.4h1M242.8 611.1h1M253.6 611.2h1M251.3 593.8h1M271.5 601.9h1M236 603.8h1M248.9 588.4h1M232.8 599.6h1M242.8 594.8h1M237.1 602.4h1M236.4 605.4h1M264.1 616.1h1M231.7 601.6h1M261.5 598.4h1M224.5 594.4h1M239.5 597.2h1M252.9 588.6h1M239.5 610.1h1M241.3 593.9h1M243.7 619.4h1M232.1 598.6h1M243.2 595.8h1M233.3 599.3h1M234.2 603.4h1M244.3 595.6h1M234.2 601.5h1M237.8 598.8h1M234.2 603.3h1M263 613.1h1M238.7 605h1M231.9 600.9h1M232.6 595.1h1M232.4 604.5h1M233.4 598.4h1M269.6 591.4h1M235.3 612.6h1M234.3 602.2h1M262.3 590.8h1M258.9 599.4h1M257 607.9h1M238.2 603h1M269.2 603h1M234.2 598.7h1M241 596.7h1M241.9 578.3h1M237.5 595.3h1M224.4 596.9h1M259.3 614.8h1M233.8 614.3h1M251.9 593.4h1M267.4 602.7h1M257.7 599.9h1M244.5 613.6h1M255.1 609h1M270.5 602.8h1M256.3 598.3h1M227.4 588.2h1M254.7 583h1M253.1 595.9h1M234.3 593.2h1M257.6 597.7h1M262.6 606.6h1M244.2 590.9h1M244.8 592.4h1M232.1 618.5h1M240.4 617.8h1M254.6 610.2h1M262.8 604.1h1M248.2 588.2h1M238.4 596.1h1M252.9 595.8h1M263.7 601.4h1M260.5 605.4h1M237.4 583.1h1M261 602.1h1M243.4 594.5h1M256.3 594.9h1M257 611.8h1M255.9 606.2h1M235.9 617.1h1M244.1 590.3h1M229.6 594.8h1M230.6 603h1M255.5 608.2h1M238 616.7h1M237.5 602.9h1M234.8 586.6h1M256 592.4h1M238.1 591.2h1M238 600h1M241.1 610.5h1M233 592.2h1M255.2 614.6h1M261.2 608.7h1M238.3 609h1M228 596h1M262.3 607h1M264.6 611.7h1M237.9 597.1h1M245 618.3h1M257.3 610.7h1M254.4 594.5h1M243.6 615h1M263.7 618.8h1M257.2 597.9h1M257.5 596.9h1M252.7 610.3h1M258 605.5h1M257.5 603.7h1M242.4 597.1h1M246 611.2h1M255.3 607.1h1M246.5 595.9h1M256.7 590.4h1M228.8 608.8h1M263.9 614.3h1M259.5 609.3h1M228.5 607.4h1M269.3 610.4h1M255.7 607.6h1M254.3 597.5h1M227.9 611.4h1M259 612h1M243.2 610.3h1M235.6 603.2h1M239.6 607.5h1M231.5 606.2h1M234.3 600.4h1M261 605.1h1M249.8 612.2h1M227 603.2h1M228.8 606.6h1M257.2 600.5h1M234.1 596.8h1M242.4 612.8h1M260.9 606.4h1M249.4 595.6h1M237 605.1h1M233.6 590.6h1M256.1 618.9h1M242.4 610h1M228.6 595h1M230.8 604.6h1M263.4 605.9h1M234.1 604.4h1M239.3 597.3h1M251.5 612.8h1M245.4 594.5h1M233.1 597.9h1M236.6 606.9h1M233.7 604.7h1M257.5 606h1M255.9 613.5h1M263.3 600.8h1M237.9 599.6h1M257.9 605.6h1M227.1 611.7h1M225.3 608.2h1M258.2 606.5h1M259.6 603.8h1M262 601.1h1M235.2 604.5h1M254 609.1h1M252.8 595.5h1M259.5 608.5h1M235.1 603h1M241.7 591h1M249.9 615.2h1M274 605.1h1M235 591.1h1M231.9 597.8h1M233.1 607.5h1M250.6 614.7h1M253.7 608.5h1M262.9 605.1h1M263.7 597.4h1M258.6 606.6h1M256.1 611.3h1M272.1 606.8h1M236.9 603.5h1M259 608.2h1M237.9 603.8h1M266.2 601.6h1M260.6 595.4h1M248.5 612.6h1M231.1 600.3h1M263.8 619.6h1M253.2 595.8h1M229.6 599.4h1M249 622.2h1M237.9 597.2h1M244.3 596.4h1M240.1 610.3h1M252.2 593.3h1M263.2 601.7h1M239.2 611.4h1M253 610.6h1M268 617h1M237.5 601h1M258.8 597.1h1M243.3 593.2h1M254.9 611.9h1M260.2 605.6h1M234.3 601.1h1M240.9 615.7h1M257 594.4h1M244.5 611.9h1M236.7 601.4h1M232.2 615h1M235.7 595.8h1M257.5 594.7h1M246.3 615.8h1M238.1 596.8h1M241.6 589.6h1M240.8 615.1h1M258 612.1h1M239.5 598h1M259.4 622h1M263.6 613.4h1M232.2 586.3h1M242.5 614.3h1M267.2 603.3h1M241.7 589.8h1M240.9 595.6h1M238.4 593.6h1M255.5 614.1h1M261.1 614.9h1M260.9 605.7h1M256.5 607.4h1M262.1 607.7h1M236.2 595.7h1M222.5 594.9h1M239.2 617.5h1M232.5 595.7h1M246.7 614.3h1M242.7 596h1M249.5 596h1M257.1 613.7h1M237.6 598.1h1M257.7 597.8h1M230 599.7h1M235.9 611.3h1M239.3 606.4h1M245 614.5h1M253 611.7h1M232.9 598.1h1M261 614.9h1M253 616.2h1M237.6 608.3h1M259 590.4h1M241.3 613.9h1M256 590h1M245.3 611h1M253.4 609.1h1M241.3 614.2h1M234.4 604.8h1M242.6 614.6h1M253.2 589.9h1M230.7 605.5h1M253.4 590h1M261 600.9h1M253.3 626.8h1M223.8 598.6h1M250.5 617.3h1M251.8 592.2h1M235.1 625.1h1M230.7 623.3h1M256.5 607.6h1M254.4 615.3h1M258.5 610h1M247.3 595.2h1M246.1 589.6h1M236.3 606.2h1M238.8 606h1M248.6 621h1M259.8 599.3h1M259.4 588.2h1M247.3 584.2h1M252.2 592.8h1M257.1 609.4h1M232.8 598.1h1M262.6 598.3h1M234.6 618.7h1M228.8 606.4h1M244 595.3h1M236 611.3h1M257.2 596.4h1M233.1 592.6h1M239 598.2h1M246.7 583h1M236.3 611.6h1M237.1 601.8h1M279.3 601.6h1M260.5 602.8h1M223.4 597.2h1M238.3 600.9h1M241 590.1h1M258.1 607.9h1M248.5 614.2h1M240.7 618.3h1M262.1 606.9h1M257.8 608.4h1M259.4 608.2h1M250.3 612.1h1M262.1 602h1M230.7 597.4h1M235.7 607.3h1M272.9 597.7h1M261.4 605h1M247.7 589.1h1M265.3 616.9h1M229.8 604.7h1M239.5 598.1h1M230.2 592.4h1M256.4 613.2h1M274.8 600.7h1M243.2 595.2h1M233.9 598.3h1M226.9 603.4h1M236.5 601.2h1M237.1 600.2h1M241.4 588h1M258.7 616.7h1M228.4 612.1h1M271.8 599.2h1M263.7 606.7h1M259 602.2h1M245.2 612.1h1M257.1 597.2h1M243.2 589.3h1M241.9 593.4h1M239.9 594.8h1M234.3 611.7h1M229.6 613.3h1M258.9 600.1h1M244.7 612.3h1M261.8 604.7h1M241.7 596.1h1M251.9 612.2h1M236.9 602h1M249.2 627.3h1M242.3 618.8h1M245.5 617.8h1M269.3 605.6h1M265.8 599.4h1M227.7 606.2h1M253.3 614.6h1M254.4 609h1M259.9 612.4h1M236.7 606.4h1M249.9 613.3h1M250.3 611.9h1M256.8 604.3h1M237.2 596.4h1M226.8 597.9h1M233 609.1h1M269.2 608.1h1M249.4 593.3h1M248 594.9h1M240.5 596h1M228.3 596.1h1M235 603.7h1M245.6 614.2h1M251.2 595.1h1M246.6 617h1M259.4 614.8h1M243.3 615.8h1M254.5 609.1h1M228.4 590.9h1M239.3 609.6h1M251.2 610.6h1M259.6 618.2h1M257.9 605.9h1M234.3 615.1h1M253.4 618.8h1M256.6 598.4h1M260.3 594.8h1M259.6 616.9h1M257.6 601.8h1M272.9 593.4h1M269.1 604.7h1M244.2 592.9h1M237.2 606.1h1M256.5 605.8h1M239.3 610.6h1M251.9 588.1h1M237.5 597.7h1M237.4 599.6h1M239.1 606.5h1M226 602.3h1M259.6 601.5h1M238.3 598.7h1M252.3 610.9h1M238 615.3h1M261.2 600.7h1M267.7 602.2h1M237.7 603.1h1M246.1 594.9h1M259.7 609.8h1M235.6 598.4h1M244.3 612.7h1M262.6 614h1M253.4 611.8h1M241.4 596.4h1M240.9 610.1h1M250.7 594.8h1M253.9 617.3h1M255.8 611.1h1M260.1 605.9h1M271.4 617.1h1M248.2 587.4h1M227.1 603.3h1M255.3 610.2h1M245.5 594.2h1M263.7 605h1M244.9 612.7h1M270.9 600.4h1M255.8 598.6h1M244.5 615.2h1M231.3 607.8h1M234.1 606.3h1M233.8 605.4h1M237.8 607.8h1M256.4 610.2h1M254.3 615.3h1M231.2 607.3h1M256.6 600.4h1M260.9 599.5h1M247.4 612.1h1M244.1 589.4h1M239.3 613.4h1M244.4 584.3h1M243.5 587.6h1M234.4 603.7h1M236.8 602.2h1M255.3 608h1M249.4 591.2h1M261.1 598h1M256 609.1h1M247.9 590.2h1M270.3 604.8h1M243.3 612.3h1M256.6 608.2h1M228.7 600.5h1M263 606.9h1M264.8 610.5h1M250.1 594.6h1M238.1 603.7h1M239.3 605.9h1M231.9 604.4h1M240.4 608.1h1M243.3 610.3h1M243.9 610.6h1M249.9 612.6h1M218.5 602h1M234.4 616.1h1M254.3 617.4h1M242.3 610.2h1M224.6 596.6h1M235.1 599.1h1M243.9 615.2h1M259.1 605.5h1M238.6 604.5h1M235 616.1h1M256.4 613.6h1M254.8 610.3h1M244.4 612h1M234.5 624.1h1M259.1 610.9h1M255.4 607.3h1M235.6 634.4h1M260.7 601.8h1M248.7 622.4h1M259.4 609.9h1M230.9 620.6h1M245.7 616.7h1M234.1 604.6h1M251.6 614.5h1M233.1 603.4h1M250.2 611.7h1M258.8 618.9h1M255.6 613.1h1M244.5 613.8h1M236.7 589.1h1M258 610.4h1M253.7 609.6h1M252.7 623.5h1M256.7 630.7h1M241.9 613.2h1M264.9 608.1h1M236.2 601.8h1M233.8 619.2h1M235.8 602.3h1M248.3 617.1h1M260.8 625.1h1M236.1 597.1h1M258.6 602.6h1M245.3 614.4h1M263 600.1h1M253.4 617.7h1M228.5 605.9h1M222.3 613.3h1M253.5 621.3h1M253.6 614.1h1M253.2 616.4h1M233.7 618.2h1M271.3 615.5h1M253.9 623.1h1M248.9 612.5h1M235.2 611.7h1M253.3 609.5h1M252.1 610.3h1M224.2 610.4h1M241.7 617.1h1M249.8 617.1h1M245.8 615.6h1M237.7 590.6h1M249.9 618.5h1M233.8 611.5h1M226.9 598.2h1M236.6 622.1h1M241.5 619.1h1M252.6 623.3h1M273.8 615.1h1M264.3 588.8h1M254 629.9h1M250.8 614.5h1M248.7 619.3h1M230.9 609h1M247.6 623.5h1M238.3 603.5h1M258.8 609.9h1M248.4 612.2h1M236.9 612.1h1M241.9 596.8h1M249.1 616h1M252.4 617.3h1M241.5 624.4h1M242.4 610.5h1M265.5 611.9h1M252.3 619.8h1M240 596.9h1M241 595.4h1M264.2 610.1h1M238.3 606.5h1M254.6 610.2h1M244.4 618.2h1M252.6 618.8h1M254.4 585.7h1M235.4 603.4h1M265.2 619.9h1M268 604.8h1M236.8 623.3h1M248.1 612.3h1M265.7 613.5h1M253 610.1h1M229.8 621.3h1M239.5 610.4h1M255.4 584.3h1M260.8 613.5h1M236.3 615.1h1M238.5 604.6h1M232.8 612.6h1M256.3 606.9h1M267.7 598.5h1M235.6 598.5h1M235.6 605h1M261.8 623.4h1M258 615.1h1M230.2 611.3h1M259.8 618.5h1M262.1 613.8h1M244.3 589.3h1M266.4 615h1M255.8 610.1h1M265.8 604.8h1M243.8 619.6h1M236.7 591.6h1M253.6 615.7h1M238.6 611.9h1M236.4 609.7h1M248.5 611h1M268.4 599h1M243.5 612.7h1M264 599.5h1M250.7 594.1h1M258 611.5h1M237.3 594.4h1M238 611.8h1M228.3 607.2h1M252.3 617.6h1M248.2 615.9h1M248.2 612.2h1M241.3 614.7h1M254.5 595h1M251.8 622h1M232.3 614.2h1M222.2 616.2h1M229.9 591.4h1M258.5 625.7h1M247.1 613h1M238.2 614.6h1M231.6 598.8h1M240.7 623h1M250.1 614.3h1M266 599.3h1M245.1 617h1M249.2 590.1h1M249.3 614.4h1M242.3 623.4h1M250.1 620.1h1M260.7 606.8h1M241.1 611.3h1M236.9 603.1h1M241.3 618.7h1M238.3 623.9h1M234.4 604.2h1M254 618.9h1M258.1 593.8h1M246.6 621.1h1M226.1 615.7h1M236.7 601.6h1M236.7 616.4h1M276.6 619.1h1M254.9 607.8h1M262.9 610.6h1M255.4 610.6h1M255.2 609.8h1M243.1 612.5h1M259.7 609.7h1M240.3 608.4h1M237.8 617.1h1M257.4 606.8h1M244.6 612.8h1M237.3 595.4h1M256.2 613.6h1M236.5 614.8h1M236.5 622.6h1M220.4 604.5h1M225.3 614.1h1M228.6 597.9h1M257.5 611.7h1M251.3 620.7h1M234.7 603.8h1M228.4 621.6h1M257.4 595.8h1M231.3 611.8h1M238.1 607.6h1M249.8 619.3h1M254 596.9h1M233.2 615.1h1M249.3 620.2h1M240.7 608.5h1M251.4 616.9h1M273.4 608.2h1M262.8 616.1h1M262.4 607.8h1M239.3 617.3h1M265.8 608.8h1M260.4 625.3h1M229.3 619.7h1M261.6 603.9h1M238 611h1M229.8 620.5h1M239.3 617h1M270.2 608.3h1M268.9 617.1h1M232.1 598.3h1M272.5 636h1M255 610.7h1M235.1 607h1M254.3 632.5h1M266.1 608.3h1M270 595.8h1M266.6 608h1M266.4 603.8h1M268.5 605.2h1M276.8 591.6h1M270.2 599.8h1M274.2 600.5h1M263.7 587.4h1M276.3 601.9h1M272.6 591h1M276.3 601.4h1M270 605.5h1M263.3 608h1M274.1 600.7h1M261.3 598.4h1M267.9 596.6h1M266.4 594h1M265.8 596.2h1M269.9 603.9h1M272.7 620.3h1M275.5 599.8h1M263.3 603.3h1M262 602.4h1M263.4 590.6h1M269.8 598.5h1M265.7 590.8h1M264 597h1M267.7 595.6h1M257.2 602.9h1M275.4 598.6h1M279.4 597.4h1M267.7 596h1M262.5 612.3h1M269.2 606.8h1M269.6 603.4h1M262.2 597.7h1M263.7 595.7h1M269.3 600h1M274 593.1h1M266.2 603.6h1M256.6 593.6h1M261.6 597.2h1M266.8 600.5h1M261.1 603.7h1M266 600.7h1M258.6 593.3h1M256.1 598.4h1M258.6 596.5h1M270.8 597.6h1M268.9 592.8h1M272.9 611h1M265.3 607.5h1M259.8 600.4h1M267.4 591.1h1M254.8 589.8h1M265.3 591.9h1M265.4 598.2h1M262.6 589.8h1M266.5 597.1h1M278.1 602.8h1M257.6 603.4h1M266.9 598h1M267.1 604.4h1M261.1 606h1M268 595.4h1M260.4 579.5h1M266.2 587.1h1M266.1 584.6h1M260.3 577.7h1M267.2 576.1h1M263.5 583.2h1M262.6 581.6h1M264.4 584h1M262 584.1h1M262.6 580.6h1M261.8 578.1h1M263.9 587.5h1M259.1 585.3h1M254.2 576.1h1M251.6 581.4h1M252.2 581.6h1M269.6 580.3h1M263.8 588.3h1M255 584.4h1M255.9 579.6h1M268.2 583.3h1M255.8 580h1M258.3 580.4h1M264.4 587.4h1M264.1 578.5h1" stroke="#111" stroke-width="1"/>
</g>
<defs><clipPath id="c8"><rect x="202.9" y="536.7" width="100.8" height="99.7"/></clipPath></defs>
<path d="M259.2 536.7V636.4M202.9 585.1H303.7" stroke="#d65a5a" stroke-width="0.9"/>
<path d="M202.9 536.7H303.7V636.4H202.9" fill="none" stroke="#6b88c8" stroke-width="0.9"/>
<path d="M202.9 536.2V636.9" fill="none" stroke="#3f62b0" stroke-width="1.1"/>
<path d="M199.4 536.7H303.7" fill="none" stroke="#7d95cc" stroke-width="1.3"/>
<text x="203.7" y="543.7" font-size="7.5" fill="#d0413f">Q3-UL</text>
<text x="203.7" y="550.3" font-size="7.5" fill="#d0413f">0.8%</text>
<text x="281.4" y="543.7" font-size="7.5" fill="#d0413f">Q3-UR</text>
<text x="281.4" y="550.3" font-size="7.5" fill="#d0413f">0.9%</text>
<text x="203.7" y="629.2" font-size="7.5" fill="#d0413f">Q3-LL</text>
<text x="203.7" y="635.6" font-size="7.5" fill="#d0413f">93.6%</text>
<text x="281.4" y="629.2" font-size="7.5" fill="#d0413f">Q3-LR</text>
<text x="281.4" y="635.6" font-size="7.5" fill="#d0413f">4.7%</text>
<path d="M344.4 635.1h-3.2M344.4 632.3h-3.2M344.4 630.2h-3.2M344.4 628.7h-3.2M344.4 627.4h-3.2M344.4 626.3h-3.2M344.4 625.4h-3.2M344.4 624.5h-3.2M344.4 618.9h-3.2M344.4 616.1h-3.2M344.4 614h-3.2M344.4 612.5h-3.2M344.4 611.2h-3.2M344.4 610.1h-3.2M344.4 609.2h-3.2M344.4 608.3h-3.2M344.4 602.7h-3.2M344.4 599.8h-3.2M344.4 597.8h-3.2M344.4 596.3h-3.2M344.4 595h-3.2M344.4 593.9h-3.2M344.4 592.9h-3.2M344.4 592.1h-3.2M344.4 586.5h-3.2M344.4 583.6h-3.2M344.4 581.6h-3.2M344.4 580h-3.2M344.4 578.8h-3.2M344.4 577.7h-3.2M344.4 576.7h-3.2M344.4 575.9h-3.2M344.4 570.3h-3.2M344.4 567.4h-3.2M344.4 565.4h-3.2M344.4 563.8h-3.2M344.4 562.5h-3.2M344.4 561.5h-3.2M344.4 560.5h-3.2M344.4 559.7h-3.2M344.4 554.1h-3.2M344.4 551.2h-3.2M344.4 549.2h-3.2M344.4 547.6h-3.2M344.4 546.3h-3.2M344.4 545.3h-3.2M344.4 544.3h-3.2M344.4 543.5h-3.2M349.3 640v3.2M352.1 640v3.2M354.1 640v3.2M355.7 640v3.2M357 640v3.2M358.1 640v3.2M359 640v3.2M359.8 640v3.2M365.4 640v3.2M368.3 640v3.2M370.3 640v3.2M371.9 640v3.2M373.1 640v3.2M374.2 640v3.2M375.2 640v3.2M376 640v3.2M381.6 640v3.2M384.4 640v3.2M386.5 640v3.2M388 640v3.2M389.3 640v3.2M390.4 640v3.2M391.3 640v3.2M392.1 640v3.2M397.7 640v3.2M400.6 640v3.2M402.6 640v3.2M404.2 640v3.2M405.5 640v3.2M406.5 640v3.2M407.5 640v3.2M408.3 640v3.2M413.9 640v3.2M416.8 640v3.2M418.8 640v3.2M420.3 640v3.2M421.6 640v3.2M422.7 640v3.2M423.6 640v3.2M424.5 640v3.2M430.1 640v3.2M432.9 640v3.2M434.9 640v3.2M436.5 640v3.2M437.8 640v3.2M438.9 640v3.2M439.8 640v3.2M440.6 640v3.2" stroke="#5d7cc4" stroke-width="1"/>
<path d="M344.4 640h-3.2M344.4 623.8h-3.2M344.4 607.6h-3.2M344.4 591.4h-3.2M344.4 575.2h-3.2M344.4 559h-3.2M344.4 542.7h-3.2M344.4 640v3.2M360.6 640v3.2M376.7 640v3.2M392.9 640v3.2M409 640v3.2M425.2 640v3.2M441.4 640v3.2" stroke="#1f3f95" stroke-width="1.4"/>
<text x="338.2" y="641" font-size="5.5" fill="#3c5fae" transform="rotate(-90 338.2 641)" text-anchor="middle">10<tspan font-size="5" dy="-2.2">1</tspan></text>
<text x="338.2" y="624.8" font-size="5.5" fill="#3c5fae" transform="rotate(-90 338.2 624.8)" text-anchor="middle">10<tspan font-size="5" dy="-2.2">2</tspan></text>
<text x="338.2" y="608.6" font-size="5.5" fill="#3c5fae" transform="rotate(-90 338.2 608.6)" text-anchor="middle">10<tspan font-size="5" dy="-2.2">3</tspan></text>
<text x="338.2" y="592.4" font-size="5.5" fill="#3c5fae" transform="rotate(-90 338.2 592.4)" text-anchor="middle">10<tspan font-size="5" dy="-2.2">4</tspan></text>
<text x="338.2" y="576.2" font-size="5.5" fill="#3c5fae" transform="rotate(-90 338.2 576.2)" text-anchor="middle">10<tspan font-size="5" dy="-2.2">5</tspan></text>
<text x="338.2" y="560" font-size="5.5" fill="#3c5fae" transform="rotate(-90 338.2 560)" text-anchor="middle">10<tspan font-size="5" dy="-2.2">6</tspan></text>
<text x="338.2" y="540" font-size="5.5" fill="#3c5fae" transform="rotate(-90 338.2 540)" text-anchor="middle">10<tspan font-size="5" dy="-2.2">7.2</tspan></text>
<text x="345.4" y="649.5" font-size="5.5" fill="#3c5fae" text-anchor="middle">10<tspan font-size="5" dy="-2.2">1</tspan></text>
<text x="361.6" y="649.5" font-size="5.5" fill="#3c5fae" text-anchor="middle">10<tspan font-size="5" dy="-2.2">2</tspan></text>
<text x="377.7" y="649.5" font-size="5.5" fill="#3c5fae" text-anchor="middle">10<tspan font-size="5" dy="-2.2">3</tspan></text>
<text x="393.9" y="649.5" font-size="5.5" fill="#3c5fae" text-anchor="middle">10<tspan font-size="5" dy="-2.2">4</tspan></text>
<text x="410" y="649.5" font-size="5.5" fill="#3c5fae" text-anchor="middle">10<tspan font-size="5" dy="-2.2">5</tspan></text>
<text x="426.2" y="649.5" font-size="5.5" fill="#3c5fae" text-anchor="middle">10<tspan font-size="5" dy="-2.2">6</tspan></text>
<text x="445.6" y="649.5" font-size="5.5" fill="#3c5fae" text-anchor="middle">10<tspan font-size="5" dy="-2.2">7.2</tspan></text>
<text x="330.1" y="600.5" font-size="5.7" text-anchor="middle" fill="#222" transform="rotate(-90 330.1 600.5)">FL2-A</text>
<text x="344.4" y="538.2" font-size="7" fill="#222">Gate: P1</text>
<text x="388.3" y="527.8" font-size="15" text-anchor="middle" fill="#1a1a1a">shHOXA4</text>
<g clip-path="url(#c9)" filter="url(#bl)">
<path d="M364.2 607.2C364.7 606 366.3 603.9 367.7 602.7C369.2 601.5 370.9 600.7 373.2 600.1C375.4 599.5 378.7 599.5 381.1 599.2C383.4 598.9 385.5 598.1 387.3 598.3C389.1 598.4 390.8 599.1 391.7 600.1C392.6 601.1 392.9 602.9 392.6 604.5C392.3 606.1 391.1 608.4 389.9 609.9C388.7 611.3 387.3 612.6 385.5 613.5C383.7 614.4 381.2 615.1 379.3 615.3C377.3 615.4 375.7 615 374 614.4C372.2 613.8 370 612.4 368.5 611.7C367.1 610.9 365.8 610.6 365 609.9C364.3 609.1 363.8 608.4 364.2 607.2Z" fill="#050505"/>
<path d="M366.2 610.2h1M393 620.2h1M391.7 610.4h1M361.8 605.5h1M388.8 611.6h1M350.2 607.3h1M360 602.4h1M362.6 615.7h1M385.5 613h1M368.6 599.6h1M376.6 613.7h1M373.2 620.7h1M385.3 622.7h1M367.3 614h1M390 611h1M355 601.6h1M390.4 614.1h1M350.4 608.2h1M366.8 611.9h1M354 597.7h1M391.9 612.9h1M373 630.1h1M369.3 593.6h1M378.8 618.3h1M388.5 611.6h1M370.1 601.2h1M363.7 619.2h1M366.1 605.1h1M348.7 618.7h1M367.5 610.8h1M391.8 615h1M394.3 617.1h1M398.1 612.3h1M381.2 626.2h1M368 612.5h1M408.5 616.6h1M391 624h1M393.8 609.5h1M380.5 615.7h1M353.5 597.1h1M390.6 614.3h1M359.6 611.4h1M373 598.2h1M362.6 610.8h1M348.6 609.5h1M349.5 604.4h1M414.8 615.1h1M362.7 607.4h1M368.1 602.5h1M371.5 618.9h1M360.4 609h1M392.9 613.1h1M360.2 618h1M380.1 621.5h1M375.3 600.2h1M363.9 603.5h1M387.8 612.3h1M362.8 610h1M398 612.3h1M366.9 618.6h1M407.3 611.8h1M349.7 598.3h1M400.1 609.5h1M386.2 613.5h1M379.9 620.7h1M380.5 613.8h1M407.9 604.3h1M363.7 616.3h1M363.2 610.2h1M365.8 615.5h1M378.3 614.4h1M350.7 613.7h1M377.3 622h1M386.5 611.7h1M370.8 620.1h1M398.3 608.7h1M400.1 601.9h1M396.8 600.2h1M373.7 613.6h1M366.4 604.1h1M364.4 618.8h1M370.8 611.6h1M375.3 616.4h1M365.5 603.3h1M368.8 612.2h1M384.7 616.9h1M384.6 619.2h1M361.9 611.4h1M379.3 596h1M392.6 611.2h1M353.7 610.5h1M367.3 619.8h1M404.5 611.8h1M395.1 591.3h1M389.7 617.5h1M371.4 613h1M372.4 614.9h1M384.3 617.9h1M395.7 610.9h1M391.1 611h1M394.4 604.3h1M360.2 611.4h1M378.7 615.2h1M365.3 603.9h1M385.6 620.2h1M383 613h1M352.5 604.2h1M402.9 590.9h1M395 606.3h1M360.9 610.5h1M392.4 608.3h1M404.4 602.5h1M387.2 613h1M393.2 603h1M350.1 604.9h1M360.1 606h1M399.6 615h1M384.4 613.7h1M389.4 611.5h1M370.2 602.1h1M357.2 602.1h1M384.2 595.5h1M384.2 614.9h1M389.2 608.4h1M374.4 616.4h1M387.3 621.3h1M391.7 608.4h1M377.1 618.3h1M391.2 613h1M368.6 620.6h1M374.3 613.5h1M384.9 618.1h1M390.6 605.9h1M396.9 612.4h1M400.3 612.1h1M359.9 604.8h1M394.2 614.9h1M370.1 593.9h1M392.1 613.2h1M354.2 607.4h1M365.8 615.9h1M352.1 606.6h1M409.2 614.8h1M372.3 615.7h1M372.4 620.4h1M357.9 606.1h1M397.2 618.6h1M379.1 614.4h1M389.3 608.1h1M364.6 599.3h1M390.2 610.9h1M355.1 618.1h1M407.2 608.3h1M387.3 610.9h1M372.7 626h1M387.2 622.3h1M360 606.8h1M389.7 618.5h1M360.2 610h1M357.6 610h1M368.8 598.7h1M361.8 610.5h1M368.4 603.3h1M387.9 613.4h1M380.8 599.3h1M389.7 613.3h1M364.8 604.5h1M387.7 617.5h1M372.6 601.5h1M392.1 607h1M387.3 610.3h1M395.7 608.1h1M401.9 611.2h1M364.5 608.2h1M357 607h1M363.1 616.6h1M395.2 625.8h1M352.9 609.9h1M368.9 617.8h1M403.2 601.8h1M376.7 620.9h1M360.5 601h1M388.7 612.8h1M356.4 611.8h1M383.2 621.5h1M395.6 615.7h1M395.9 613.8h1M378.8 597.5h1M377.4 615.6h1M380.7 619.6h1M397 608.6h1M362.6 608.9h1M361.5 614.1h1M376.4 614.1h1M396.8 609.6h1M361.2 608.5h1M356.3 604.8h1M384.7 614.1h1M387.3 613h1M366.2 610.1h1M379.9 616.4h1M399.7 601.1h1M397.2 614.9h1M391.7 604h1M373.4 599.4h1M365.8 604.8h1M369 611.6h1M360.4 618.5h1M361.7 604.6h1M382.5 596.7h1M393.8 597.4h1M389.6 610.4h1M391.2 610.4h1M395.8 613.7h1M385.5 620.7h1M368.1 602.4h1M346.4 614.8h1M383.9 623.2h1M364.2 617.5h1M395.4 612.9h1M389.7 601.2h1M368.4 594.7h1M391.4 606.3h1M384.4 617.4h1M360.5 612.9h1M375.5 599.4h1M390.5 609.9h1M364.6 611h1M359.8 613.3h1M368.9 616.7h1M376.4 621.5h1M384.5 613.3h1M352.7 616.2h1M363.1 599.1h1M374.9 600.6h1M403.2 617h1M389.9 609.4h1M361.6 618.6h1M367.4 599.5h1M385.5 619.3h1M386.5 611.3h1M378.4 614.5h1M389 612.2h1M366.5 608.1h1M391 611h1M367.9 615.3h1M375.8 600.2h1M395.6 607.1h1M361.3 622h1M386 614.2h1M370.2 614.1h1M359.5 609.4h1M404.5 603.5h1M369.4 613.6h1M400.4 609.9h1M374.4 615.8h1M372.6 615.8h1M364.7 604.3h1M377.8 597.1h1M373.2 612.8h1M391 615.5h1M352.7 600.8h1M370.6 601.3h1M355.6 600.2h1M400.9 611.6h1M391.3 608.3h1M378.6 599.9h1M382.4 598.6h1M390.4 600.7h1M379.2 615.5h1M372.9 621.9h1M387.7 610h1M367.7 601.2h1M381.6 613.6h1M362.1 607.8h1M370.4 601.8h1M363.6 606.9h1M361.5 602.3h1M370.8 601.7h1M385.8 611.4h1M358 611.6h1M386 612.4h1M375.8 595.8h1M393.7 611.2h1M394.7 604.2h1M391.5 617.4h1M368.3 601.2h1M384.4 621.2h1M361.7 610h1M392 610.5h1M349.2 608.3h1M398.3 599h1M419.4 626.2h1M371.9 614.4h1M386.1 620.6h1M366.2 604.9h1M363 608.8h1M407.4 613.1h1M395.1 617.1h1M382.8 622.8h1M377.4 598.2h1M381.9 593.3h1M370.5 617.3h1M395.9 623.6h1M372 599.8h1M362.8 611.9h1M394 606.2h1M346.3 610.5h1M364 600h1M358.5 604.6h1M366.3 600.2h1M372.7 600.1h1M392.1 603.2h1M375.5 617.2h1M409.8 611.7h1M361.9 604.2h1M370.4 596.3h1M370.8 615.1h1M401.9 613.4h1M392.4 595h1M397.2 604.1h1M372.3 618.1h1M409.2 619.6h1M399.5 618.2h1M370.9 612.3h1M359.7 617.8h1M355.2 624.1h1M392.5 609.2h1M361.3 607.2h1M393.2 610h1M401 603.3h1M363.7 604.5h1M371.6 614.2h1M363.3 610.6h1M356 613h1M358.9 612.6h1M368 596.8h1M398.7 608.4h1M393.1 608.5h1M344.9 613h1M366.5 602.3h1M358.8 599.5h1M363.3 614.6h1M382.3 616.9h1M358 597.5h1M363.5 600.5h1M389.5 607.1h1M369.7 602h1M359.8 610.7h1M391.6 605h1M375.9 616.5h1M371.7 612.2h1M353.9 615.1h1M361.1 604.8h1M394.7 610.2h1M395.1 607.3h1M392.6 610.1h1M368.4 617h1M388 613.7h1M368.9 611.9h1M360 599.8h1M370.7 616.6h1M362.4 613h1M395.7 601h1M387.7 598.6h1M367.1 606.1h1M370.5 596.2h1M371.1 619h1M381.2 614.5h1M366.5 611.4h1M373.2 616h1M362.8 611.4h1M393.3 612h1M374.6 616.8h1M389.6 611.3h1M379.9 619.7h1M387.6 596.9h1M408.1 609.6h1M378.5 617.8h1M387.8 615.9h1M372.2 600.3h1M389.1 609.3h1M354.5 614.5h1M361.1 615.3h1M398 614.8h1M391.2 604.3h1M388.7 615.5h1M391.8 621.3h1M386 614.1h1M363.5 611.6h1M389.2 608.4h1M352.4 609.6h1M415.2 624h1M366.2 616.1h1M359.2 614.2h1M376.9 617.8h1M368.9 610.6h1M395.2 616.2h1M398.3 607.2h1M375.2 616.5h1M359 615.4h1M389.3 608.4h1M374.3 619.5h1M405.6 602.8h1M398.7 609h1M379.6 598.1h1M384.4 614.3h1M367.1 613.6h1M374.3 614h1M357.5 606.7h1M364.6 610h1M356.4 618.5h1M378.7 599.5h1M396.5 614.3h1M360.6 612.5h1M358.9 605.3h1M385.5 617.6h1M388.9 611.9h1M367.4 618.8h1M361.8 607.8h1M391.7 604.1h1M372.5 594.7h1M384 615.2h1M363.1 606.7h1M374.8 620.4h1M390.8 612.6h1M355.5 603.3h1M364 605h1M380.9 600.1h1M363 606.4h1M387.4 598.5h1M392.3 612h1M393.8 623h1M384.5 630.1h1M361.8 621.6h1M379.3 618.3h1M391.1 607.4h1M370 613.6h1M390 615.7h1M367.6 599.5h1M393.1 600.3h1M371.4 612.4h1M393 615.6h1M372.8 595.8h1M394.1 611.9h1M381 599.1h1M375.8 615.5h1M355.1 601.5h1M367.8 616.9h1M395 606.3h1M379.8 615.2h1M366 609h1M384.3 617.2h1M373.7 613.9h1M350.5 607.6h1M352 605.9h1M363.5 606.7h1M359.8 607h1M372.9 620.3h1M364.3 608h1M369 614.8h1M394.3 606.2h1M382.1 613.7h1M397.2 605.5h1M368.7 610.8h1M367.7 617.2h1M371.9 625.8h1M382.3 596.4h1M368.4 599.5h1M391.5 615.3h1M362.8 597.1h1M398.5 606.8h1M374.5 599.7h1M367.9 612.7h1M368 617.2h1M375 613.4h1M389.1 607.5h1M382.9 598.8h1M391.8 610.9h1M386.2 614h1M365.8 604.8h1M365.7 610.1h1M395.5 603.5h1M375.5 599.7h1M369.1 611.4h1M386.6 612.6h1M350.5 601.7h1M388.8 622.1h1M382.1 599.2h1M363.8 609.7h1M359.9 602.6h1M394.2 602.8h1M368.8 620.6h1M369 611.4h1M361 602h1M379.2 616.6h1M383.7 615.5h1M387.7 618.5h1M383.3 614.5h1M384.2 623.3h1M366.9 616.4h1M377.9 619.6h1M367.6 605.1h1M387.4 615.8h1M380.4 623.2h1M394.8 608.5h1M388.1 613.6h1M363.9 615.5h1M389.8 607.2h1M369.4 591.5h1M392 618.1h1M359.9 604.6h1M365.8 604.4h1M363.7 610.3h1M357.6 604.8h1M355.3 607h1M361.9 619.9h1M361.2 603.8h1M358.9 608.1h1M359.7 611.4h1M367.1 610h1M384 615.8h1M374.2 599.2h1M364.7 612.1h1M365.5 612.5h1M391.9 610.7h1M358.7 608h1M393.1 618.7h1M399.8 612.9h1M353.9 591.2h1M367.4 603.6h1M355.8 610.2h1M379.4 614.7h1M375.1 619.6h1M365 608.2h1M388.1 616.2h1M367.2 621.2h1M364.7 610.3h1M354.2 601.2h1M387.9 609.8h1M370.5 618.8h1M392.8 620.3h1M354.7 603.3h1M367.2 612.3h1M371.3 612.6h1M366.9 616.4h1M355.6 599.2h1M397.9 606.6h1M373.3 615.3h1M394.6 605.9h1M356.7 611.9h1M393.3 609.5h1M365.5 606.4h1M389.9 616.2h1M371.7 613.7h1M394.6 603.3h1M375 614.6h1M377.8 614.5h1M384.3 618.6h1M397.3 614.5h1M367.2 615.9h1M380.1 599.1h1M367.3 616.9h1M377.2 615.7h1M393 610.9h1M395.4 614.6h1M371.4 596.5h1M346.7 609.7h1M360.6 607h1M363.2 605.6h1M399.7 603.8h1M399.9 621.2h1M377.4 626.3h1M372.1 614.4h1M405.8 616.1h1M365.7 613.3h1M388.6 614.4h1M381.9 595.9h1M378 627.3h1M383.8 613.2h1M358.6 599.7h1M356.8 608.9h1M402.5 597.1h1M360.7 607.2h1M366.1 595.7h1M365.7 600h1M357.9 603.4h1M364.1 599.3h1M393 613.7h1M369.5 601.7h1M359.4 607.1h1M364 611.8h1M388.9 600.6h1M357.4 596h1M367.5 599.6h1M364.5 603.7h1M378.5 596.6h1M370.8 617.3h1M366.1 621h1M365.9 603.5h1M361 614.3h1M386.5 621.3h1M364.6 615.9h1M375.4 624h1M374.9 630.6h1M374.7 635.5h1M406.7 628.3h1M374.4 618.1h1M386.6 633.9h1M372.1 622h1M379.7 624.2h1M360 609.6h1M378.4 614.2h1M384.1 616.7h1M384.2 629.7h1M361.6 611.3h1M357 611.8h1M364.3 612.4h1M370.6 621h1M383.1 623.3h1M392.8 628.1h1M390.2 623.3h1M351.1 613.7h1M378.3 629.1h1M380.9 622.6h1M391.5 609.6h1M400.1 615h1M369.5 616.1h1M369.6 601.6h1M385.4 623.5h1M372.1 623.8h1M376.8 616.7h1M380.5 624.1h1M360.6 618.2h1M377.7 617.6h1M369.8 626.3h1M383.3 621.7h1M407.5 618.6h1M346.3 605.8h1M373.4 632h1M375.3 599h1M378.9 628.3h1M394 616.5h1M364 611.5h1M392.8 609.8h1M385.9 632.3h1M365.8 630h1M374.6 628.6h1M381.7 617.8h1M367.3 616h1M375.5 618.5h1M372.5 622.6h1M375.6 614.4h1M372.1 618.6h1M391.7 623.3h1M374 617.6h1M366.8 619.6h1M364.3 620.6h1M387.7 620.9h1M400.5 625.4h1M393.4 626.1h1M361 610.4h1M376.9 626.5h1M366.2 621.1h1M371.7 612.3h1M384.3 628.3h1M397.3 632.2h1M369.7 615.5h1M387 614h1M384.5 625.7h1M367.5 612h1M386.7 623.2h1M364.9 621.7h1M393.5 608.7h1M355.3 614.1h1M374.4 614.5h1M375.5 624.4h1M370.7 615.7h1M389.6 617.7h1M387.5 611.7h1M359.2 624.4h1M380.6 623.9h1M362.9 621.3h1M383.4 621.9h1M373.5 632.3h1M390.7 605.2h1M386.1 614.9h1M380 624.5h1M365.5 619.9h1M387 620.8h1M379.1 618.3h1M368.8 620.3h1M369.4 631.4h1M355.9 611.5h1M383.4 625.5h1M367.3 615.9h1M365 622.4h1M382.6 598.1h1M368.4 599.1h1M364.2 615.5h1M382.1 619.8h1M374.6 616.2h1M369.8 615.4h1M380.2 628.5h1M353.4 608.6h1M349.2 614.1h1M388.5 610.6h1M385.5 625.3h1M384.7 621h1M391.2 612.6h1M365.7 613.8h1M361.9 629.8h1M366.2 623.9h1M372.5 619h1M351.6 629h1M385 614.3h1M390.4 633.9h1M373.1 617.1h1M366.2 614.9h1M346 589.5h1M376.4 630.4h1M352.7 617.6h1M361.1 614.2h1M369.7 614.8h1M391.2 605.7h1M366.3 624.2h1M379.9 627h1M378.7 622.4h1M354.6 629.6h1M372.4 612.9h1M357.7 611.7h1M352.2 629.8h1M386.4 616.9h1M358.7 598.4h1M395.2 612.1h1M355.2 634.2h1M371 611.5h1M362 613.4h1M358.2 605h1M391.7 626.5h1M380.4 617.6h1M364.9 610.4h1M369.4 611.9h1M382.1 620h1M379.8 619.3h1M377.6 620.1h1M355.9 608.5h1M379 630h1M370.4 616.1h1M380 627.9h1M372.5 599.4h1M386.7 622.4h1M371.5 621.8h1M376 629.8h1M380.2 621.7h1M380.8 631h1M396.6 627.7h1M348.2 601.5h1M361.7 612.6h1M353.7 609.5h1M376.4 620.7h1M368.4 621.2h1M409.3 621.1h1M359.2 613.4h1M379.6 622h1M372.7 625.8h1M371.2 618.8h1M372.9 612.8h1M364.3 622.1h1M372 615.1h1M370.8 624h1M379.8 617.9h1M369.9 617.9h1M363 634.8h1M380.3 618h1M358.9 594.6h1M395.9 635.8h1M369.1 614.4h1M370.4 627.6h1M381.1 623.1h1M378.5 600.6h1M378.2 617h1M370.8 624.4h1M372.1 618.1h1M368 616.4h1M387.2 611.7h1M368.2 627.1h1M384.5 634.9h1M361.7 617.2h1M365.2 616.3h1M372.1 636.4h1M390.6 622.3h1M376.5 616.9h1M360.2 635.1h1M383.7 616.3h1M384.6 619.9h1M371.1 621.8h1M357.4 614.1h1M371.7 614.4h1M366 623.2h1M373.7 617h1M359.4 611.2h1M354 606h1M375.1 615.9h1M382.5 615.7h1M372.6 626.3h1M382.7 615.1h1M376.7 624.8h1M384.8 619.6h1M362.4 629.8h1M376.1 615h1M353.3 613.2h1M381.2 620.1h1M365 612.7h1M386.1 613.6h1M373.2 616.4h1M364.2 613.1h1M365.3 620.3h1M356.7 621.9h1M363.1 615.9h1M372 616.8h1M372.9 617.2h1M371.9 612.3h1M385.6 626h1M359 603.8h1M376.4 614.3h1M375.9 627.7h1M385.3 615.1h1M368.6 611.1h1M374 616.2h1M368.3 627.1h1M380.7 628.2h1M388.8 619.1h1M356.5 606.4h1M365.5 608.6h1M389.3 611.3h1M367.9 615.5h1M381 625.1h1M398.3 620.4h1M365.6 607.7h1M372 621.3h1M389.7 625.4h1M371.5 618.9h1M365.8 611.1h1M376.5 618.2h1M367.7 617.2h1M350.9 619h1M371.6 621.5h1M372.2 613.6h1M396.5 618.5h1M369.6 631h1M386.5 627.4h1M376.3 619.2h1M405.6 615.3h1M386.1 618.8h1M366 628h1M365.6 630.8h1M380.8 616.3h1M384.6 620.7h1M359.7 625.5h1M362.7 617.2h1M375.5 617.8h1M376 618.6h1M399.3 621.3h1M366 598.6h1M380.8 634.5h1M382.7 626.6h1M387.3 615.9h1M388.4 622.3h1M362.8 621.8h1M378.3 624.2h1M373.3 614.6h1M403.4 628.7h1M366.8 621.3h1M363.7 624.3h1M389.8 621.9h1M388.4 619.4h1M400.4 613.8h1M365.1 620.4h1M388.5 621.7h1M397.8 604.5h1M371.6 615.3h1M372.4 614.5h1M359.6 622.7h1M361 608.8h1M360.6 620.1h1M380 625.1h1M373.5 616.5h1M367.3 621.9h1M384.2 616.1h1M352.4 619.2h1M384.9 627.3h1M380.3 619.4h1M378.9 615.5h1M382.7 620.8h1M379.1 616.2h1M377.3 623.6h1M368.2 619.6h1M388.7 620.1h1M377.3 615h1M374.9 626.5h1M372.3 615.7h1M388.8 628.3h1M377.9 625.5h1M362.2 625.5h1M381.4 628.6h1M377.2 625h1M360.4 625.2h1M399.2 613.7h1M395 617h1M405.5 605.4h1M400.1 604.8h1M402.9 610.8h1M397.8 609.6h1M400.3 602.2h1M401.9 618.1h1M395.2 604.1h1M400.3 622.2h1M399.5 605.1h1M397.8 607.6h1M395.3 613.2h1M401.7 602.2h1M398.4 613h1M396.6 603.2h1M398.6 599.4h1M398.3 596.3h1M398 608h1M398.8 613h1M399.7 600.5h1M403.7 610.5h1M397.3 607.8h1M400.1 605.5h1M399.5 605.3h1M397.3 605.8h1M398.2 619.6h1M392 613.1h1M402 615.2h1M399 621.8h1" stroke="#111" stroke-width="1"/>
</g>
<defs><clipPath id="c9"><rect x="344.4" y="539.5" width="100.2" height="100.5"/></clipPath></defs>
<path d="M400.9 539.5V640M344.4 589.4H444.6" stroke="#d65a5a" stroke-width="0.9"/>
<path d="M344.4 539.5H444.6V640H344.4" fill="none" stroke="#6b88c8" stroke-width="0.9"/>
<path d="M344.4 539V640.5" fill="none" stroke="#3f62b0" stroke-width="1.1"/>
<path d="M340.9 539.5H444.6" fill="none" stroke="#7d95cc" stroke-width="1.3"/>
<text x="345.2" y="546.5" font-size="7.5" fill="#d0413f">Q3-UL</text>
<text x="345.2" y="553.1" font-size="7.5" fill="#d0413f">0.0%</text>
<text x="422.3" y="546.5" font-size="7.5" fill="#d0413f">Q3-UR</text>
<text x="422.3" y="553.1" font-size="7.5" fill="#d0413f">0.0%</text>
<text x="345.2" y="632.8" font-size="7.5" fill="#d0413f">Q3-LL</text>
<text x="345.2" y="639.2" font-size="7.5" fill="#d0413f">93.4%</text>
<text x="422.3" y="632.8" font-size="7.5" fill="#d0413f">Q3-LR</text>
<text x="422.3" y="639.2" font-size="7.5" fill="#d0413f">0.6%</text>
<path d="M529.1 302.8V298.3M526.1 298.3h6" stroke="#1a1a1a" stroke-width="1.2"/>
<rect x="521.9" y="302.8" width="14.4" height="11.4" fill="#ffffff" stroke="#2a2a2a" stroke-width="1.2"/>
<path d="M555.9 303.6V303M552.9 303h6" stroke="#1a1a1a" stroke-width="1.2"/>
<rect x="548.7" y="303.6" width="14.4" height="10.6" fill="#000000" stroke="#2a2a2a" stroke-width="1.2"/>
<path d="M582.3 245.7V235.6M579.3 235.6h6" stroke="#1a1a1a" stroke-width="1.2"/>
<rect x="575.1" y="245.7" width="14.4" height="68.5" fill="#d3d3d3" stroke="#2a2a2a" stroke-width="1.2"/>
<path d="M514.4 208V314.2H597.5" fill="none" stroke="#1a1a1a" stroke-width="1.3"/>
<path d="M512.4 314.2H514.4" stroke="#1a1a1a" stroke-width="1.2"/>
<text x="510.6" y="317.3" font-size="8.6" font-weight="bold" text-anchor="end" fill="#1a1a1a">0</text>
<path d="M512.4 287.6H514.4" stroke="#1a1a1a" stroke-width="1.2"/>
<text x="510.6" y="290.8" font-size="8.6" font-weight="bold" text-anchor="end" fill="#1a1a1a">5</text>
<path d="M512.4 261.1H514.4" stroke="#1a1a1a" stroke-width="1.2"/>
<text x="510.6" y="264.2" font-size="8.6" font-weight="bold" text-anchor="end" fill="#1a1a1a">10</text>
<path d="M512.4 234.6H514.4" stroke="#1a1a1a" stroke-width="1.2"/>
<text x="510.6" y="237.7" font-size="8.6" font-weight="bold" text-anchor="end" fill="#1a1a1a">15</text>
<path d="M512.4 208H514.4" stroke="#1a1a1a" stroke-width="1.2"/>
<text x="510.6" y="211.1" font-size="8.6" font-weight="bold" text-anchor="end" fill="#1a1a1a">20</text>
<path d="M529.1 314.2V316.7" stroke="#1a1a1a" stroke-width="1.2"/>
<text x="531.5" y="325.2" font-size="8.8" font-weight="bold" text-anchor="end" fill="#1a1a1a" transform="rotate(-45 531.5 325.2)">WT</text>
<path d="M555.9 314.2V316.7" stroke="#1a1a1a" stroke-width="1.2"/>
<text x="558.3" y="325.2" font-size="8.8" font-weight="bold" text-anchor="end" fill="#1a1a1a" transform="rotate(-45 558.3 325.2)">Vector</text>
<path d="M582.3 314.2V316.7" stroke="#1a1a1a" stroke-width="1.2"/>
<text x="584.7" y="325.2" font-size="8.8" font-weight="bold" text-anchor="end" fill="#1a1a1a" transform="rotate(-45 584.7 325.2)">HOXA4</text>
<text x="483.6" y="260.2" font-size="11.3" font-weight="bold" text-anchor="middle" fill="#1a1a1a" transform="rotate(-90 483.6 260.2)">NCI-H1975 cells</text>
<text x="495.9" y="260.2" font-size="10.2" font-weight="bold" text-anchor="middle" fill="#1a1a1a" transform="rotate(-90 495.9 260.2)">Apoptosis rate (%)</text>
<text x="582.7" y="235.3" font-size="8.5" text-anchor="middle" fill="#222" letter-spacing="0.6">***</text>
<path d="M529.1 455.6V454.2M526.1 454.2h6" stroke="#1a1a1a" stroke-width="1.2"/>
<rect x="521.9" y="455.6" width="14.4" height="13.3" fill="#ffffff" stroke="#2a2a2a" stroke-width="1.2"/>
<path d="M555.9 452.2V449.4M552.9 449.4h6" stroke="#1a1a1a" stroke-width="1.2"/>
<rect x="548.7" y="452.2" width="14.4" height="16.7" fill="#000000" stroke="#2a2a2a" stroke-width="1.2"/>
<path d="M582.3 388.6V386.3M579.3 386.3h6" stroke="#1a1a1a" stroke-width="1.2"/>
<rect x="575.1" y="388.6" width="14.4" height="80.3" fill="#d3d3d3" stroke="#2a2a2a" stroke-width="1.2"/>
<path d="M513.6 362.7V468.9H597.8" fill="none" stroke="#1a1a1a" stroke-width="1.3"/>
<path d="M511.6 468.9H513.6" stroke="#1a1a1a" stroke-width="1.2"/>
<text x="509.8" y="472" font-size="8.6" font-weight="bold" text-anchor="end" fill="#1a1a1a">0</text>
<path d="M511.6 433.5H513.6" stroke="#1a1a1a" stroke-width="1.2"/>
<text x="509.8" y="436.6" font-size="8.6" font-weight="bold" text-anchor="end" fill="#1a1a1a">5</text>
<path d="M511.6 398.1H513.6" stroke="#1a1a1a" stroke-width="1.2"/>
<text x="509.8" y="401.2" font-size="8.6" font-weight="bold" text-anchor="end" fill="#1a1a1a">10</text>
<path d="M511.6 362.7H513.6" stroke="#1a1a1a" stroke-width="1.2"/>
<text x="509.8" y="365.8" font-size="8.6" font-weight="bold" text-anchor="end" fill="#1a1a1a">15</text>
<path d="M529.1 468.9V471.4" stroke="#1a1a1a" stroke-width="1.2"/>
<text x="531.5" y="479.9" font-size="8.8" font-weight="bold" text-anchor="end" fill="#1a1a1a" transform="rotate(-45 531.5 479.9)">WT</text>
<path d="M555.9 468.9V471.4" stroke="#1a1a1a" stroke-width="1.2"/>
<text x="558.3" y="479.9" font-size="8.8" font-weight="bold" text-anchor="end" fill="#1a1a1a" transform="rotate(-45 558.3 479.9)">Vector</text>
<path d="M582.3 468.9V471.4" stroke="#1a1a1a" stroke-width="1.2"/>
<text x="584.7" y="479.9" font-size="8.8" font-weight="bold" text-anchor="end" fill="#1a1a1a" transform="rotate(-45 584.7 479.9)">HOXA4</text>
<text x="482.8" y="414.9" font-size="11.3" font-weight="bold" text-anchor="middle" fill="#1a1a1a" transform="rotate(-90 482.8 414.9)">NCI-H446 cells</text>
<text x="495.1" y="414.9" font-size="10.2" font-weight="bold" text-anchor="middle" fill="#1a1a1a" transform="rotate(-90 495.1 414.9)">Apoptosis rate (%)</text>
<text x="582.7" y="386.5" font-size="8.5" text-anchor="middle" fill="#222" letter-spacing="0.6">***</text>
<path d="M529.1 558.2V552.4M526.1 552.4h6" stroke="#1a1a1a" stroke-width="1.2"/>
<rect x="521.9" y="558.2" width="14.4" height="78.2" fill="#ffffff" stroke="#2a2a2a" stroke-width="1.2"/>
<path d="M555.9 565.3V555M552.9 555h6" stroke="#1a1a1a" stroke-width="1.2"/>
<rect x="548.7" y="565.3" width="14.4" height="71.1" fill="#000000" stroke="#2a2a2a" stroke-width="1.2"/>
<path d="M582.3 614.5V605M579.3 605h6" stroke="#1a1a1a" stroke-width="1.2"/>
<rect x="575.1" y="614.5" width="14.4" height="21.9" fill="#d3d3d3" stroke="#2a2a2a" stroke-width="1.2"/>
<path d="M513.8 530.5V636.4H599.5" fill="none" stroke="#1a1a1a" stroke-width="1.3"/>
<path d="M511.8 636.4H513.8" stroke="#1a1a1a" stroke-width="1.2"/>
<text x="510" y="639.5" font-size="8.6" font-weight="bold" text-anchor="end" fill="#1a1a1a">0</text>
<path d="M511.8 601.1H513.8" stroke="#1a1a1a" stroke-width="1.2"/>
<text x="510" y="604.2" font-size="8.6" font-weight="bold" text-anchor="end" fill="#1a1a1a">2</text>
<path d="M511.8 565.8H513.8" stroke="#1a1a1a" stroke-width="1.2"/>
<text x="510" y="568.9" font-size="8.6" font-weight="bold" text-anchor="end" fill="#1a1a1a">4</text>
<path d="M511.8 530.5H513.8" stroke="#1a1a1a" stroke-width="1.2"/>
<text x="510" y="533.6" font-size="8.6" font-weight="bold" text-anchor="end" fill="#1a1a1a">6</text>
<path d="M529.1 636.4V638.9" stroke="#1a1a1a" stroke-width="1.2"/>
<text x="531.5" y="647.4" font-size="8.8" font-weight="bold" text-anchor="end" fill="#1a1a1a" transform="rotate(-45 531.5 647.4)">WT</text>
<path d="M555.9 636.4V638.9" stroke="#1a1a1a" stroke-width="1.2"/>
<text x="558.3" y="647.4" font-size="8.8" font-weight="bold" text-anchor="end" fill="#1a1a1a" transform="rotate(-45 558.3 647.4)">shNC</text>
<path d="M582.3 636.4V638.9" stroke="#1a1a1a" stroke-width="1.2"/>
<text x="584.7" y="647.4" font-size="8.8" font-weight="bold" text-anchor="end" fill="#1a1a1a" transform="rotate(-45 584.7 647.4)">shHOXA4</text>
<text x="487.5" y="582.4" font-size="11.3" font-weight="bold" text-anchor="middle" fill="#1a1a1a" transform="rotate(-90 487.5 582.4)">NCI-H1299 cells</text>
<text x="499.8" y="582.4" font-size="10.2" font-weight="bold" text-anchor="middle" fill="#1a1a1a" transform="rotate(-90 499.8 582.4)">Apoptosis rate (%)</text>
<text x="582.7" y="605" font-size="8.5" text-anchor="middle" fill="#222" letter-spacing="0.6">**</text>
</svg>
</body></html>
